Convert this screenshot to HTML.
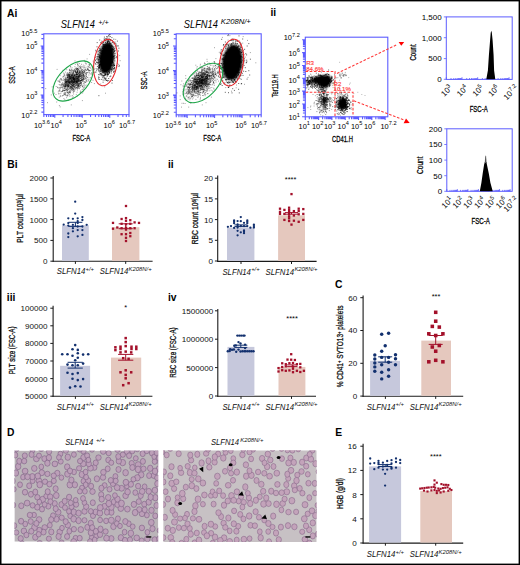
<!DOCTYPE html>
<html><head><meta charset="utf-8"><style>
html,body{margin:0;padding:0;background:#fff;width:520px;height:565px;overflow:hidden}
svg text{font-family:"Liberation Sans",sans-serif}
</style></head><body>
<svg width="520" height="565" viewBox="0 0 520 565" style="position:absolute;left:0;top:0">
<defs><filter id="bl22" x="-50%" y="-50%" width="200%" height="200%"><feGaussianBlur stdDeviation="2.2"/></filter><filter id="bl09" x="-50%" y="-50%" width="200%" height="200%"><feGaussianBlur stdDeviation="0.9"/></filter><filter id="bl08" x="-50%" y="-50%" width="200%" height="200%"><feGaussianBlur stdDeviation="0.8"/></filter><filter id="bls" x="0" y="0" width="100%" height="100%"><feGaussianBlur stdDeviation="0.5"/></filter></defs>
<rect x="0" y="0" width="520" height="1.4" fill="#000" />
<rect x="0" y="0" width="1.5" height="565" fill="#000" />
<rect x="518.6" y="0" width="1.4" height="565" fill="#000" />
<rect x="0" y="563.6" width="520" height="1.4" fill="#000" />
<text x="7" y="16.6" font-size="10.3" text-anchor="start" font-weight="bold" font-style="normal" fill="#000" >Ai</text>
<text x="270.5" y="16.4" font-size="10.3" text-anchor="start" font-weight="bold" font-style="normal" fill="#000" >ii</text>
<text x="7.3" y="167.9" font-size="10.3" text-anchor="start" font-weight="bold" font-style="normal" fill="#000" >Bi</text>
<text x="168" y="167.8" font-size="10.3" text-anchor="start" font-weight="bold" font-style="normal" fill="#000" >ii</text>
<text x="6.8" y="300.8" font-size="10.3" text-anchor="start" font-weight="bold" font-style="normal" fill="#000" >iii</text>
<text x="168" y="300.8" font-size="10.3" text-anchor="start" font-weight="bold" font-style="normal" fill="#000" >iv</text>
<text x="335" y="287.7" font-size="10.3" text-anchor="start" font-weight="bold" font-style="normal" fill="#000" >C</text>
<text x="7" y="435.7" font-size="10.3" text-anchor="start" font-weight="bold" font-style="normal" fill="#000" >D</text>
<text x="335.2" y="435.8" font-size="10.3" text-anchor="start" font-weight="bold" font-style="normal" fill="#000" >E</text>
<path d="M41.4 112.13H43.8M41.4 107.81H43.8M41.4 104.76H43.8M41.4 102.38H43.8M41.4 100.44H43.8M41.4 98.8H43.8M41.4 97.38H43.8M41.4 96.13H43.8M40.6 95.01H43.8M41.4 87.64H43.8M41.4 83.33H43.8M41.4 80.27H43.8M41.4 77.9H43.8M41.4 75.96H43.8M41.4 74.32H43.8M41.4 72.9H43.8M41.4 71.65H43.8M40.6 70.53H43.8M41.4 63.16H43.8M41.4 58.85H43.8M41.4 55.79H43.8M41.4 53.41H43.8M41.4 51.47H43.8M41.4 49.84H43.8M41.4 48.42H43.8M41.4 47.16H43.8M40.6 46.04H43.8M41.4 38.67H43.8M41.4 34.36H43.8M43.86 114.6V117M46.52 114.6V117M48.7 114.6V117M50.54 114.6V117M52.13 114.6V117M53.54 114.6V117M54.79 114.6V117.8M63.07 114.6V117M67.91 114.6V117M71.34 114.6V117M74 114.6V117M76.18 114.6V117M78.02 114.6V117M79.61 114.6V117M81.02 114.6V117M82.28 114.6V117.8M90.55 114.6V117M95.39 114.6V117M98.82 114.6V117M101.49 114.6V117M103.66 114.6V117M105.5 114.6V117M107.1 114.6V117M108.5 114.6V117M109.76 114.6V117.8M118.03 114.6V117M122.87 114.6V117M126.31 114.6V117M128.97 114.6V117" stroke="#5c5cff" stroke-width="1.1" fill="none"/>
<rect x="43.8" y="33.8" width="85.2" height="80.8" fill="none" stroke="#5c5cff" stroke-width="1.1"/>
<ellipse cx="75" cy="79" rx="7" ry="3.2" transform="rotate(-45 75 79)" fill="#000" fill-opacity="0.18" filter="url(#bl22)"/>
<path d="M72.5 77.5h0M72.8 74.3h0M73.0 81.3h0M66.1 81.7h0M71.6 82.0h0M68.9 85.7h0M82.5 86.8h0M79.7 68.8h0M71.2 82.0h0M70.3 82.7h0M78.8 78.0h0M80.0 80.8h0M73.5 77.3h0M66.3 82.4h0M69.0 74.3h0M75.6 72.4h0M68.3 89.2h0M71.9 82.4h0M59.9 87.5h0M65.6 85.9h0M63.7 90.5h0M74.7 82.5h0M65.0 85.1h0M75.3 77.1h0M69.5 72.7h0M69.6 76.9h0M64.8 99.7h0M64.2 75.6h0M73.1 78.7h0M75.9 79.5h0M64.2 87.4h0M69.0 79.7h0M68.5 85.1h0M69.7 84.3h0M80.5 72.9h0M63.6 78.2h0M73.8 79.2h0M77.0 71.5h0M69.3 81.2h0M74.6 80.9h0M77.2 80.9h0M77.8 82.0h0M65.6 85.2h0M78.0 82.1h0M86.4 75.2h0M69.0 92.4h0M84.1 78.9h0M74.7 78.3h0M70.1 82.7h0M89.1 70.3h0M74.6 70.5h0M68.1 87.3h0M73.2 77.3h0M76.7 74.9h0M67.7 75.0h0M75.7 72.5h0M74.0 79.8h0M81.4 78.4h0M86.3 74.2h0M70.2 83.3h0M75.1 77.7h0M69.0 79.5h0M76.6 80.1h0M66.6 85.7h0M73.0 84.9h0M79.0 86.4h0M79.7 74.1h0M76.4 67.8h0M63.8 84.6h0M65.0 79.5h0M74.4 71.8h0M66.9 95.6h0M72.5 83.0h0M69.0 75.1h0M84.1 74.2h0M82.7 79.5h0M71.4 80.3h0M70.1 79.5h0M71.9 79.9h0M84.5 71.4h0M74.0 84.1h0M76.5 85.1h0M80.5 81.3h0M77.6 84.1h0M77.8 85.1h0M70.0 88.3h0M69.5 74.6h0M71.4 81.7h0M82.4 73.6h0M77.1 74.4h0M77.3 82.6h0M77.3 74.4h0M69.5 78.5h0M85.4 77.9h0M76.6 81.7h0M78.7 76.7h0M69.8 90.2h0M80.0 80.9h0M65.6 90.6h0M54.4 83.6h0M70.5 79.1h0M67.7 83.4h0M72.3 75.3h0M88.5 66.8h0M73.4 88.3h0M69.2 81.6h0M72.0 74.6h0M84.0 83.2h0M72.0 79.1h0M69.3 76.7h0M79.4 76.1h0M79.0 77.8h0M66.1 83.3h0M76.6 82.5h0M73.1 77.7h0M65.2 82.8h0M76.6 78.5h0M71.9 87.1h0M78.2 71.7h0M76.7 79.4h0M74.7 78.7h0M80.2 92.2h0M71.5 77.9h0M67.1 95.9h0M67.6 86.0h0M76.2 76.9h0M64.2 94.5h0M82.4 77.4h0M68.2 94.0h0M80.1 76.1h0M67.5 82.6h0M77.4 73.1h0M76.9 80.4h0M67.3 90.5h0M86.5 76.6h0M84.4 72.3h0M77.6 83.3h0M77.8 86.1h0M74.1 81.0h0M63.9 80.5h0M77.2 69.1h0M66.6 78.0h0M79.4 85.0h0M67.0 81.5h0M74.8 87.2h0M68.8 89.0h0M87.5 77.6h0M76.8 83.7h0M79.9 73.4h0M73.9 78.8h0M70.7 83.9h0M73.1 82.0h0M69.4 81.1h0M74.4 79.3h0M77.5 87.0h0M67.2 75.7h0M67.2 88.5h0M66.8 81.3h0M84.9 70.3h0M73.2 86.2h0M68.1 85.6h0M79.0 80.0h0M77.7 66.0h0M69.5 91.7h0M71.3 78.8h0M72.8 85.3h0M64.6 90.6h0M70.5 66.7h0M71.9 77.2h0M75.6 79.8h0M75.1 89.0h0M78.1 77.7h0M72.1 83.5h0M69.1 75.8h0M72.6 90.7h0M73.2 92.6h0M82.5 71.7h0M70.8 81.8h0M71.0 72.5h0M77.2 82.6h0M80.7 90.9h0M73.8 84.8h0M82.4 79.9h0M74.5 83.1h0M70.4 77.2h0M79.0 83.7h0M77.5 68.5h0M77.9 74.8h0M77.7 78.1h0M74.0 85.7h0M67.6 89.1h0M81.4 75.1h0M77.8 71.3h0M69.5 76.1h0M77.9 76.5h0M76.8 72.5h0M75.2 70.3h0M75.9 69.9h0M70.2 80.6h0M77.5 64.5h0M62.7 82.5h0M74.3 69.1h0M78.0 77.2h0M81.0 75.6h0M92.2 74.9h0M78.4 65.8h0M65.5 84.1h0M67.4 92.5h0M78.6 73.9h0M67.4 84.5h0M80.0 85.1h0M78.4 73.4h0M61.0 85.5h0M57.7 87.7h0M77.1 79.1h0M75.8 80.2h0M68.6 76.5h0M71.5 76.1h0M71.1 86.4h0M67.4 90.4h0M71.4 78.4h0M70.8 87.3h0M66.6 91.1h0M71.7 70.7h0M73.1 78.8h0M78.3 78.4h0M66.8 83.5h0M63.6 76.5h0M67.6 84.5h0M71.7 87.2h0M80.8 83.5h0M62.7 77.0h0M85.1 85.9h0M72.9 73.8h0M89.6 70.6h0M70.2 91.8h0M83.0 77.4h0M74.5 80.5h0M70.6 75.8h0M67.9 90.1h0M69.4 79.9h0M70.7 66.9h0M83.2 89.2h0M77.3 81.3h0M78.7 87.1h0M78.4 69.7h0M79.1 84.4h0M66.6 97.7h0M75.4 88.7h0M62.7 91.1h0M51.3 94.9h0M70.8 82.1h0M75.3 64.4h0M69.2 73.7h0M67.8 86.8h0M65.7 81.9h0M80.7 72.2h0M75.1 78.2h0M81.1 85.5h0M78.4 84.0h0M74.6 79.1h0M83.2 78.6h0M75.2 73.7h0M74.7 77.1h0M71.3 88.7h0M73.5 72.4h0M69.5 82.7h0M76.7 68.7h0M67.3 87.4h0M79.0 85.6h0M72.0 77.1h0M67.4 88.1h0M81.8 66.4h0M79.4 67.1h0M67.7 78.2h0M83.8 79.6h0M84.4 84.9h0M60.5 96.6h0M73.7 75.7h0M76.4 82.2h0M73.9 77.9h0M70.7 88.5h0M73.8 82.0h0M74.4 81.5h0M83.5 74.4h0M74.6 75.6h0M73.2 78.2h0M78.0 64.8h0M69.8 81.4h0M67.6 77.2h0M63.2 89.8h0M80.7 67.1h0M80.6 74.1h0M81.4 75.5h0M73.9 70.9h0M72.5 76.2h0M72.7 75.2h0M75.4 83.4h0M78.8 86.3h0M77.6 81.9h0M82.3 69.4h0M82.6 81.0h0M69.2 74.9h0M75.9 87.8h0M68.6 81.1h0M75.0 60.9h0M86.1 85.1h0M80.0 84.2h0M69.1 78.2h0M68.5 86.6h0M73.4 79.2h0M80.0 74.6h0M67.3 77.0h0M70.9 78.6h0M74.7 82.3h0M75.9 79.6h0M68.9 92.9h0M73.4 81.2h0M77.1 92.2h0M77.4 71.9h0M70.8 84.9h0M71.7 69.8h0M79.5 66.4h0M77.0 85.7h0M67.9 80.0h0M77.4 80.1h0M74.3 79.3h0M65.2 82.0h0M76.1 75.6h0M84.8 65.9h0M71.4 79.4h0M75.7 83.2h0M70.4 87.8h0M74.5 75.7h0M64.1 84.0h0M68.8 87.0h0M81.8 71.6h0M72.5 88.2h0M89.6 81.7h0M86.3 73.2h0M75.9 77.8h0M77.2 75.7h0M83.3 65.1h0M70.4 77.7h0M67.7 79.8h0M65.2 86.3h0M73.4 77.9h0M85.7 73.1h0M78.9 72.5h0M68.3 84.5h0M65.5 80.6h0M76.9 87.8h0M77.9 79.4h0M79.1 86.5h0M78.4 80.8h0M81.1 82.6h0M71.9 80.5h0M76.6 82.1h0M84.5 87.1h0M70.0 76.0h0M81.3 80.3h0M91.1 73.9h0M79.4 77.4h0M77.3 81.7h0M68.6 93.7h0M74.6 75.0h0M64.3 92.4h0M63.2 85.0h0M77.3 72.2h0M76.6 73.3h0M73.1 79.9h0M64.8 90.1h0M73.8 83.2h0M65.7 78.8h0M84.9 82.3h0M91.8 69.9h0M78.2 80.6h0M68.7 82.9h0M67.3 86.2h0M76.0 81.7h0M74.8 81.9h0M62.1 80.7h0M77.7 81.3h0M77.4 96.1h0M74.9 66.7h0M84.1 76.5h0M82.2 74.3h0M71.3 81.9h0M82.1 81.0h0M69.8 76.3h0M72.7 82.4h0M77.4 86.4h0M66.1 86.6h0M64.5 86.7h0M79.6 75.2h0M71.9 79.2h0M81.0 83.4h0M77.4 70.5h0M67.1 92.7h0M65.7 80.0h0M77.8 80.7h0M76.5 76.8h0M63.6 73.1h0M80.6 73.4h0M72.2 74.7h0M65.8 85.2h0M74.1 90.2h0M75.5 71.0h0M73.7 73.2h0M68.0 95.6h0M82.9 71.9h0M83.2 81.1h0M83.6 72.6h0M69.3 78.8h0M72.5 81.0h0M71.9 90.3h0M92.7 67.6h0M73.5 80.5h0M84.1 70.2h0M70.3 83.0h0M73.5 76.6h0M71.0 95.9h0M72.2 81.8h0M76.6 69.9h0M65.5 85.3h0M83.3 75.6h0M78.6 79.6h0M67.8 85.2h0M69.3 80.2h0M71.9 82.3h0M68.6 74.2h0M67.0 78.3h0M72.3 87.1h0M71.1 79.7h0M69.7 86.9h0M70.9 91.2h0M76.4 82.0h0M79.8 74.3h0M72.5 95.7h0M76.8 81.7h0M69.5 82.2h0M71.1 87.8h0M80.9 75.8h0M68.6 79.7h0M83.6 70.8h0M69.3 83.6h0M70.2 70.6h0M72.6 80.3h0M69.1 83.0h0M76.5 74.5h0M68.1 74.9h0M76.9 74.7h0M74.1 79.6h0M68.4 86.3h0M70.1 76.3h0M76.9 81.3h0M76.1 69.7h0M68.4 84.1h0M78.6 84.1h0M62.0 87.4h0M76.7 73.9h0M71.7 89.5h0M62.5 88.9h0M73.2 78.9h0M81.8 73.7h0M69.0 92.1h0M60.7 78.6h0M67.3 81.1h0M64.4 82.8h0M73.1 73.6h0M66.8 81.4h0M67.4 81.0h0M79.0 77.0h0M67.0 81.0h0M77.5 77.3h0M70.1 86.6h0M64.9 84.3h0M64.0 90.8h0M91.0 73.9h0M73.7 82.5h0M73.8 75.9h0M74.1 79.5h0M72.4 75.5h0M75.7 80.1h0M88.7 71.0h0M65.6 82.9h0M64.6 88.1h0M72.2 89.2h0M64.9 85.8h0M79.6 75.7h0M76.0 71.2h0M66.1 82.5h0M64.5 86.1h0M79.5 88.7h0M81.4 69.9h0M56.0 94.5h0M75.8 74.5h0M67.6 85.4h0M82.8 75.5h0M68.7 86.5h0M79.5 87.9h0M66.2 89.1h0M73.4 90.0h0M83.6 72.2h0M81.3 76.6h0M67.4 77.2h0M68.9 84.3h0M63.0 90.5h0M71.4 81.0h0M67.3 72.7h0M76.9 82.9h0M72.7 78.8h0M66.4 84.7h0M73.3 79.1h0M73.5 79.0h0M83.5 73.2h0M81.5 64.3h0M70.7 77.3h0M70.9 85.0h0M74.6 80.4h0M69.7 81.9h0M68.2 82.0h0M71.4 77.1h0M68.1 85.5h0M81.9 79.7h0M70.4 76.7h0M80.9 83.0h0M76.2 83.3h0M68.7 82.3h0M71.4 87.7h0M68.3 76.1h0M65.6 77.1h0M71.7 73.9h0M73.1 78.2h0M65.3 86.5h0M73.2 77.4h0M66.8 87.8h0M63.9 76.2h0M74.4 82.9h0M57.6 87.2h0M72.9 76.8h0M74.1 77.3h0M69.8 76.7h0M67.5 77.6h0M69.0 78.4h0M68.7 85.3h0M74.8 83.0h0M73.1 84.6h0M71.8 75.7h0M64.8 84.1h0M72.9 75.1h0M76.8 80.1h0M67.0 73.7h0M75.9 86.1h0M76.2 74.6h0M62.1 86.8h0M78.3 77.9h0M79.3 81.4h0M77.3 78.9h0M80.2 80.6h0M71.1 83.8h0M77.0 85.0h0M82.3 79.8h0M76.7 76.6h0M80.4 83.0h0M66.0 89.0h0M78.0 76.6h0M78.4 69.6h0M79.6 72.6h0M78.4 80.6h0M61.0 84.5h0M82.2 76.0h0M74.8 81.5h0M60.4 95.4h0M69.6 70.1h0M65.3 88.0h0M68.9 89.3h0M68.2 80.8h0M82.4 72.2h0M64.6 74.0h0M78.3 80.1h0M82.7 67.0h0M86.8 72.9h0M67.9 74.1h0M75.3 83.2h0M66.2 86.2h0M73.0 86.3h0M74.0 74.0h0M74.8 75.1h0M82.4 86.1h0M77.7 70.9h0M67.6 81.8h0M73.3 78.9h0M75.5 71.8h0M81.8 79.9h0M86.5 78.7h0M74.6 74.9h0M67.0 75.7h0M80.5 81.2h0M72.2 89.1h0M67.4 91.9h0M81.7 79.8h0M71.4 77.0h0M75.8 77.1h0M59.9 85.1h0M67.7 77.1h0M74.1 86.3h0M67.2 82.4h0M68.5 100.3h0M72.8 81.7h0M77.7 72.1h0M79.4 79.8h0M76.8 88.9h0M76.0 81.2h0M75.0 71.0h0M59.3 97.1h0M78.2 84.7h0M76.1 74.7h0M76.0 72.9h0M87.9 72.7h0M81.7 73.2h0M72.8 74.1h0M75.1 76.5h0M76.7 72.4h0M72.3 83.7h0M74.6 80.1h0M83.6 77.9h0M88.4 70.2h0M68.5 75.4h0M75.5 81.1h0M78.6 81.2h0M84.0 73.0h0M77.7 83.0h0M81.4 69.0h0M65.7 82.1h0M76.4 83.6h0M69.9 77.2h0M72.1 67.8h0M84.0 76.6h0M63.2 86.1h0M68.1 83.9h0M72.0 73.0h0M66.3 79.1h0M61.7 84.8h0M79.5 72.2h0M78.6 77.8h0M70.0 69.1h0M74.1 84.8h0M76.8 69.5h0M69.6 77.5h0M83.2 75.2h0M68.8 84.7h0M64.4 79.6h0M81.7 84.3h0M67.5 80.9h0M79.3 76.3h0M76.7 78.6h0M73.6 89.6h0M73.5 77.6h0M75.7 84.9h0M77.5 71.6h0M74.4 86.9h0M69.4 79.6h0M80.5 71.1h0M94.0 72.4h0M87.4 68.7h0M75.2 79.5h0M83.1 85.5h0M84.8 71.6h0M71.1 77.6h0M71.1 87.7h0M71.4 75.0h0M80.9 80.5h0M73.5 88.3h0M62.9 87.4h0M63.9 86.0h0M79.0 76.1h0M70.0 84.1h0M70.5 77.2h0M77.6 80.1h0M71.5 69.2h0M71.1 80.1h0M76.1 75.2h0M68.3 83.9h0M73.4 82.6h0M64.4 81.6h0M83.1 74.7h0M73.8 79.1h0M68.0 81.8h0M68.0 77.1h0M69.3 77.0h0M79.8 76.5h0M61.9 85.8h0M68.5 85.9h0M75.7 85.2h0M92.9 67.8h0M85.3 78.9h0M72.9 79.2h0M75.2 71.7h0M90.0 70.6h0M74.1 81.9h0M76.0 85.3h0M81.7 72.3h0M81.3 80.5h0M81.2 78.3h0M73.8 84.8h0M87.6 69.7h0M85.9 70.6h0M78.6 76.9h0M79.3 76.2h0M65.7 94.8h0M76.6 74.0h0M79.0 86.3h0M76.7 76.6h0M81.8 78.7h0M72.2 81.2h0M63.7 88.7h0M83.3 83.9h0M69.1 82.9h0M68.4 77.3h0M68.6 80.8h0M71.4 80.5h0M67.8 100.2h0M82.4 72.9h0M79.0 81.0h0M77.8 69.6h0M87.4 68.9h0M76.8 81.5h0M69.7 96.1h0M66.9 82.5h0M69.3 88.6h0M72.5 83.5h0M71.6 75.7h0M62.5 91.3h0M75.7 76.6h0M58.0 80.9h0M78.2 79.7h0M75.6 81.9h0M71.2 79.9h0M69.7 75.6h0M76.1 87.5h0M71.7 84.0h0M67.8 92.8h0M78.9 84.3h0M83.8 66.8h0M88.9 70.4h0M81.6 70.9h0M78.5 75.1h0M70.2 83.2h0M83.1 70.9h0M77.8 83.5h0M74.5 80.3h0M72.3 80.7h0M74.1 78.1h0M73.0 83.2h0M71.1 77.1h0M66.4 84.3h0M72.1 81.5h0M86.2 64.1h0M73.7 79.5h0M71.1 78.9h0M84.2 82.9h0M83.0 79.6h0M69.3 87.6h0M73.1 80.6h0M87.1 81.2h0M77.2 78.9h0M74.9 78.5h0M84.7 71.3h0M71.5 84.5h0M79.6 83.6h0M71.3 82.5h0M90.2 77.5h0M60.0 88.2h0M72.8 85.7h0M68.1 79.4h0M84.4 81.5h0M77.0 74.8h0M82.6 71.0h0M68.2 91.9h0M83.0 79.1h0M69.1 77.6h0M69.4 82.3h0M73.2 71.8h0M69.5 85.4h0M61.8 91.5h0M71.2 80.6h0M63.4 86.2h0M69.4 82.1h0M74.3 74.9h0M78.1 79.4h0M88.9 75.0h0M67.0 74.4h0M65.0 88.2h0M68.6 82.6h0M70.6 86.6h0M64.2 83.6h0M76.6 76.4h0M67.3 80.0h0M65.0 93.5h0M79.0 75.7h0M73.3 79.6h0M77.8 78.6h0M74.3 78.1h0M73.2 70.7h0M76.7 81.2h0M82.8 73.1h0M76.5 76.5h0M80.0 80.4h0M80.9 81.0h0M62.3 84.6h0M71.0 77.9h0M78.0 86.1h0M80.3 82.9h0M64.0 85.2h0M80.4 66.0h0M73.0 76.8h0M65.7 85.1h0M59.2 84.5h0M72.9 81.3h0M69.8 75.9h0M66.3 79.8h0M78.0 81.9h0M68.5 81.1h0M77.5 76.0h0M72.2 85.8h0M76.9 82.4h0M79.2 72.6h0M89.9 64.4h0M65.8 82.8h0M77.4 87.9h0M71.6 86.6h0M75.6 71.3h0M67.7 86.3h0M73.9 84.7h0M75.9 81.2h0M74.6 91.3h0M73.3 89.6h0M69.9 80.6h0M61.7 91.7h0M61.7 83.9h0M72.9 82.8h0M75.9 79.1h0M82.2 89.4h0M64.3 90.4h0M64.9 75.4h0M77.1 72.6h0M78.2 76.6h0M69.9 75.9h0M66.4 81.9h0M77.1 74.6h0M72.2 84.1h0M67.0 85.9h0M66.8 81.4h0M85.7 73.5h0M74.1 76.4h0M79.8 71.0h0M67.2 77.9h0M77.5 71.4h0M73.0 85.2h0M68.3 75.2h0M89.0 64.5h0M81.4 77.3h0M70.3 81.3h0M74.8 80.8h0M72.8 73.9h0M86.0 76.6h0M75.2 86.0h0M64.9 90.6h0M67.1 75.5h0M71.2 76.0h0M78.3 82.0h0M87.9 77.3h0M77.3 78.6h0M83.4 78.7h0M66.0 84.1h0M79.0 73.7h0M87.0 67.1h0M80.5 76.3h0M71.0 73.0h0M78.5 81.6h0M89.4 73.2h0M65.3 81.3h0M69.4 75.8h0M78.4 77.9h0M76.8 73.0h0M64.2 74.4h0M79.0 80.3h0M73.4 81.7h0M73.7 77.2h0M80.6 87.2h0M68.2 86.7h0M71.9 77.2h0M80.0 74.6h0M65.4 81.9h0M70.6 78.5h0M79.7 76.8h0M66.3 84.1h0M74.1 76.9h0M73.6 91.2h0M84.0 75.6h0M90.8 68.4h0M88.2 69.2h0M74.8 82.4h0M83.6 79.8h0M75.2 78.7h0M81.1 84.9h0M80.6 67.2h0M65.8 86.5h0M76.3 68.7h0M73.1 78.7h0M84.6 72.8h0M80.3 83.1h0M68.3 81.3h0M76.2 77.9h0M77.7 74.0h0M72.3 76.9h0M73.5 72.7h0M71.6 82.8h0M56.2 86.5h0M80.2 74.5h0M78.7 75.4h0M73.2 76.5h0M71.6 75.8h0M76.2 68.8h0M77.9 88.3h0M65.9 79.3h0M78.4 85.7h0M83.5 74.4h0M65.1 86.6h0M77.8 68.7h0M74.1 86.7h0M73.6 91.7h0M78.9 69.0h0M73.0 79.1h0M70.2 90.6h0M73.5 82.7h0M86.5 80.5h0M79.7 70.6h0M73.7 83.8h0M72.8 73.0h0M85.6 82.1h0M68.3 81.0h0M69.4 70.2h0M73.9 79.3h0M70.9 82.2h0M77.8 88.7h0M73.8 78.0h0M74.6 79.3h0M73.1 84.8h0M77.1 87.2h0M80.9 72.7h0M79.2 81.6h0M81.4 75.9h0M80.7 71.4h0M78.2 76.3h0M88.1 66.1h0M66.6 81.4h0M83.2 78.6h0M68.1 76.9h0M89.3 72.3h0M87.7 72.5h0M62.6 90.8h0M66.3 82.8h0M77.7 74.8h0M80.7 76.3h0M81.3 77.5h0M75.0 80.9h0M80.4 80.0h0M76.6 73.8h0M74.8 80.7h0M75.5 68.3h0M63.6 95.4h0M78.8 76.2h0M67.0 84.3h0M84.0 77.6h0M75.4 83.1h0M60.1 75.6h0M76.9 77.4h0M64.4 80.2h0M72.5 88.4h0M73.3 96.9h0M72.7 78.0h0M77.7 76.8h0M79.8 72.6h0M74.8 81.5h0M82.8 75.4h0M78.8 83.6h0M70.7 76.8h0M83.0 81.2h0M77.8 70.2h0M73.4 82.4h0M76.8 84.7h0M75.9 82.8h0M71.9 76.0h0M66.9 82.6h0M79.1 71.9h0M72.0 81.7h0M81.0 80.5h0M65.4 80.2h0M78.1 78.9h0M78.8 79.2h0M73.8 83.8h0M88.0 69.0h0M81.6 82.2h0M86.6 70.5h0M83.0 76.6h0M72.4 85.3h0M78.1 87.6h0M70.9 70.7h0M79.0 83.3h0M73.9 78.4h0M71.9 80.3h0M60.6 87.1h0M67.1 74.8h0M60.1 91.4h0M74.5 75.1h0M71.8 85.4h0M65.5 79.0h0M77.9 85.5h0M77.0 78.8h0M65.2 87.2h0M61.8 87.6h0M65.6 83.3h0M58.7 88.0h0M67.0 83.5h0M84.0 70.1h0M67.6 85.2h0M73.8 71.0h0M65.5 86.8h0M73.4 74.8h0M73.1 81.9h0M80.2 85.9h0M79.9 78.2h0M83.9 68.0h0M70.4 73.1h0M70.6 74.2h0M63.2 79.8h0M80.3 78.4h0M70.5 78.5h0M79.6 74.8h0M72.2 77.7h0M85.1 69.5h0M67.3 95.8h0M70.5 79.0h0M78.6 73.2h0M69.8 79.0h0M72.6 87.0h0M69.6 77.7h0M62.6 84.0h0M70.7 74.3h0M84.4 60.4h0M82.8 74.2h0M76.3 94.4h0M66.1 81.4h0M75.2 85.0h0M81.3 74.4h0M66.0 80.8h0M69.5 82.7h0M79.0 73.5h0M77.4 72.1h0M78.6 88.0h0M61.7 79.9h0M66.5 89.9h0M71.4 84.7h0M59.4 90.9h0M79.4 75.5h0M73.6 86.1h0M77.9 77.1h0M87.0 69.8h0M83.7 74.8h0M61.1 79.7h0M84.5 79.1h0M88.8 80.0h0M73.3 87.1h0M72.1 88.5h0M69.3 75.6h0M64.6 88.6h0M80.6 68.1h0M58.3 91.9h0M71.1 89.2h0M70.3 78.5h0M72.7 80.4h0M69.3 72.3h0M75.6 77.4h0M73.5 81.1h0M79.0 70.5h0M59.5 89.9h0M80.6 85.6h0M66.3 79.8h0M71.9 75.3h0M73.2 75.6h0M73.0 88.8h0M77.5 90.1h0M80.3 75.9h0M74.2 75.1h0M69.1 82.1h0M90.1 70.8h0M85.3 62.8h0M70.5 92.9h0M80.9 82.3h0M89.6 64.8h0M81.3 76.9h0M78.3 80.6h0M78.3 85.8h0M67.9 79.3h0M77.1 84.6h0M70.0 81.6h0M76.4 72.6h0M72.5 82.2h0M71.2 81.4h0M64.1 83.4h0M69.0 74.6h0M66.1 81.7h0M78.2 85.3h0M87.1 79.7h0M78.8 79.4h0M81.4 80.4h0M74.9 75.7h0M74.6 78.9h0M74.7 81.2h0M69.2 77.8h0M75.8 71.8h0M68.4 86.3h0M81.4 70.5h0M71.2 75.8h0M71.3 85.2h0M70.7 81.5h0M73.8 86.8h0M75.4 78.5h0M69.3 82.8h0M81.7 73.1h0M69.3 83.6h0M58.8 90.8h0M68.9 82.5h0M65.0 93.9h0M76.4 81.8h0M85.0 77.4h0M72.8 70.1h0M65.3 86.2h0M68.6 82.7h0M85.6 69.5h0M74.9 76.1h0M72.9 77.8h0M83.3 75.8h0M89.6 65.5h0M78.4 68.0h0M79.7 83.0h0M79.8 80.6h0M76.3 74.0h0" stroke="#000" stroke-opacity="0.45" stroke-width="0.8" stroke-linecap="square" fill="none"/>
<path d="M79.7 72.4h0M62.2 83.7h0M93.0 80.3h0M73.3 85.3h0M58.4 81.2h0M72.1 86.9h0M64.1 86.2h0M83.6 88.0h0M69.8 74.6h0M63.0 70.3h0M68.2 86.4h0M71.9 78.2h0M45.7 88.6h0M77.2 80.7h0M91.1 78.3h0M66.7 69.7h0M74.8 90.0h0M68.7 80.0h0M82.6 93.0h0M70.0 88.1h0M66.8 85.5h0M69.6 94.6h0M86.3 72.5h0M70.1 78.4h0M85.1 75.5h0M68.4 81.0h0M65.4 72.1h0M80.8 91.9h0M75.6 75.1h0M77.8 70.6h0M76.8 80.4h0M59.6 80.0h0M59.6 81.9h0M86.0 63.5h0M68.0 81.2h0M70.7 84.0h0M91.6 72.7h0M80.8 68.8h0M80.2 78.4h0M72.1 87.4h0M89.6 54.4h0M77.7 78.4h0M73.7 71.6h0M76.3 87.5h0M62.1 96.1h0M60.8 93.3h0M70.6 71.1h0M77.1 77.9h0M67.3 79.7h0M65.5 95.0h0M59.2 93.7h0M66.3 80.3h0M63.9 98.6h0M84.6 76.1h0M80.9 67.7h0M104.3 60.3h0M79.7 71.6h0M66.1 85.0h0M65.6 89.6h0M65.5 84.4h0M70.6 81.9h0M88.9 79.1h0M85.5 82.3h0M77.2 74.4h0M82.4 86.4h0M78.9 74.7h0M88.1 69.4h0M67.3 94.8h0M70.1 86.5h0M71.3 104.9h0M89.0 67.2h0M79.4 63.6h0M85.9 80.1h0M60.1 90.1h0M73.2 78.0h0M57.1 69.4h0M78.3 84.9h0M75.0 86.5h0M81.5 79.9h0M73.9 89.1h0M88.6 80.9h0M75.0 78.6h0M74.6 88.0h0M68.6 78.6h0M67.3 83.4h0M85.3 78.4h0M72.3 85.3h0M69.6 72.2h0M71.1 86.3h0M58.5 93.8h0M77.6 68.9h0M65.3 92.7h0M77.4 72.9h0M69.6 69.9h0M52.7 91.1h0M72.4 97.8h0M61.3 78.8h0M66.5 89.6h0M64.9 94.7h0M82.7 77.1h0M65.2 77.6h0M75.1 76.0h0M69.7 85.6h0M79.5 81.9h0M63.1 84.9h0M67.4 75.9h0M83.0 80.3h0M78.5 85.7h0M70.5 86.9h0M60.2 88.2h0M76.4 81.3h0M76.7 78.3h0M74.5 87.2h0M60.2 82.3h0M78.5 76.5h0M95.1 57.5h0M65.1 78.7h0M77.1 78.9h0M76.6 77.7h0M47.5 102.7h0M76.0 81.7h0M60.0 81.0h0M85.5 68.0h0M72.6 85.3h0M67.2 89.5h0M75.9 88.0h0M69.0 73.9h0M60.9 79.2h0M73.6 82.6h0M62.6 95.5h0M80.7 92.8h0M83.0 76.7h0M87.1 58.9h0M83.2 78.2h0M71.6 74.6h0M77.1 63.3h0M94.4 83.6h0M89.8 67.2h0M86.2 74.3h0M74.5 84.7h0M83.7 87.0h0M76.0 80.7h0M81.4 83.8h0M70.1 74.4h0M59.4 81.8h0M60.2 106.9h0M73.6 94.0h0M56.7 102.0h0M74.7 81.4h0M73.8 81.7h0M54.4 93.2h0M86.4 81.7h0M84.0 76.1h0M76.2 82.4h0M90.1 67.4h0M95.0 68.6h0M64.2 94.4h0M86.0 74.9h0M71.7 71.6h0M79.2 79.5h0M91.6 82.5h0M64.0 85.2h0M67.0 85.9h0M69.5 92.7h0M70.5 92.3h0M75.0 84.8h0M52.2 86.9h0M65.7 92.9h0M72.9 70.3h0M68.6 77.9h0M79.0 80.0h0M54.3 97.0h0M69.5 91.9h0M82.4 100.6h0M76.9 84.3h0M70.9 89.7h0M77.5 68.3h0M69.5 78.6h0M68.3 76.0h0M70.7 78.4h0M74.5 69.5h0M65.6 82.3h0M82.4 69.7h0M72.6 72.2h0M67.9 73.1h0M67.1 74.4h0M79.9 78.3h0M82.6 71.9h0M86.4 77.0h0M81.3 82.3h0M79.5 71.4h0M77.2 83.0h0M77.9 62.9h0M83.2 91.7h0M59.4 105.6h0M84.3 67.7h0M68.6 74.7h0M64.0 93.5h0" stroke="#000" stroke-opacity="0.45" stroke-width="0.8" stroke-linecap="square" fill="none"/>
<ellipse cx="106.5" cy="58" rx="7.6" ry="15.5" transform="rotate(6 106.5 58)" fill="#000" fill-opacity="1" filter="url(#bl09)"/>
<path d="M99.5 50.0h0M104.3 47.8h0M108.5 69.4h0M107.7 49.9h0M103.4 68.2h0M110.2 61.2h0M101.3 66.2h0M106.0 74.8h0M103.8 64.7h0M102.2 65.3h0M109.3 50.2h0M103.0 51.6h0M113.8 65.3h0M102.6 72.4h0M113.5 72.2h0M99.7 79.4h0M108.7 61.6h0M101.3 59.8h0M99.9 67.2h0M107.1 58.7h0M109.4 58.2h0M102.2 48.3h0M110.5 68.2h0M104.2 48.2h0M106.6 63.3h0M109.5 45.5h0M107.9 68.9h0M100.0 48.2h0M112.4 67.0h0M110.4 44.0h0M105.1 54.2h0M101.1 68.9h0M100.2 50.3h0M100.7 58.5h0M109.2 54.3h0M107.3 37.0h0M101.5 60.9h0M103.9 62.3h0M114.1 48.9h0M104.6 63.7h0M104.8 50.9h0M113.1 49.8h0M108.4 58.8h0M107.3 52.2h0M101.7 79.4h0M101.5 43.4h0M100.9 64.8h0M103.5 67.4h0M107.5 40.1h0M109.7 42.6h0M108.3 63.9h0M107.9 54.1h0M107.0 62.1h0M101.2 68.6h0M97.9 54.1h0M105.4 48.4h0M103.6 60.1h0M106.3 49.8h0M101.0 60.9h0M101.6 60.2h0M107.4 45.7h0M105.3 74.5h0M102.7 68.2h0M107.8 66.6h0M106.7 47.4h0M102.6 54.3h0M107.2 53.5h0M114.8 55.5h0M104.8 47.8h0M110.9 63.0h0M112.0 61.2h0M112.4 62.5h0M103.6 53.5h0M113.7 71.3h0M106.8 60.3h0M106.2 52.5h0M109.1 58.2h0M105.8 67.5h0M106.1 55.6h0M112.1 56.8h0M104.1 52.1h0M101.5 64.2h0M110.2 54.7h0M110.0 53.2h0M111.8 52.1h0M101.5 63.2h0M111.5 54.0h0M110.1 43.2h0M113.3 65.0h0M102.0 51.5h0M107.1 61.9h0M105.0 61.8h0M98.7 68.9h0M102.5 67.8h0M111.8 53.7h0M104.7 56.8h0M104.7 46.2h0M108.5 74.4h0M110.2 63.0h0M109.3 71.8h0M103.5 55.2h0M108.2 39.5h0M109.3 73.1h0M103.7 59.1h0M103.2 59.4h0M109.9 59.4h0M112.4 65.1h0M101.2 62.9h0M97.2 42.6h0M99.4 67.9h0M102.8 53.2h0M106.4 54.1h0M107.4 74.7h0M105.0 66.9h0M103.9 55.1h0M108.9 41.4h0M102.3 59.6h0M105.8 63.5h0M103.9 57.5h0M118.9 48.2h0M110.7 51.5h0M104.2 46.5h0M102.1 60.1h0M103.9 65.9h0M98.6 67.3h0M104.2 51.4h0M103.2 60.3h0M109.7 64.0h0M105.2 53.6h0M103.3 56.8h0M98.8 77.6h0M101.4 59.9h0M105.4 66.6h0M106.0 54.4h0M111.2 59.4h0M105.5 42.4h0M110.9 58.7h0M106.4 69.6h0M104.4 77.9h0M96.9 68.7h0M100.4 64.3h0M109.5 59.3h0M112.9 53.6h0M107.5 57.1h0M109.1 64.5h0M105.6 51.1h0M104.0 67.0h0M104.7 49.1h0M112.3 42.5h0M108.9 49.3h0M107.1 43.0h0M106.5 45.7h0M107.7 69.2h0M108.0 56.8h0M102.8 60.2h0M112.5 70.0h0M106.3 70.3h0M107.0 53.8h0M111.4 71.4h0M110.4 62.5h0M106.1 58.5h0M108.3 62.8h0M103.4 44.8h0M104.6 50.9h0M97.2 56.5h0M111.0 64.7h0M98.9 54.2h0M109.5 57.6h0M102.1 67.1h0M101.0 71.1h0M104.9 65.5h0M106.4 70.3h0M109.4 55.0h0M114.2 56.4h0M107.7 61.6h0M110.5 56.1h0M104.5 53.5h0M107.9 74.1h0M107.3 56.7h0M105.5 49.4h0M105.6 63.0h0M104.5 75.5h0M107.2 59.3h0M107.0 70.1h0M104.8 54.2h0M103.9 53.6h0M110.3 52.4h0M99.6 56.4h0M102.1 75.2h0M114.1 48.5h0M93.6 72.5h0M104.6 48.9h0M109.6 56.6h0M98.8 65.5h0M116.7 65.5h0M95.4 60.0h0M114.1 43.9h0M112.7 62.5h0M111.3 49.4h0M103.1 82.2h0M108.2 56.7h0M102.6 59.9h0M111.0 48.2h0M102.3 53.6h0M106.6 46.4h0M109.7 68.0h0M102.1 55.6h0M104.4 63.5h0M107.9 52.2h0M101.4 53.3h0M110.1 70.9h0M108.9 49.7h0M101.9 41.2h0M105.9 62.2h0M104.4 47.6h0M104.2 54.1h0M105.9 67.0h0M104.3 50.6h0M109.7 67.0h0M104.2 51.9h0M109.2 72.7h0M105.0 70.7h0M110.5 54.5h0M104.4 56.3h0M105.2 50.6h0M101.5 59.8h0M107.8 69.4h0M111.8 45.5h0M114.5 67.9h0M113.2 46.8h0M108.4 50.7h0M107.4 41.9h0M106.1 78.1h0M106.3 59.0h0M112.4 61.4h0M111.1 52.7h0M102.0 68.0h0M105.7 38.7h0M112.2 59.3h0M105.6 79.0h0M105.9 54.9h0M111.4 59.2h0M104.2 64.5h0M106.1 50.9h0M104.6 58.5h0M97.4 66.5h0M109.9 60.7h0M101.1 61.4h0M104.5 55.0h0M103.1 61.1h0M109.5 59.3h0M104.8 71.9h0M105.9 65.2h0M99.7 55.5h0M108.5 35.8h0M99.6 64.5h0M107.0 65.6h0M108.9 50.2h0M108.4 40.0h0M116.1 48.8h0M107.8 67.3h0M110.0 48.9h0M107.5 54.3h0M105.5 60.5h0M109.3 70.2h0M111.1 58.8h0M101.2 57.0h0M111.4 53.9h0M107.1 73.8h0M109.5 68.8h0M108.5 57.8h0M102.7 45.0h0M102.4 50.7h0M113.6 64.7h0M108.3 51.9h0M99.7 66.1h0M107.6 62.0h0M104.7 61.0h0M98.2 63.7h0M96.4 62.1h0M100.6 49.9h0M108.0 55.6h0M104.0 80.1h0M106.6 47.2h0M108.2 54.2h0M108.0 68.6h0M97.9 56.1h0M106.0 50.9h0M104.3 45.9h0M100.8 62.9h0M103.2 67.7h0M104.6 71.4h0M105.3 58.9h0M99.4 67.5h0M105.5 48.7h0M114.8 60.9h0M102.8 51.8h0M99.3 59.4h0M106.9 65.6h0M108.0 68.7h0M109.4 49.5h0M100.6 69.7h0M111.1 54.6h0M104.2 48.7h0M101.9 56.4h0M105.4 44.7h0M106.0 58.5h0M109.2 61.5h0M109.3 56.9h0M105.9 63.4h0M110.7 56.0h0M106.8 58.6h0M111.6 45.6h0M100.6 58.3h0M100.8 49.9h0M110.2 54.7h0M100.8 57.0h0M105.1 60.1h0M107.7 43.2h0M106.0 43.8h0M104.9 55.5h0M111.9 63.5h0M95.6 60.7h0M109.3 67.1h0M114.8 71.5h0M106.1 63.1h0M106.4 58.3h0M110.5 49.3h0M115.1 50.6h0M102.0 53.7h0M106.6 61.0h0M105.5 60.5h0M108.8 58.8h0M107.3 57.2h0M108.6 64.6h0M104.5 60.2h0M106.4 61.3h0M103.4 61.1h0M104.3 53.2h0M106.9 48.9h0M105.4 63.0h0M101.2 61.8h0M113.3 57.2h0M106.3 54.6h0M98.5 79.0h0M111.8 52.0h0M103.6 56.2h0M108.4 61.2h0M107.6 47.8h0M107.4 59.7h0M105.5 75.2h0M103.2 66.9h0M106.1 64.4h0M114.4 64.9h0M97.0 58.6h0M105.8 67.4h0M108.5 57.2h0M102.5 54.1h0M100.7 58.8h0M114.6 67.8h0M104.6 61.4h0M114.5 65.7h0M110.7 40.0h0M105.7 69.6h0M106.2 80.4h0M107.9 71.1h0M111.7 56.1h0M109.1 50.8h0M106.8 61.1h0M108.2 49.4h0M111.4 65.8h0M110.4 54.0h0M101.4 66.9h0M102.5 70.8h0M109.9 39.8h0M103.6 60.9h0M105.6 51.9h0M103.9 45.0h0M106.0 52.7h0M108.5 56.7h0M109.7 68.5h0M108.0 44.4h0M114.1 69.1h0M104.2 77.1h0M119.3 65.4h0M110.2 64.0h0M108.6 58.6h0M105.6 47.4h0M94.2 62.2h0M105.5 62.0h0M106.5 65.3h0M112.0 83.1h0M100.0 64.6h0M114.0 63.3h0M103.9 72.8h0M110.8 46.4h0M97.0 46.8h0M107.4 55.1h0M105.7 52.3h0M108.7 65.2h0M107.2 55.6h0M100.0 74.1h0M109.0 73.0h0M108.7 65.9h0M109.4 55.2h0M110.1 64.6h0M110.3 66.5h0M107.4 48.6h0M100.5 61.1h0M100.0 64.4h0M111.9 61.1h0M107.9 73.3h0M105.7 69.8h0M105.5 50.7h0M106.5 59.7h0M107.4 50.8h0M104.5 63.7h0M104.4 50.2h0M114.6 68.0h0M107.1 62.2h0M103.0 67.2h0M101.2 56.6h0M104.9 44.7h0M107.8 75.1h0M109.8 57.2h0M104.2 71.1h0M106.3 62.5h0M104.6 64.6h0M100.1 74.9h0M111.6 62.2h0M106.7 71.6h0M118.3 45.9h0M102.5 66.2h0M106.2 56.2h0M110.3 57.6h0M105.5 58.5h0M100.4 61.1h0M100.9 73.4h0M108.7 41.4h0M107.9 59.1h0M106.8 51.8h0M109.6 69.7h0M111.1 55.0h0M107.4 62.9h0M107.0 54.8h0M104.8 64.6h0M107.8 68.1h0M110.7 55.2h0M106.7 59.0h0M109.8 45.6h0M104.8 61.2h0M99.8 65.8h0M102.9 52.9h0M108.6 69.2h0M110.4 39.5h0M114.9 42.1h0M108.1 45.7h0M110.6 54.4h0M112.0 59.3h0M110.7 58.2h0M104.0 57.6h0M105.0 65.1h0M107.5 54.2h0M103.6 46.4h0M109.7 47.2h0M108.7 78.5h0M106.8 36.5h0M114.9 57.7h0M103.9 71.9h0M105.2 62.9h0M106.3 50.7h0M103.5 58.2h0M107.4 66.7h0M105.4 69.7h0M114.3 50.9h0M108.3 65.8h0M108.5 61.1h0M104.5 68.6h0M99.2 70.7h0M106.5 55.3h0M104.4 44.7h0M110.1 62.6h0M104.6 74.9h0M112.8 65.6h0M109.3 61.0h0M107.7 81.1h0M108.5 49.0h0M106.5 66.9h0M109.8 53.5h0M110.3 59.4h0M103.4 59.0h0M107.1 72.7h0M118.4 51.0h0M106.6 53.5h0M107.0 43.7h0M103.1 62.7h0M100.9 53.6h0M111.1 62.9h0M107.8 48.6h0M108.1 55.3h0M113.2 68.9h0M117.2 58.0h0M102.2 63.9h0M110.4 63.8h0M109.4 55.5h0M109.7 44.2h0M107.5 67.8h0M106.2 60.1h0M112.2 68.3h0M111.0 40.2h0M109.6 43.3h0M113.8 39.2h0M111.1 50.8h0M107.4 68.3h0M107.3 63.9h0M113.9 59.0h0M108.5 59.9h0M105.4 65.5h0M103.2 55.3h0M104.7 62.0h0M102.0 59.3h0M109.1 38.3h0M108.0 55.1h0M96.6 70.2h0M107.0 54.8h0M109.4 57.5h0M107.8 53.0h0M103.0 53.6h0M110.7 69.5h0M103.9 55.7h0M102.4 48.5h0M107.0 53.2h0M112.5 40.7h0M113.2 42.1h0M106.6 65.9h0M100.8 64.5h0M105.6 40.5h0M101.9 66.0h0M105.3 62.7h0M99.9 50.5h0M106.3 65.3h0M110.8 43.7h0M107.1 47.3h0M109.8 45.4h0M103.7 47.8h0M99.6 66.0h0M105.1 45.9h0M112.5 48.4h0M111.7 50.2h0M104.4 60.1h0M111.9 55.9h0M104.3 66.3h0M113.5 52.6h0M109.8 46.8h0M105.1 53.6h0M109.8 59.2h0M104.2 49.5h0M102.3 60.6h0M98.7 74.6h0M108.2 53.2h0M106.2 58.8h0M104.9 70.9h0M105.4 52.2h0M113.3 51.2h0M105.8 48.1h0M103.1 61.7h0M111.2 63.7h0M112.6 57.6h0M107.9 58.9h0M98.0 69.4h0M103.2 66.1h0M110.4 45.6h0M106.6 58.2h0M112.9 60.0h0M100.1 64.4h0M109.6 56.5h0M104.5 52.0h0M112.5 54.6h0M107.9 41.8h0M110.9 58.5h0M104.4 52.4h0M100.2 61.9h0M102.9 48.3h0M104.4 53.9h0M103.2 48.7h0M112.6 48.9h0M111.4 65.3h0M108.1 54.0h0M101.8 61.8h0M107.1 47.8h0M103.6 58.8h0M114.3 43.2h0M108.3 53.9h0M109.1 53.7h0M104.3 63.4h0M98.0 58.9h0M103.5 56.2h0M101.1 65.4h0M107.9 60.0h0M106.4 63.1h0M102.4 64.8h0M105.0 57.3h0M113.4 56.1h0M102.2 60.7h0M103.1 53.8h0M105.2 61.6h0M102.5 68.0h0M103.9 65.8h0M109.1 54.8h0M115.0 47.0h0M99.2 56.8h0M106.6 56.9h0M105.6 68.3h0M106.6 54.5h0M106.0 56.1h0M104.4 64.7h0M111.2 54.1h0M104.8 56.4h0M104.4 73.8h0M105.1 71.8h0M106.4 63.9h0M105.6 60.5h0M111.7 49.6h0M106.0 63.2h0M107.2 58.7h0M106.1 60.1h0M102.9 52.8h0M103.1 57.6h0M102.3 55.9h0M107.0 61.1h0M102.2 70.9h0M101.8 60.9h0M109.1 42.9h0M109.7 49.3h0M100.7 42.7h0M114.4 51.5h0M106.1 63.2h0M105.7 61.7h0M111.6 53.0h0M106.6 60.5h0M104.8 50.8h0M117.1 45.9h0M103.4 44.6h0M107.0 50.1h0M108.7 71.5h0M103.4 45.2h0M104.9 69.5h0M106.9 70.5h0M116.8 57.4h0M102.9 57.2h0M106.9 52.4h0M109.3 58.1h0M106.2 64.2h0M101.5 57.6h0M107.3 67.4h0M105.8 69.0h0M108.1 61.4h0M111.0 61.5h0M110.8 57.9h0M107.9 61.4h0M108.9 47.9h0M101.6 61.3h0M105.8 59.9h0M108.3 50.2h0M102.8 77.7h0M107.9 49.1h0M103.9 49.6h0M112.7 61.3h0M117.4 41.1h0M105.7 50.5h0M109.7 44.1h0M106.5 49.0h0M112.0 57.3h0M108.1 61.2h0M105.8 68.2h0M104.8 65.4h0M105.9 69.0h0M101.8 63.0h0M109.8 54.0h0M102.5 68.0h0M109.3 53.7h0M107.7 52.4h0M109.6 72.6h0M105.7 65.3h0M110.6 60.5h0M102.0 64.5h0M108.2 66.4h0M106.9 45.3h0M107.5 57.2h0M108.0 47.1h0M110.3 59.5h0M98.8 50.9h0M106.6 70.7h0M99.8 62.1h0M112.4 51.0h0M98.3 57.0h0M103.5 46.4h0M99.5 57.6h0M112.9 63.8h0M100.9 59.9h0M108.9 40.2h0M104.6 54.7h0M98.5 61.9h0M104.8 60.7h0M108.2 69.0h0M107.0 46.0h0M110.0 63.2h0M105.7 51.8h0M106.4 59.8h0M104.6 61.6h0M107.3 64.5h0M115.0 53.5h0M107.9 59.8h0M108.5 47.3h0M105.3 44.7h0M102.9 62.8h0M112.7 58.1h0M103.5 42.5h0M103.6 49.7h0M106.1 58.1h0M103.3 72.2h0M113.7 68.5h0M95.9 64.3h0M109.8 41.6h0M109.6 57.4h0M101.4 61.9h0M103.5 61.3h0M108.0 62.0h0M113.6 56.5h0M101.0 73.8h0M98.5 70.9h0M110.7 57.5h0M113.9 49.6h0M103.2 76.8h0M97.8 51.9h0M111.5 69.7h0M103.9 75.5h0M112.2 49.7h0M106.1 60.6h0M105.3 54.6h0M104.2 62.5h0M112.4 61.6h0M110.7 76.6h0M97.1 62.5h0M102.7 57.5h0M112.9 69.1h0M105.3 55.3h0M101.2 54.0h0M104.4 78.7h0M106.9 50.3h0M106.6 53.4h0M104.5 58.2h0M106.3 48.0h0M106.7 38.3h0M106.9 67.9h0M103.9 50.3h0M105.9 52.8h0M106.3 54.5h0M113.0 49.5h0M109.2 48.2h0M105.9 59.4h0M106.5 80.4h0M107.5 64.9h0M110.4 65.3h0M110.1 44.3h0M114.1 58.5h0M113.3 47.6h0M105.6 65.1h0M105.0 55.7h0M110.2 58.7h0M108.8 57.4h0M106.7 52.5h0M101.9 43.2h0M98.3 62.5h0M109.4 45.3h0M110.9 47.4h0M110.2 55.6h0M101.9 50.9h0M110.6 60.8h0M103.3 67.1h0M107.9 60.4h0M108.1 60.0h0M103.2 57.8h0M103.3 65.6h0M99.7 40.0h0M102.4 60.9h0M99.9 48.5h0M109.6 46.7h0M106.8 58.0h0M110.8 54.8h0M107.5 63.5h0M102.8 67.9h0M110.3 36.6h0M105.0 57.1h0M107.2 76.3h0M107.0 66.1h0M101.0 70.9h0M106.5 58.9h0M108.2 44.7h0M106.4 47.4h0M109.6 64.9h0M112.8 67.6h0M105.7 51.0h0M105.4 55.3h0M96.9 59.4h0M107.7 41.7h0M105.1 54.5h0M96.0 72.0h0M105.6 78.3h0M109.1 57.2h0M101.7 74.6h0M105.5 52.9h0M103.3 50.0h0M111.9 37.6h0M99.3 66.1h0M105.6 54.4h0M112.4 80.5h0M106.5 61.0h0M108.3 59.9h0M107.7 41.2h0M100.2 71.3h0M106.8 54.6h0M108.4 56.7h0M104.4 37.1h0M107.1 66.7h0M110.8 67.7h0M111.6 52.8h0M99.9 58.1h0M102.1 61.2h0M98.9 66.2h0M110.9 59.4h0M107.4 74.2h0M109.7 56.0h0M103.5 52.0h0M102.1 53.1h0M109.3 34.5h0M107.8 50.6h0M102.0 66.9h0M106.9 60.5h0M110.0 50.7h0M107.2 61.3h0M104.2 38.9h0M98.0 54.4h0M105.0 62.7h0M106.6 64.5h0M106.2 50.7h0M103.9 66.2h0M101.8 75.0h0M110.0 54.4h0M105.6 64.8h0M108.6 43.6h0M104.4 39.4h0M103.4 63.4h0M107.2 58.5h0M102.2 59.4h0M101.9 52.1h0M105.5 55.1h0M110.8 66.0h0M105.7 74.0h0M112.9 56.7h0M107.6 42.7h0M104.0 69.7h0M100.1 63.0h0M103.5 64.1h0M112.4 60.3h0M105.7 79.7h0M109.5 59.0h0M109.0 63.1h0M108.3 40.9h0M106.3 52.6h0M107.7 51.7h0M109.4 58.0h0M108.1 61.4h0M109.3 51.3h0M105.5 74.1h0M104.4 47.8h0M105.9 53.7h0M102.4 59.8h0M112.0 46.9h0M97.2 62.4h0M105.0 63.8h0M116.8 56.4h0M103.3 75.5h0M101.7 58.3h0M106.2 60.6h0M112.9 49.7h0M107.5 42.5h0M109.7 52.5h0M107.3 55.1h0M105.4 53.6h0M119.0 66.5h0M109.2 36.0h0M105.4 47.3h0M106.3 40.9h0M106.8 70.6h0M108.8 53.0h0M110.3 53.6h0M108.2 47.9h0M99.7 65.7h0M109.2 54.5h0M105.0 59.9h0M107.3 39.1h0M99.2 68.2h0M103.8 61.4h0M103.0 62.8h0M105.2 69.5h0M100.7 55.6h0M106.9 56.5h0M106.4 64.7h0M101.5 61.5h0M104.2 55.5h0M102.9 58.1h0M110.8 53.8h0M95.3 63.6h0M104.2 66.5h0M99.6 57.4h0M102.9 75.3h0M111.6 44.2h0M104.1 55.6h0M105.5 74.0h0M103.4 53.8h0M116.2 44.1h0M109.0 71.4h0M110.7 63.6h0M102.2 46.4h0M101.2 64.8h0M112.1 49.0h0M107.0 45.5h0M105.6 56.5h0M108.4 53.7h0M102.4 47.3h0M110.1 55.0h0M107.6 48.8h0M108.5 58.8h0M103.8 57.6h0M108.0 65.2h0M104.0 53.5h0M111.8 46.1h0M112.6 46.3h0M110.6 56.2h0M107.2 72.5h0M108.4 66.2h0M95.9 50.9h0M109.1 67.2h0M106.5 47.2h0M106.0 67.5h0M105.7 54.4h0M100.0 64.6h0M103.7 63.6h0M109.6 55.8h0M112.1 61.7h0M105.0 47.9h0M102.8 57.0h0M111.6 68.7h0M98.9 95.7h0M114.5 65.5h0M106.7 58.9h0M103.8 48.3h0M109.6 68.3h0M115.2 43.4h0M101.3 50.0h0M112.7 62.1h0M106.5 46.8h0M111.3 73.0h0M103.9 68.0h0M100.5 52.1h0M109.2 53.1h0M111.7 46.2h0M116.7 46.0h0M113.3 62.9h0M108.8 64.2h0M105.2 61.2h0M104.1 60.3h0M105.9 52.7h0M102.7 61.1h0M106.8 44.3h0M95.9 57.0h0M105.9 71.8h0M105.1 70.3h0M117.7 54.9h0M110.0 55.3h0M103.2 70.7h0M107.2 74.9h0M102.9 43.6h0M104.4 53.9h0M98.5 59.4h0M111.4 70.0h0M109.8 50.6h0M101.0 63.5h0M106.6 55.3h0M108.2 80.5h0M108.2 62.3h0M108.3 57.0h0M103.3 54.6h0M102.9 67.6h0M106.3 64.4h0M111.4 48.4h0" stroke="#000" stroke-opacity="0.7" stroke-width="0.9" stroke-linecap="square" fill="none"/>
<path d="M110.3 34.5h0M98.6 56.1h0M101.4 63.2h0M98.1 64.0h0M98.2 60.6h0M103.1 51.2h0M98.7 76.4h0M110.2 53.7h0M110.2 69.0h0M105.2 57.4h0M100.9 46.8h0M109.5 76.7h0M95.7 50.1h0M110.1 65.9h0M110.6 57.2h0M111.2 69.5h0M105.1 59.5h0M99.2 54.9h0M100.7 84.0h0M109.9 58.7h0M101.8 58.5h0M103.3 48.4h0M98.8 51.7h0M98.5 67.1h0M110.7 67.4h0M109.0 61.0h0M100.1 52.3h0M99.0 67.6h0M104.8 41.7h0M109.9 57.4h0M99.5 57.3h0M106.2 51.4h0M93.2 61.1h0M99.5 52.7h0M109.7 52.2h0M109.6 81.1h0M98.5 68.2h0M100.2 73.4h0M111.0 61.9h0M102.8 71.1h0M102.1 69.0h0M108.0 74.4h0M104.7 86.9h0M113.2 59.1h0M110.7 64.2h0M102.9 59.9h0M107.5 45.5h0M98.1 60.2h0M99.7 67.2h0M112.7 55.2h0M95.4 72.3h0M110.7 75.6h0M108.4 56.6h0M103.8 76.4h0M107.5 80.4h0M108.6 66.3h0M114.6 50.9h0M102.2 76.7h0M105.1 59.0h0M105.2 56.7h0M117.4 63.4h0M112.5 55.7h0M99.5 72.1h0M103.4 69.2h0M100.6 73.9h0M105.7 67.3h0M108.4 52.4h0M120.2 60.7h0M94.3 69.4h0M112.9 57.2h0M105.5 93.2h0M102.3 57.9h0M106.0 54.5h0M102.0 73.2h0M105.7 69.2h0M112.3 61.3h0M97.4 57.5h0M113.6 66.5h0M103.1 69.9h0M114.4 70.3h0M109.1 57.9h0M113.2 66.5h0M108.7 70.6h0M111.9 70.0h0M102.3 50.7h0M111.2 52.9h0M110.8 58.9h0M118.6 64.3h0M93.2 69.8h0M104.4 67.6h0M112.8 60.3h0M98.8 60.4h0M102.9 80.1h0M119.7 55.6h0M114.4 65.2h0M99.2 77.6h0M114.4 65.7h0M115.7 39.4h0M110.5 65.6h0M109.0 57.0h0M107.9 59.9h0M99.9 71.9h0M102.7 65.8h0M111.0 58.6h0M106.1 70.8h0M116.9 66.9h0M104.2 61.9h0" stroke="#000" stroke-opacity="0.45" stroke-width="0.8" stroke-linecap="square" fill="none"/>
<ellipse cx="105.6" cy="62.6" rx="11.6" ry="23.4" transform="rotate(9 105.6 62.6)" fill="none" stroke="#e8262b" stroke-width="1.1"/>
<ellipse cx="73" cy="81" rx="24.6" ry="14.2" transform="rotate(-45 73 81)" fill="none" stroke="#1fa64a" stroke-width="1.1"/>
<path d="M173.8 112.32H176.2M173.8 108H176.2M173.8 104.93H176.2M173.8 102.55H176.2M173.8 100.61H176.2M173.8 98.97H176.2M173.8 97.54H176.2M173.8 96.29H176.2M173 95.16H176.2M173.8 87.77H176.2M173.8 83.45H176.2M173.8 80.39H176.2M173.8 78.01H176.2M173.8 76.06H176.2M173.8 74.42H176.2M173.8 73H176.2M173.8 71.74H176.2M173 70.62H176.2M173.8 63.23H176.2M173.8 58.91H176.2M173.8 55.84H176.2M173.8 53.46H176.2M173.8 51.52H176.2M173.8 49.87H176.2M173.8 48.45H176.2M173.8 47.2H176.2M173 46.07H176.2M173.8 38.68H176.2M173.8 34.36H176.2M176.26 114.8V117.2M178.91 114.8V117.2M181.08 114.8V117.2M182.92 114.8V117.2M184.51 114.8V117.2M185.91 114.8V117.2M187.17 114.8V118M195.42 114.8V117.2M200.25 114.8V117.2M203.68 114.8V117.2M206.33 114.8V117.2M208.5 114.8V117.2M210.34 114.8V117.2M211.93 114.8V117.2M213.33 114.8V117.2M214.59 114.8V118M222.84 114.8V117.2M227.67 114.8V117.2M231.1 114.8V117.2M233.75 114.8V117.2M235.92 114.8V117.2M237.76 114.8V117.2M239.35 114.8V117.2M240.75 114.8V117.2M242.01 114.8V118M250.26 114.8V117.2M255.09 114.8V117.2M258.51 114.8V117.2M261.17 114.8V117.2" stroke="#5c5cff" stroke-width="1.1" fill="none"/>
<rect x="176.2" y="33.8" width="85" height="81" fill="none" stroke="#5c5cff" stroke-width="1.1"/>
<ellipse cx="201.5" cy="81.5" rx="7" ry="3.4" transform="rotate(-45 201.5 81.5)" fill="#000" fill-opacity="0.2" filter="url(#bl22)"/>
<path d="M203.5 80.7h0M202.6 80.4h0M196.4 81.6h0M196.4 83.1h0M202.8 83.5h0M194.9 87.7h0M189.4 86.1h0M206.9 71.7h0M197.3 81.3h0M200.8 82.1h0M200.9 83.6h0M201.6 82.3h0M199.1 79.8h0M201.6 81.8h0M191.5 82.5h0M197.2 66.6h0M196.6 86.3h0M202.0 70.1h0M186.0 90.9h0M190.4 84.6h0M209.4 78.1h0M196.1 78.9h0M197.9 87.2h0M201.8 78.1h0M190.4 84.4h0M196.2 76.3h0M188.9 97.5h0M199.6 86.2h0M199.7 88.8h0M210.7 84.9h0M207.5 77.6h0M196.7 88.4h0M210.7 71.7h0M197.8 86.1h0M187.1 93.7h0M183.2 93.8h0M217.4 79.3h0M194.2 76.3h0M197.9 87.0h0M197.9 88.2h0M194.8 89.4h0M206.2 70.4h0M199.9 81.9h0M210.6 69.3h0M196.2 79.6h0M186.3 96.5h0M204.9 75.4h0M196.9 82.4h0M201.9 85.8h0M207.2 68.7h0M200.9 85.2h0M206.2 72.7h0M202.4 83.5h0M196.6 86.9h0M205.0 79.7h0M193.9 82.4h0M206.0 71.7h0M204.1 73.1h0M202.0 82.2h0M207.3 80.7h0M208.2 82.1h0M197.6 82.0h0M206.8 76.7h0M194.1 77.9h0M197.3 70.6h0M192.1 85.0h0M199.4 79.1h0M198.3 74.1h0M190.0 80.9h0M200.2 86.4h0M194.9 82.5h0M199.8 71.7h0M204.4 94.3h0M204.3 79.8h0M209.4 71.4h0M205.5 82.0h0M188.4 89.4h0M207.1 86.5h0M202.2 70.2h0M194.8 79.3h0M207.4 74.5h0M202.2 75.5h0M208.4 84.0h0M193.9 78.1h0M195.3 82.6h0M200.2 84.3h0M203.3 83.4h0M207.6 82.0h0M204.7 80.4h0M206.6 91.2h0M199.8 79.8h0M204.0 80.0h0M193.8 94.8h0M195.1 85.5h0M195.0 85.8h0M198.1 81.5h0M197.1 81.3h0M195.5 79.6h0M193.7 85.4h0M199.9 72.4h0M204.0 81.3h0M185.4 86.6h0M208.0 88.7h0M199.7 94.5h0M215.3 74.9h0M197.4 83.9h0M196.5 82.2h0M205.6 85.4h0M200.3 83.6h0M202.5 84.0h0M208.1 69.7h0M206.0 83.9h0M203.4 73.8h0M208.3 75.1h0M189.0 82.0h0M209.2 69.0h0M206.9 79.1h0M205.4 74.3h0M194.1 85.6h0M208.7 79.3h0M203.3 78.9h0M201.8 89.3h0M207.0 59.3h0M206.4 80.1h0M201.2 84.9h0M196.9 75.3h0M202.2 71.7h0M210.9 77.6h0M201.0 74.5h0M206.4 72.0h0M212.1 74.6h0M192.1 88.3h0M199.5 86.3h0M192.2 84.6h0M202.6 82.1h0M213.6 76.4h0M206.1 78.7h0M187.0 80.8h0M201.3 85.7h0M207.5 75.5h0M194.6 81.9h0M205.1 87.0h0M196.9 73.9h0M195.9 99.4h0M203.7 74.7h0M208.4 84.9h0M204.3 78.0h0M190.4 83.3h0M196.5 86.8h0M198.3 86.5h0M204.3 82.0h0M205.0 84.8h0M198.7 77.9h0M213.8 72.2h0M211.6 76.1h0M195.5 85.2h0M193.7 82.6h0M208.4 67.8h0M201.5 86.2h0M212.2 75.8h0M208.1 68.9h0M193.0 80.5h0M203.4 87.6h0M196.2 75.9h0M196.1 87.6h0M192.1 85.1h0M192.5 78.3h0M206.7 76.8h0M197.5 83.8h0M204.5 87.8h0M205.7 92.3h0M191.8 89.5h0M213.6 75.9h0M189.9 99.8h0M195.1 84.0h0M201.5 75.3h0M197.7 95.8h0M203.5 76.7h0M208.6 73.8h0M194.6 86.1h0M201.8 79.9h0M192.0 86.6h0M206.6 81.1h0M205.7 85.4h0M201.0 79.1h0M204.8 68.5h0M204.0 78.9h0M204.3 68.3h0M202.7 75.6h0M197.6 93.3h0M210.4 87.9h0M205.2 79.9h0M188.3 87.1h0M211.9 76.0h0M193.8 73.7h0M200.9 77.1h0M200.5 92.4h0M203.9 83.8h0M198.1 75.2h0M193.3 78.1h0M204.3 84.1h0M187.6 94.7h0M207.4 71.2h0M195.4 90.0h0M185.4 93.3h0M188.5 81.2h0M198.5 89.6h0M202.1 76.1h0M191.9 84.0h0M198.2 75.4h0M195.8 88.5h0M211.9 65.2h0M206.4 80.4h0M212.2 68.6h0M198.3 91.7h0M203.7 76.3h0M192.8 85.4h0M197.9 71.4h0M201.4 73.8h0M193.4 94.1h0M204.2 99.1h0M189.4 84.7h0M188.1 87.6h0M197.5 87.4h0M196.5 89.3h0M189.6 88.4h0M201.8 81.4h0M198.9 72.9h0M191.7 88.9h0M200.5 88.2h0M206.5 87.2h0M198.9 82.6h0M195.7 85.2h0M207.5 78.2h0M209.9 80.2h0M206.8 79.1h0M197.1 80.5h0M214.5 70.6h0M215.0 74.2h0M196.0 81.8h0M195.6 78.0h0M210.0 76.1h0M197.1 88.0h0M206.6 82.5h0M201.5 81.8h0M194.3 84.0h0M198.0 81.7h0M187.6 88.1h0M194.3 81.9h0M186.6 92.3h0M213.4 65.9h0M214.0 76.2h0M204.4 70.0h0M202.6 79.7h0M205.1 73.6h0M213.8 78.9h0M208.1 76.3h0M205.3 74.8h0M198.0 90.2h0M203.8 79.3h0M195.9 83.5h0M198.7 94.3h0M196.2 91.3h0M209.4 85.0h0M211.3 79.2h0M195.0 92.9h0M212.2 71.4h0M206.4 69.0h0M200.9 86.6h0M198.2 84.9h0M202.7 84.6h0M206.9 75.7h0M196.2 81.9h0M190.6 85.3h0M205.4 82.1h0M192.4 99.0h0M200.8 80.0h0M209.6 76.2h0M207.4 84.6h0M202.9 74.2h0M202.8 77.6h0M201.6 73.5h0M205.7 84.9h0M196.6 87.9h0M197.9 81.7h0M194.8 76.7h0M208.1 73.4h0M214.3 75.1h0M202.5 78.2h0M194.7 85.1h0M198.5 88.6h0M195.5 78.9h0M209.7 73.4h0M205.0 81.8h0M197.9 79.6h0M193.3 83.8h0M207.2 77.2h0M202.3 79.7h0M199.8 81.4h0M202.2 81.9h0M212.1 72.1h0M196.8 79.7h0M209.1 69.1h0M210.1 75.7h0M205.0 85.3h0M210.9 80.9h0M197.2 79.8h0M199.4 90.7h0M201.8 86.1h0M195.1 87.4h0M205.7 80.3h0M203.8 84.6h0M210.4 84.4h0M202.5 73.2h0M183.5 103.3h0M202.4 79.5h0M189.0 92.4h0M205.8 84.7h0M198.2 90.1h0M198.1 77.8h0M208.4 72.4h0M191.0 93.3h0M197.3 75.9h0M203.3 85.3h0M188.9 93.4h0M205.5 78.4h0M202.2 82.8h0M203.8 91.1h0M196.5 86.5h0M219.7 60.7h0M204.3 90.2h0M188.0 91.4h0M193.3 85.9h0M194.0 79.5h0M202.1 87.9h0M201.3 83.3h0M196.0 90.0h0M204.8 79.1h0M197.4 84.5h0M189.8 87.7h0M193.2 84.4h0M200.0 85.7h0M206.6 77.0h0M209.4 84.4h0M196.2 81.5h0M199.4 80.1h0M198.8 77.1h0M218.2 73.8h0M192.9 81.6h0M206.4 81.6h0M210.3 82.2h0M194.5 87.4h0M204.5 83.2h0M194.8 73.7h0M196.7 83.5h0M198.9 72.8h0M207.9 76.1h0M208.0 74.9h0M197.1 80.5h0M205.3 83.9h0M216.7 68.5h0M192.3 87.0h0M200.6 78.8h0M201.5 71.4h0M201.2 80.4h0M212.1 84.9h0M199.6 78.5h0M207.0 78.6h0M207.1 72.1h0M202.2 86.0h0M203.6 82.2h0M199.8 81.5h0M192.4 78.4h0M199.1 80.3h0M197.9 93.0h0M204.7 76.5h0M213.6 73.4h0M209.9 69.7h0M202.6 67.7h0M196.3 89.3h0M211.4 73.5h0M194.5 84.4h0M199.3 81.0h0M213.4 71.4h0M192.3 86.6h0M207.3 77.8h0M202.0 79.5h0M192.1 75.0h0M195.0 86.9h0M201.5 77.3h0M195.2 82.0h0M208.8 76.8h0M206.9 72.7h0M194.1 92.3h0M201.4 88.7h0M199.4 84.4h0M188.4 84.1h0M191.5 86.4h0M204.5 84.4h0M198.8 82.4h0M187.9 89.5h0M197.3 85.0h0M205.8 80.4h0M194.3 90.3h0M197.3 89.8h0M208.0 69.3h0M208.2 72.8h0M190.0 91.2h0M192.4 90.3h0M196.2 72.6h0M192.7 88.6h0M194.9 79.0h0M202.8 89.4h0M209.6 83.7h0M190.8 103.3h0M189.9 98.4h0M191.7 87.9h0M210.5 78.8h0M199.3 82.2h0M192.4 94.6h0M201.0 75.8h0M203.4 75.6h0M201.0 85.0h0M204.8 89.9h0M203.6 79.1h0M216.0 82.0h0M211.1 90.2h0M200.0 74.3h0M200.5 82.1h0M195.4 81.1h0M194.8 87.2h0M200.7 78.6h0M198.8 83.6h0M202.7 86.7h0M209.9 79.3h0M204.9 79.8h0M206.4 76.5h0M191.5 92.1h0M204.8 78.9h0M199.2 87.5h0M195.9 87.0h0M197.3 88.9h0M204.1 70.0h0M208.8 79.5h0M202.4 92.3h0M194.5 89.6h0M196.3 77.1h0M202.6 89.3h0M210.2 70.5h0M181.8 81.0h0M188.8 92.6h0M201.4 85.6h0M202.3 83.2h0M205.9 85.3h0M207.7 79.3h0M214.3 69.5h0M192.2 77.5h0M193.8 81.6h0M190.6 93.5h0M204.7 82.7h0M202.8 73.2h0M197.3 81.5h0M209.9 76.2h0M194.7 75.4h0M203.8 66.0h0M202.3 79.1h0M195.2 89.4h0M195.4 84.3h0M183.7 83.8h0M190.2 92.8h0M198.2 75.8h0M208.6 78.7h0M212.8 69.5h0M201.5 83.2h0M201.6 85.6h0M192.3 87.1h0M209.9 78.6h0M207.6 83.7h0M198.6 87.0h0M209.7 82.1h0M202.3 76.4h0M192.4 96.7h0M206.5 78.2h0M198.5 77.8h0M198.3 84.1h0M196.6 82.8h0M210.0 69.2h0M210.8 72.7h0M215.9 74.2h0M192.7 88.0h0M197.3 86.5h0M201.7 71.4h0M193.8 89.8h0M200.4 90.3h0M192.5 95.9h0M214.1 72.0h0M205.8 73.6h0M200.5 75.8h0M202.0 80.3h0M193.9 80.1h0M194.3 80.3h0M208.0 81.3h0M193.4 83.3h0M214.6 80.4h0M193.1 80.2h0M197.0 88.8h0M205.1 69.9h0M200.7 83.4h0M200.9 75.0h0M198.5 84.7h0M186.4 95.4h0M202.8 77.0h0M194.3 92.1h0M212.8 80.3h0M189.3 89.6h0M192.3 96.5h0M203.2 80.3h0M203.5 79.2h0M209.0 88.7h0M186.1 82.2h0M204.2 74.1h0M185.8 85.0h0M197.0 83.8h0M195.3 86.1h0M211.4 97.1h0M207.4 77.8h0M203.1 91.9h0M208.8 82.8h0M203.8 76.2h0M191.9 94.2h0M199.3 94.8h0M199.2 84.9h0M198.0 86.3h0M204.6 81.7h0M183.9 88.9h0M202.7 74.7h0M206.7 78.5h0M201.7 84.8h0M189.3 87.5h0M199.9 80.8h0M197.2 84.9h0M204.0 77.9h0M202.8 84.8h0M205.8 77.8h0M198.8 85.2h0M205.2 68.2h0M183.1 92.8h0M195.7 89.4h0M198.6 73.5h0M192.5 92.3h0M203.3 75.1h0M190.6 86.8h0M203.7 83.6h0M193.0 85.4h0M195.3 81.8h0M199.8 78.6h0M200.5 82.8h0M207.8 93.6h0M207.2 61.4h0M200.9 81.8h0M194.1 87.2h0M209.9 79.4h0M204.8 75.6h0M200.2 66.0h0M216.5 75.3h0M191.4 84.1h0M207.3 75.1h0M203.4 70.2h0M197.2 78.2h0M200.8 78.7h0M185.1 103.5h0M200.2 88.3h0M210.0 68.8h0M191.5 94.7h0M196.3 84.0h0M203.1 80.5h0M205.0 78.9h0M213.2 73.9h0M187.9 90.8h0M200.7 81.2h0M207.0 77.3h0M193.0 90.4h0M198.0 79.5h0M218.4 76.0h0M207.5 72.2h0M206.8 81.1h0M185.3 98.9h0M204.2 86.8h0M195.9 72.1h0M205.9 90.7h0M199.8 81.6h0M215.9 58.6h0M200.0 83.7h0M202.5 95.5h0M204.1 82.1h0M194.8 79.7h0M197.4 82.3h0M204.9 86.9h0M201.0 72.4h0M201.8 79.8h0M192.4 88.4h0M207.4 90.0h0M202.9 78.0h0M202.4 89.2h0M205.8 72.5h0M203.0 74.4h0M198.1 91.4h0M205.0 82.0h0M207.4 63.7h0M212.8 74.3h0M202.7 84.4h0M204.4 74.2h0M197.4 86.8h0M192.8 91.8h0M202.7 76.8h0M200.5 78.4h0M201.8 76.4h0M199.8 81.1h0M198.4 75.4h0M197.6 84.9h0M198.8 73.9h0M206.3 77.0h0M200.2 82.0h0M202.5 73.3h0M192.7 95.8h0M202.5 93.3h0M214.3 77.4h0M207.2 66.3h0M206.7 84.6h0M201.0 83.3h0M192.8 89.6h0M201.1 77.6h0M205.7 77.0h0M196.3 95.8h0M206.2 80.2h0M202.5 77.4h0M201.4 76.9h0M192.5 87.5h0M206.2 80.5h0M197.9 97.5h0M206.6 69.1h0M201.7 81.0h0M192.3 87.8h0M206.7 71.0h0M209.4 76.0h0M198.7 87.8h0M209.8 63.4h0M191.1 84.6h0M206.9 84.0h0M209.3 75.6h0M188.5 97.8h0M205.4 74.0h0M199.2 81.0h0M202.3 83.5h0M192.5 86.9h0M199.2 76.1h0M194.0 88.8h0M197.9 91.0h0M194.6 81.2h0M196.8 93.1h0M213.0 74.5h0M189.7 87.2h0M196.2 86.6h0M198.8 83.7h0M203.0 84.0h0M208.1 79.2h0M201.6 72.4h0M194.5 79.2h0M202.0 87.7h0M201.5 82.0h0M207.4 78.2h0M206.3 78.7h0M202.8 90.2h0M184.0 90.6h0M217.9 72.2h0M204.1 73.2h0M205.0 82.7h0M207.5 84.3h0M193.0 80.5h0M196.0 89.5h0M197.9 83.0h0M198.5 82.3h0M197.1 85.9h0M188.3 87.4h0M195.7 80.6h0M206.7 80.5h0M200.6 87.8h0M199.1 79.8h0M183.1 89.9h0M207.4 91.0h0M203.8 86.3h0M194.5 90.7h0M186.7 89.2h0M201.5 77.4h0M196.7 87.7h0M200.7 75.6h0M203.6 89.9h0M205.2 78.5h0M200.1 85.3h0M188.1 87.8h0M197.3 79.4h0M196.2 81.3h0M205.9 78.7h0M197.2 83.8h0M197.5 83.4h0M207.3 77.6h0M208.9 75.4h0M210.6 82.1h0M206.7 74.8h0M200.3 75.7h0M205.6 77.1h0M211.2 81.3h0M201.5 77.5h0M201.4 81.7h0M200.6 79.8h0M217.2 68.3h0M201.8 82.7h0M196.7 80.6h0M197.9 83.4h0M203.8 85.2h0M206.1 84.0h0M196.9 92.0h0M191.4 97.1h0M201.6 78.9h0M189.7 90.7h0M205.6 83.4h0M197.8 77.1h0M207.9 74.5h0M205.1 65.3h0M201.9 78.3h0M195.1 83.0h0M189.6 85.2h0M197.9 88.7h0M198.7 79.2h0M186.8 93.5h0M200.5 80.6h0M198.4 79.5h0M209.6 82.6h0M197.2 82.3h0M202.2 81.9h0M192.0 82.1h0M196.4 83.2h0M188.8 91.8h0M200.6 80.1h0M208.6 70.3h0M202.4 81.4h0M208.4 84.8h0M194.3 87.6h0M209.3 72.5h0M194.8 85.4h0M214.3 85.4h0M206.9 86.6h0M196.8 89.7h0M209.6 77.8h0M198.6 79.4h0M201.5 80.3h0M204.4 79.8h0M201.2 82.4h0M195.7 81.4h0M201.2 76.4h0M200.1 86.1h0M202.3 82.5h0M189.7 79.0h0M191.9 91.5h0M200.9 90.3h0M195.7 82.8h0M201.8 82.6h0M203.4 69.7h0M193.2 95.2h0M198.0 77.4h0M183.0 91.5h0M193.3 87.3h0M205.6 92.9h0M184.8 93.9h0M185.1 89.3h0M203.4 82.5h0M202.1 82.2h0M205.7 88.1h0M191.7 82.7h0M209.0 63.2h0M198.8 81.9h0M196.8 88.5h0M212.5 72.6h0M208.3 81.7h0M193.6 79.2h0M205.6 71.7h0M201.4 80.5h0M207.7 80.7h0M203.9 82.0h0M193.1 86.9h0M203.5 72.5h0M204.8 83.8h0M197.8 91.3h0M205.2 95.7h0M206.3 75.4h0M204.0 89.6h0M197.2 77.6h0M203.2 76.0h0M199.4 78.8h0M189.9 89.9h0M202.0 75.0h0M204.9 74.3h0M206.1 76.3h0M209.5 70.3h0M205.4 81.8h0M205.5 76.8h0M210.8 72.0h0M204.0 88.6h0M212.8 72.1h0M212.2 71.6h0M205.7 77.0h0M212.6 70.7h0M208.1 78.5h0M192.8 84.7h0M211.8 78.6h0M208.2 85.1h0M207.3 83.2h0M200.2 79.3h0M204.1 68.1h0M202.9 77.0h0M197.1 86.7h0M206.7 81.6h0M204.8 76.8h0M195.4 85.4h0M203.3 89.7h0M196.3 82.1h0M200.7 89.2h0M206.1 82.7h0M202.8 71.1h0M213.6 71.1h0M206.5 72.6h0M204.1 72.4h0M201.9 68.6h0M204.0 68.4h0M199.9 85.6h0M203.9 76.3h0M203.8 80.8h0M196.6 79.2h0M197.0 83.7h0M196.9 84.1h0M194.1 78.4h0M187.7 84.1h0M205.6 80.1h0M201.3 82.5h0M198.5 78.1h0M202.7 79.5h0M207.6 79.6h0M203.3 91.7h0M197.3 79.6h0M192.9 94.0h0M194.1 102.8h0M189.0 94.2h0M215.3 77.2h0M180.9 84.7h0M208.7 83.8h0M210.1 72.7h0M191.8 78.5h0M213.6 74.4h0M215.9 73.9h0M210.8 80.0h0M219.7 71.1h0M204.7 77.9h0M193.9 83.9h0M202.6 77.1h0M198.0 84.5h0M194.2 91.3h0M191.4 88.2h0M215.5 67.7h0M200.5 88.2h0M201.9 83.1h0M204.4 93.6h0M209.0 88.2h0M195.6 79.5h0M196.5 82.5h0M189.1 85.0h0M188.3 86.8h0M198.2 88.3h0M199.5 76.7h0M210.4 65.4h0M206.6 74.4h0M215.0 73.1h0M202.8 77.6h0M199.3 81.2h0M195.8 93.1h0M202.6 83.4h0M189.2 96.7h0M202.3 86.8h0M207.8 68.3h0M203.8 80.5h0M205.9 72.7h0M202.1 87.6h0M195.2 93.1h0M194.6 81.3h0M203.0 88.7h0M204.6 70.4h0M217.2 73.4h0M197.1 87.1h0M195.9 81.1h0M196.4 78.9h0M197.9 82.9h0M193.2 89.4h0M199.3 78.8h0M205.2 81.4h0M198.8 74.7h0M193.5 89.2h0M200.4 82.5h0M184.0 86.3h0M207.8 77.1h0M190.5 83.9h0M191.0 75.1h0M196.2 82.5h0M196.7 84.6h0M197.5 91.3h0M188.4 91.1h0M216.8 75.9h0M207.5 84.9h0M206.4 83.7h0M218.6 73.1h0M201.6 83.5h0M202.7 76.4h0M203.4 83.7h0M211.7 77.6h0M205.0 79.4h0M202.2 78.9h0M194.3 78.1h0M205.1 82.2h0M209.5 75.6h0M183.8 90.3h0M200.6 82.8h0M200.9 86.7h0M198.9 83.2h0M191.4 96.6h0M208.2 79.7h0M190.9 82.0h0M198.7 82.1h0M199.6 86.5h0M193.8 95.2h0M203.0 89.2h0M183.2 86.7h0M195.0 87.3h0M201.5 86.1h0M205.2 85.8h0M207.1 87.0h0M197.1 79.4h0M213.2 67.1h0M200.3 75.5h0M196.2 92.0h0M192.9 81.1h0M201.0 89.7h0M203.1 85.9h0M199.0 87.1h0M188.5 79.7h0M209.1 69.2h0M203.9 83.9h0M194.3 79.0h0M198.7 82.5h0M199.4 82.7h0M212.8 76.0h0M205.0 79.7h0M209.0 75.6h0M180.2 99.6h0M203.2 79.7h0M207.2 74.6h0M215.8 71.8h0M200.7 80.9h0M193.9 95.8h0M199.1 72.3h0M201.4 89.4h0M189.4 92.3h0M201.0 89.3h0M208.0 75.4h0M211.5 77.1h0M210.6 82.2h0M192.7 86.3h0M217.0 66.3h0M193.3 88.4h0M201.3 82.8h0M186.7 85.2h0M208.7 72.9h0M203.1 78.1h0M204.0 73.5h0M201.0 80.4h0M195.5 76.9h0M206.9 85.3h0M190.9 94.9h0M213.6 81.8h0M203.9 73.0h0M194.8 80.2h0M202.0 82.7h0M197.4 74.2h0M211.7 72.6h0M201.5 76.6h0M200.3 80.2h0M198.8 85.6h0M191.9 91.1h0M203.7 91.6h0M203.7 83.3h0M195.2 78.9h0M204.9 84.4h0M201.3 72.5h0M204.2 79.2h0M198.7 75.7h0M202.5 74.7h0M206.7 84.8h0M199.1 79.9h0M201.9 76.5h0M188.5 90.5h0M207.9 72.7h0M198.0 94.4h0M202.4 72.4h0M197.1 77.4h0M210.0 76.6h0M196.0 76.0h0M194.1 86.2h0M211.6 78.7h0M202.3 80.4h0M200.3 79.2h0M199.3 78.7h0M204.3 72.3h0M204.3 74.5h0M203.1 80.6h0M195.7 95.4h0M201.9 87.3h0M199.9 79.0h0M209.9 67.9h0M205.9 81.5h0M194.5 76.0h0M207.1 72.6h0M199.4 81.1h0M197.3 78.0h0M198.8 77.2h0M193.0 92.0h0M201.6 70.0h0M200.8 75.8h0M197.2 81.1h0M194.3 88.9h0M197.9 75.6h0M213.5 76.4h0M196.1 84.4h0M193.7 87.2h0M202.6 77.6h0M189.0 89.1h0M184.0 92.0h0M202.2 88.1h0M197.5 86.4h0M199.1 82.8h0M201.0 88.2h0M200.8 77.0h0M201.9 84.9h0M197.5 85.2h0M195.3 81.3h0M207.6 80.0h0M202.1 70.5h0M208.9 78.0h0M202.5 74.1h0M182.0 103.3h0M199.5 92.3h0M201.1 85.3h0M200.4 78.1h0M191.0 91.4h0M208.7 71.3h0M199.1 75.6h0M193.6 81.5h0M202.3 80.5h0M200.8 85.3h0M190.5 80.2h0M204.0 78.0h0M200.0 85.9h0M192.7 90.5h0M193.8 82.0h0M203.9 85.5h0M190.3 84.0h0M211.1 75.7h0M199.7 93.5h0M205.2 63.6h0M207.5 76.6h0M196.3 88.2h0M202.7 81.3h0M205.9 71.4h0M198.9 81.5h0M189.0 84.1h0M202.2 81.1h0M215.3 70.7h0M189.6 88.4h0M201.5 74.8h0M199.6 79.7h0M200.3 82.0h0M198.9 83.9h0M198.8 82.9h0M207.8 75.0h0M200.4 73.2h0M185.8 78.4h0M212.9 73.6h0M197.8 94.1h0M200.5 72.4h0M200.0 77.9h0M209.6 74.8h0M206.5 82.2h0M209.8 76.8h0M205.2 85.7h0M207.0 75.0h0M204.6 80.5h0M215.9 69.2h0M195.3 84.1h0M212.5 77.8h0M206.1 80.4h0M205.5 83.4h0M196.3 83.5h0M207.3 81.9h0M188.4 86.9h0M193.9 91.0h0M196.9 68.1h0M188.1 87.5h0M212.5 74.7h0M197.9 81.4h0M203.3 80.2h0M196.2 75.3h0M208.9 83.7h0M201.4 84.9h0M198.8 83.4h0M201.7 83.4h0M208.7 75.8h0M212.9 78.8h0M209.8 74.0h0M198.5 74.0h0M199.0 81.6h0M194.9 95.9h0M207.0 79.1h0M205.0 74.6h0M200.7 85.7h0M206.5 76.6h0M211.2 75.2h0M196.5 75.3h0M204.7 71.6h0M205.3 81.5h0M189.6 91.2h0M199.4 85.3h0M205.1 90.2h0M203.4 76.9h0M196.6 87.4h0M196.6 82.1h0M193.1 85.1h0M200.7 81.2h0M196.8 75.9h0M200.2 68.1h0M210.6 80.8h0M201.8 79.8h0M206.4 83.4h0M202.2 80.9h0M202.3 81.0h0M213.0 73.8h0M188.1 99.0h0M196.1 78.3h0M207.1 83.2h0M205.0 70.9h0M195.0 88.7h0M211.8 87.5h0M206.8 76.1h0M203.9 89.5h0M188.1 91.9h0M200.9 85.5h0M193.8 88.8h0M206.6 78.5h0M193.0 83.6h0M209.2 67.1h0M203.1 81.4h0M191.0 81.0h0M195.2 81.5h0M196.5 90.1h0M201.5 76.7h0M207.5 69.0h0M196.1 78.9h0M207.4 75.9h0M194.1 85.8h0M203.6 79.8h0M214.9 66.2h0M198.5 96.1h0M207.4 72.1h0M202.0 67.4h0M189.8 93.3h0M192.2 90.1h0M195.6 87.8h0M201.9 69.8h0M202.2 87.6h0M200.0 82.1h0M205.4 76.6h0M196.6 75.2h0M204.1 81.4h0M198.9 83.0h0M212.6 78.7h0M194.9 84.7h0M207.5 66.7h0M199.5 83.7h0M193.2 83.1h0M206.5 78.5h0M200.4 74.8h0M188.4 93.1h0M201.8 79.1h0M192.6 89.5h0M194.3 84.7h0M203.3 73.6h0M195.6 86.4h0M201.4 77.1h0M199.3 84.1h0M212.3 68.3h0M193.1 74.4h0M193.6 88.3h0M198.8 92.7h0M196.5 87.9h0M203.9 82.4h0M202.6 82.7h0M205.6 73.7h0M197.7 75.8h0M204.6 83.1h0M206.6 82.7h0M202.2 83.9h0M204.3 80.8h0M207.3 77.7h0M205.9 76.3h0M198.6 85.5h0M190.1 92.3h0M197.1 87.4h0M199.7 76.4h0M183.5 94.7h0M200.0 86.1h0M202.8 77.4h0M189.6 76.8h0M194.5 88.6h0M204.5 62.9h0M215.9 78.9h0M201.8 85.3h0M211.5 75.3h0M207.0 71.0h0M190.3 84.6h0M217.0 63.9h0M195.3 87.2h0M196.9 80.4h0M194.7 88.6h0M203.8 83.1h0M194.8 91.5h0M197.6 78.0h0M200.7 67.5h0M202.4 80.0h0M197.2 80.8h0M212.1 73.2h0M200.8 92.3h0M212.4 80.7h0M200.1 84.2h0M206.0 83.6h0M206.6 86.5h0" stroke="#000" stroke-opacity="0.45" stroke-width="0.8" stroke-linecap="square" fill="none"/>
<path d="M194.8 77.7h0M208.3 87.2h0M208.0 76.6h0M195.5 79.7h0M188.0 80.4h0M200.5 97.3h0M206.5 90.0h0M189.3 83.9h0M214.3 83.8h0M198.0 87.4h0M212.2 69.9h0M210.5 72.7h0M188.2 93.5h0M215.9 80.4h0M197.3 87.9h0M204.4 63.8h0M213.7 88.2h0M203.6 87.9h0M201.5 73.2h0M193.9 87.1h0M199.3 76.9h0M203.9 80.5h0M200.7 86.7h0M204.7 81.3h0M189.0 89.9h0M201.8 75.4h0M193.3 97.9h0M205.4 77.8h0M214.1 89.2h0M203.1 74.0h0M198.8 91.9h0M227.2 57.3h0M195.1 82.4h0M207.5 88.1h0M194.3 90.8h0M209.1 67.3h0M194.9 86.4h0M213.5 79.3h0M186.9 86.6h0M209.1 86.8h0M200.1 89.8h0M207.4 74.2h0M203.7 91.9h0M200.4 98.6h0M207.0 82.2h0M190.8 94.7h0M200.1 99.8h0M213.6 83.2h0M180.2 95.9h0M206.2 76.0h0M196.1 86.1h0M190.8 89.7h0M196.2 74.9h0M209.9 81.8h0M195.8 88.9h0M199.4 85.4h0M213.6 82.5h0M204.7 74.5h0M199.9 83.6h0M195.0 91.3h0M190.5 89.8h0M194.9 88.1h0M209.8 80.8h0M205.6 78.3h0M209.0 86.5h0M209.5 68.0h0M198.9 86.9h0M191.2 80.5h0M196.8 86.2h0M214.2 63.7h0M188.7 107.1h0M206.4 84.0h0M206.7 81.7h0M209.2 90.8h0M227.2 69.3h0M214.0 76.2h0M204.4 73.6h0M186.7 84.8h0M204.9 78.8h0M196.0 85.0h0M198.3 80.1h0M201.2 80.3h0M189.4 80.3h0M212.7 84.2h0M210.0 64.2h0M206.8 71.3h0M205.1 83.8h0M177.0 92.9h0M214.2 77.8h0M214.2 77.9h0M197.8 83.5h0M192.0 82.6h0M204.5 75.4h0M185.8 82.2h0M213.7 82.3h0M191.7 92.7h0M189.7 87.9h0M197.1 79.1h0M190.7 98.2h0M207.4 89.6h0M199.9 73.0h0M187.0 92.0h0M201.2 67.5h0M199.0 90.9h0M206.3 79.1h0M212.6 91.1h0M196.4 86.5h0M194.5 85.7h0M183.1 94.8h0M198.6 92.8h0M187.2 82.7h0M218.4 72.2h0M210.8 75.4h0M186.9 92.7h0M203.9 72.2h0M207.4 85.7h0M205.7 94.5h0M203.0 77.1h0M210.1 78.5h0M203.6 95.6h0M195.9 82.7h0M201.3 80.5h0M187.1 86.2h0M201.9 80.8h0M199.9 83.4h0M193.3 87.1h0M190.5 87.1h0M196.7 73.5h0M202.6 69.6h0M199.5 75.9h0M196.4 93.2h0M205.2 74.4h0M198.7 77.9h0M208.9 80.8h0M213.4 75.5h0M189.9 87.5h0M197.0 81.5h0M198.7 91.1h0M195.0 92.1h0M214.6 62.1h0M210.1 76.0h0M185.6 98.1h0M209.5 84.2h0M192.4 84.0h0M214.7 77.0h0M203.6 84.2h0M195.1 80.1h0M206.8 86.4h0M208.3 83.7h0M195.5 77.0h0M207.8 93.6h0M194.8 79.2h0M201.4 74.6h0M189.9 91.3h0M204.3 86.4h0M202.5 86.6h0M196.4 86.8h0M213.3 82.7h0M191.7 95.9h0M204.0 92.3h0M206.0 102.7h0M206.5 79.2h0M185.7 75.7h0M199.4 80.6h0M199.6 75.0h0M187.7 97.1h0M205.3 79.6h0M189.2 84.0h0M193.7 80.1h0M198.9 82.8h0M207.1 75.2h0M195.8 65.2h0M220.5 72.1h0M202.7 81.6h0M196.9 87.1h0M198.0 88.6h0M202.1 72.9h0M214.5 69.0h0M208.5 84.7h0M200.8 92.7h0M205.4 82.7h0M202.0 79.6h0M197.6 79.1h0M200.5 95.2h0M181.5 107.1h0M194.5 85.7h0M200.4 64.3h0M199.0 77.3h0M206.6 88.5h0M186.0 99.7h0M214.8 62.6h0M201.4 80.1h0M202.3 104.9h0M213.3 81.6h0M188.3 83.7h0M205.2 77.6h0M195.7 77.3h0M183.1 85.4h0M207.5 78.1h0" stroke="#000" stroke-opacity="0.45" stroke-width="0.8" stroke-linecap="square" fill="none"/>
<ellipse cx="232.3" cy="62.3" rx="10" ry="17.8" transform="rotate(7 232.3 62.3)" fill="#000" fill-opacity="1" filter="url(#bl09)"/>
<path d="M247.2 46.0h0M241.4 56.3h0M232.7 61.8h0M229.9 66.2h0M232.1 73.6h0M238.5 57.2h0M225.7 53.2h0M221.6 69.1h0M240.8 75.7h0M234.4 57.7h0M240.4 66.9h0M231.9 76.6h0M239.7 66.6h0M229.2 61.4h0M237.6 41.4h0M238.9 77.0h0M236.9 69.7h0M229.8 63.4h0M237.7 58.2h0M230.4 49.2h0M224.9 60.4h0M235.3 61.6h0M238.4 74.6h0M238.4 50.5h0M223.9 76.3h0M236.9 63.3h0M234.5 75.0h0M231.1 52.1h0M218.7 64.3h0M236.2 75.6h0M236.9 64.1h0M236.8 47.6h0M223.6 57.9h0M223.8 66.9h0M239.5 48.7h0M238.4 48.1h0M234.7 65.1h0M232.2 52.5h0M233.6 69.6h0M230.9 50.0h0M233.0 43.4h0M228.7 53.9h0M231.8 77.9h0M231.2 53.3h0M237.4 63.0h0M235.9 65.4h0M229.2 52.1h0M240.8 74.8h0M226.1 63.5h0M234.2 67.3h0M240.2 45.9h0M241.4 45.3h0M237.9 61.1h0M239.1 60.9h0M239.1 70.8h0M218.6 76.2h0M229.1 59.4h0M232.2 59.6h0M229.4 66.7h0M237.6 78.9h0M229.8 53.5h0M238.1 69.6h0M235.7 60.3h0M225.0 58.0h0M226.0 70.1h0M230.8 54.0h0M234.2 51.5h0M236.8 69.9h0M231.4 62.0h0M237.5 60.3h0M224.1 60.0h0M215.4 65.5h0M231.0 58.4h0M233.8 70.6h0M229.9 66.4h0M225.1 76.9h0M233.0 75.7h0M241.6 72.5h0M232.0 60.3h0M228.3 63.2h0M228.6 55.8h0M239.3 92.9h0M232.4 60.1h0M234.9 68.5h0M237.2 77.1h0M239.8 49.2h0M228.4 53.4h0M238.0 59.0h0M238.1 52.8h0M236.6 49.8h0M238.4 57.8h0M227.7 75.3h0M231.0 69.8h0M229.5 62.5h0M236.4 63.3h0M230.9 45.0h0M233.6 69.8h0M225.9 66.1h0M233.0 51.3h0M230.1 64.3h0M232.0 60.4h0M233.7 57.3h0M232.6 52.2h0M232.0 55.4h0M222.4 51.5h0M237.7 67.9h0M228.5 65.8h0M230.6 65.6h0M228.1 60.1h0M238.2 59.0h0M224.9 82.8h0M237.4 43.8h0M237.2 75.5h0M240.7 67.2h0M238.6 64.0h0M236.3 57.7h0M226.2 59.5h0M240.7 51.2h0M240.5 49.1h0M237.0 61.9h0M238.7 46.1h0M231.7 71.1h0M228.2 73.6h0M241.1 47.5h0M226.5 64.6h0M237.0 65.3h0M233.5 63.8h0M236.6 67.4h0M232.9 70.3h0M237.2 72.1h0M235.6 81.5h0M237.1 63.4h0M223.9 70.4h0M238.8 46.5h0M232.8 61.2h0M227.9 49.3h0M234.4 77.2h0M222.2 85.5h0M236.5 68.7h0M243.1 50.4h0M229.9 61.1h0M237.3 63.4h0M234.6 64.9h0M234.5 74.1h0M224.0 71.4h0M239.0 35.9h0M231.4 76.6h0M237.0 58.0h0M233.2 56.9h0M236.5 77.8h0M234.2 60.0h0M237.8 49.0h0M241.4 49.9h0M233.4 63.3h0M236.6 72.5h0M231.8 78.1h0M235.5 61.2h0M230.3 57.4h0M234.6 79.7h0M239.6 58.7h0M230.2 77.4h0M236.4 65.5h0M234.5 65.3h0M226.9 59.5h0M234.0 65.8h0M240.1 58.7h0M230.8 55.3h0M223.2 60.0h0M234.4 56.1h0M228.7 65.3h0M242.4 64.7h0M232.6 59.9h0M232.7 60.5h0M229.5 59.8h0M231.6 80.5h0M229.5 62.1h0M228.5 55.9h0M232.6 59.5h0M227.4 68.8h0M239.7 61.4h0M226.6 60.3h0M232.4 59.9h0M228.7 63.8h0M224.8 65.7h0M240.7 68.2h0M223.5 44.5h0M241.5 52.6h0M228.4 34.8h0M232.0 70.8h0M243.0 75.4h0M219.7 74.5h0M225.1 63.2h0M238.0 75.2h0M233.5 62.3h0M229.8 61.0h0M234.3 46.8h0M228.4 54.0h0M233.9 56.6h0M239.2 72.9h0M228.4 79.3h0M233.8 57.9h0M238.4 67.2h0M242.6 66.7h0M230.4 54.3h0M236.3 45.2h0M230.5 54.5h0M230.9 47.5h0M230.8 59.1h0M229.4 60.7h0M223.7 59.6h0M222.3 59.6h0M228.1 67.0h0M234.4 53.1h0M237.8 72.4h0M231.8 45.1h0M231.6 63.1h0M235.5 67.0h0M237.4 54.9h0M233.9 46.2h0M231.4 69.0h0M243.2 56.9h0M229.8 70.3h0M229.0 70.1h0M224.0 61.4h0M234.8 62.8h0M229.9 72.5h0M242.1 67.6h0M231.9 52.8h0M236.6 64.8h0M236.7 68.8h0M240.9 65.7h0M225.4 63.6h0M240.9 62.0h0M232.7 61.3h0M233.1 52.9h0M232.7 47.8h0M229.0 73.8h0M231.5 55.8h0M220.0 63.3h0M237.1 47.6h0M232.7 64.2h0M228.6 53.5h0M228.5 92.7h0M245.8 53.7h0M235.7 53.0h0M229.3 71.9h0M240.1 75.2h0M231.0 40.6h0M231.4 65.0h0M228.5 71.1h0M232.8 49.9h0M235.5 70.0h0M236.2 57.5h0M229.9 51.9h0M232.3 58.9h0M233.5 57.9h0M232.1 48.1h0M229.5 85.3h0M229.3 57.4h0M229.6 54.5h0M231.7 71.2h0M227.2 61.1h0M233.0 76.3h0M231.8 59.7h0M227.3 65.5h0M229.2 63.1h0M229.8 63.9h0M231.9 60.3h0M233.2 61.5h0M229.3 79.4h0M228.8 55.1h0M240.7 57.9h0M237.7 59.6h0M232.4 68.4h0M237.0 67.2h0M233.0 72.2h0M232.8 48.8h0M232.6 65.2h0M246.6 62.4h0M238.0 60.3h0M237.7 64.9h0M232.9 42.3h0M235.3 65.7h0M244.1 65.4h0M236.5 48.3h0M238.2 62.2h0M237.1 79.0h0M236.3 59.0h0M240.0 69.5h0M234.0 60.4h0M236.1 54.6h0M230.4 52.8h0M246.7 60.2h0M232.5 75.9h0M232.1 70.9h0M240.6 56.3h0M228.7 72.3h0M232.6 61.2h0M229.3 55.0h0M232.1 66.9h0M231.6 53.0h0M237.3 47.0h0M230.2 75.6h0M231.7 43.6h0M230.3 67.8h0M233.8 47.0h0M229.9 61.9h0M237.6 61.1h0M236.5 58.5h0M236.0 40.5h0M226.4 60.7h0M235.2 62.5h0M227.0 52.6h0M233.5 62.0h0M231.5 72.6h0M230.3 54.9h0M227.9 64.6h0M230.3 50.5h0M242.6 67.7h0M230.3 68.8h0M228.3 87.5h0M236.3 72.3h0M234.1 67.2h0M236.2 77.5h0M227.4 51.7h0M225.5 72.7h0M250.4 59.2h0M233.0 56.3h0M229.6 73.4h0M233.0 65.0h0M236.0 76.6h0M228.1 47.2h0M233.6 65.5h0M233.0 57.3h0M236.3 60.3h0M235.7 43.5h0M228.6 71.7h0M227.7 64.2h0M221.1 51.1h0M239.2 49.7h0M226.0 52.9h0M228.7 76.4h0M241.2 62.7h0M230.7 59.0h0M235.0 68.0h0M231.4 62.6h0M235.8 65.4h0M231.7 70.1h0M229.4 65.6h0M238.3 72.3h0M232.6 50.5h0M225.5 62.4h0M231.2 58.9h0M235.1 64.1h0M226.8 61.6h0M237.3 56.8h0M236.8 59.7h0M242.2 73.5h0M229.8 56.7h0M237.4 50.6h0M223.1 67.6h0M229.1 72.2h0M233.3 60.1h0M234.4 64.3h0M233.2 54.3h0M232.2 60.6h0M227.9 73.5h0M229.2 70.5h0M233.8 64.4h0M235.7 60.4h0M237.7 46.8h0M237.2 66.6h0M238.0 68.1h0M221.9 72.2h0M227.3 82.6h0M231.1 66.5h0M228.0 72.0h0M239.2 52.3h0M234.8 75.3h0M230.8 71.4h0M231.4 76.5h0M238.1 70.4h0M230.1 67.1h0M229.0 77.4h0M237.9 56.7h0M234.1 69.6h0M238.4 74.6h0M235.3 55.2h0M237.7 51.8h0M229.1 66.8h0M227.5 63.5h0M231.6 68.9h0M218.0 67.6h0M235.5 55.5h0M237.0 66.9h0M231.4 74.2h0M231.7 59.2h0M238.4 60.7h0M233.6 51.6h0M236.5 71.7h0M241.3 83.8h0M237.8 49.7h0M236.3 71.1h0M233.9 72.2h0M234.4 57.5h0M234.3 59.4h0M234.1 52.6h0M238.9 55.8h0M223.9 63.6h0M230.3 69.3h0M235.7 64.5h0M227.0 71.0h0M231.6 64.9h0M230.3 50.9h0M232.9 77.7h0M235.4 75.3h0M240.7 56.8h0M232.8 81.0h0M228.2 67.2h0M233.5 64.5h0M233.0 82.5h0M242.7 39.0h0M223.4 45.7h0M233.4 70.3h0M223.4 59.4h0M237.2 54.0h0M232.9 78.3h0M234.4 68.2h0M238.5 50.9h0M235.2 56.7h0M228.1 71.1h0M232.0 81.1h0M241.0 43.9h0M231.5 65.5h0M233.0 59.3h0M228.3 44.9h0M238.6 62.2h0M231.8 46.8h0M229.3 57.3h0M228.1 78.9h0M227.4 67.7h0M230.2 70.7h0M238.2 69.9h0M236.0 67.1h0M238.5 73.7h0M241.4 52.4h0M228.3 59.0h0M233.8 71.9h0M241.0 56.8h0M244.7 60.2h0M223.7 74.3h0M223.2 77.6h0M235.5 57.4h0M231.7 54.8h0M226.6 68.4h0M234.0 66.1h0M229.2 56.0h0M220.1 67.7h0M231.6 68.7h0M232.9 64.1h0M232.0 92.9h0M235.5 77.4h0M232.3 71.4h0M229.9 73.3h0M225.3 92.3h0M222.6 73.1h0M231.0 55.8h0M237.1 67.1h0M235.6 64.4h0M243.6 58.8h0M231.3 65.7h0M222.9 64.6h0M236.7 63.2h0M238.3 59.0h0M225.4 70.8h0M226.1 46.3h0M232.1 71.6h0M236.0 63.8h0M226.3 65.3h0M233.5 39.3h0M226.3 79.5h0M228.4 45.2h0M226.7 53.8h0M232.3 69.8h0M231.2 57.0h0M229.4 58.7h0M221.7 39.3h0M241.8 60.0h0M227.3 64.8h0M230.8 69.9h0M226.9 59.7h0M234.0 65.7h0M224.1 66.7h0M233.6 56.6h0M232.3 55.6h0M234.6 83.4h0M227.8 54.1h0M227.5 75.2h0M231.0 63.8h0M241.2 79.3h0M225.6 55.9h0M233.2 68.6h0M228.6 66.2h0M234.2 61.2h0M235.3 66.8h0M234.0 55.7h0M233.8 62.6h0M234.2 59.4h0M228.4 70.5h0M231.3 62.2h0M225.5 48.3h0M230.9 59.3h0M228.5 61.8h0M232.1 54.1h0M234.4 77.1h0M233.8 67.6h0M233.7 72.0h0M238.9 56.3h0M220.6 57.8h0M233.3 73.6h0M233.9 48.9h0M231.3 66.9h0M225.5 63.3h0M235.7 58.6h0M238.0 64.9h0M238.9 53.1h0M231.6 65.5h0M237.0 51.5h0M238.6 51.0h0M239.9 78.4h0M239.4 57.0h0M235.6 42.1h0M231.6 73.1h0M234.1 55.6h0M229.8 62.4h0M235.1 73.1h0M228.3 66.4h0M226.1 80.0h0M234.2 62.2h0M228.6 68.9h0M232.3 53.0h0M221.4 63.6h0M234.4 79.1h0M231.6 68.3h0M231.4 64.8h0M237.1 43.7h0M233.8 59.6h0M230.3 49.9h0M241.6 72.3h0M230.9 55.6h0M236.8 67.5h0M242.9 54.4h0M226.8 81.9h0M234.2 51.5h0M227.9 64.1h0M234.4 90.4h0M230.3 65.2h0M227.7 53.8h0M238.2 70.3h0M235.7 73.8h0M226.6 71.5h0M240.7 44.2h0M233.0 65.6h0M248.8 43.6h0M238.7 83.5h0M229.3 63.7h0M231.4 58.5h0M226.9 69.5h0M232.3 68.3h0M234.0 51.4h0M234.0 80.1h0M233.0 60.9h0M226.9 44.6h0M226.4 76.9h0M237.6 79.6h0M236.6 76.7h0M230.7 68.7h0M232.7 54.2h0M230.2 72.7h0M230.1 82.1h0M222.6 70.5h0M234.8 80.0h0M229.8 55.1h0M231.7 73.7h0M218.1 71.2h0M235.3 48.4h0M241.1 47.7h0M221.7 54.6h0M239.9 65.1h0M234.1 68.2h0M228.8 60.6h0M224.2 61.7h0M238.3 62.9h0M233.5 64.4h0M234.5 69.6h0M230.2 68.2h0M228.2 62.3h0M236.4 66.5h0M227.9 58.2h0M235.9 72.0h0M224.3 57.2h0M225.5 79.4h0M224.8 62.2h0M238.6 66.9h0M224.2 54.5h0M226.8 59.1h0M235.4 65.4h0M233.4 63.7h0M244.2 58.4h0M243.1 52.7h0M235.3 64.1h0M235.6 65.3h0M222.2 67.8h0M226.2 75.4h0M230.9 60.0h0M233.8 43.0h0M225.4 61.0h0M229.8 44.0h0M229.5 49.8h0M236.4 74.5h0M233.7 69.4h0M231.3 56.6h0M231.6 56.7h0M233.8 62.6h0M230.8 45.1h0M230.3 68.1h0M223.8 58.7h0M233.4 82.5h0M238.5 53.2h0M232.8 73.8h0M235.5 56.7h0M232.8 74.0h0M243.9 54.7h0M232.4 71.0h0M226.0 58.1h0M227.9 54.3h0M236.1 62.3h0M237.1 68.9h0M235.7 68.0h0M234.6 80.0h0M232.2 71.8h0M227.9 35.6h0M229.1 58.8h0M225.4 42.0h0M230.7 59.2h0M224.4 68.9h0M234.4 49.8h0M232.8 51.2h0M222.0 63.6h0M236.3 60.9h0M234.1 80.0h0M224.7 65.8h0M232.3 68.9h0M233.7 81.6h0M231.3 58.1h0M236.6 63.9h0M234.4 53.4h0M237.4 66.7h0M231.9 74.0h0M229.6 77.2h0M234.9 63.3h0M237.1 56.6h0M234.4 55.7h0M231.6 48.9h0M228.0 64.1h0M228.6 77.0h0M232.2 38.9h0M236.0 41.3h0M231.3 77.8h0M233.7 46.9h0M231.7 66.8h0M234.6 50.7h0M239.3 72.4h0M237.4 72.2h0M229.0 64.8h0M233.3 72.1h0M230.4 63.7h0M230.9 69.1h0M228.6 81.9h0M227.5 74.2h0M225.9 55.9h0M220.4 53.7h0M233.5 61.1h0M238.5 61.9h0M227.4 63.6h0M235.5 57.6h0M229.3 69.9h0M233.5 64.0h0M227.5 66.6h0M230.9 63.4h0M230.8 69.7h0M221.3 49.7h0M231.3 79.8h0M231.0 66.9h0M218.7 66.5h0M234.7 70.1h0M230.6 74.5h0M232.2 71.2h0M233.7 66.2h0M230.2 61.4h0M228.6 46.0h0M229.5 65.4h0M230.3 60.1h0M244.0 61.7h0M238.6 89.3h0M231.9 44.2h0M229.9 63.8h0M232.2 76.1h0M233.8 73.7h0M226.9 75.8h0M228.5 50.0h0M243.3 55.0h0M236.8 70.6h0M224.4 59.5h0M220.8 79.9h0M227.5 65.4h0M233.0 65.7h0M234.4 68.4h0M230.6 60.6h0M223.5 63.8h0M234.0 56.8h0M235.2 63.6h0M232.7 58.7h0M229.2 65.9h0M236.8 49.5h0M233.6 48.3h0M225.6 67.6h0M232.2 66.0h0M226.5 53.0h0M237.3 61.9h0M235.8 53.2h0M224.3 83.9h0M235.1 47.8h0M236.4 82.0h0M221.9 53.9h0M230.8 67.9h0M240.9 62.0h0M224.4 58.8h0M230.0 73.1h0M223.6 71.1h0M232.0 60.7h0M220.6 52.8h0M221.0 83.8h0M227.5 77.7h0M232.6 65.2h0M234.4 60.9h0M233.9 66.9h0M237.9 65.3h0M234.2 76.4h0M237.1 54.3h0M226.9 63.3h0M232.2 55.6h0M247.1 79.1h0M241.6 83.6h0M236.5 63.3h0M235.2 69.7h0M235.4 78.7h0M230.3 60.4h0M243.5 55.4h0M228.8 74.1h0M231.0 68.8h0M243.7 63.0h0M219.3 77.3h0M233.6 66.4h0M225.2 44.4h0M228.2 66.8h0M231.6 63.0h0M227.8 82.7h0M233.0 63.7h0M228.2 61.1h0M230.9 68.1h0M225.5 65.4h0M231.8 49.1h0M224.6 64.0h0M235.9 60.8h0M223.4 77.2h0M232.7 88.7h0M231.2 52.0h0M231.6 53.7h0M239.3 55.9h0M233.4 57.1h0M222.9 55.4h0M234.6 64.6h0M215.3 73.0h0M235.1 50.6h0M231.8 47.7h0M226.9 44.0h0M231.1 75.1h0M228.7 77.1h0M244.6 49.3h0M231.7 46.8h0M242.1 66.3h0M238.0 75.8h0M227.5 73.7h0M227.5 65.2h0M238.2 71.6h0M230.9 67.0h0M233.6 58.2h0M228.3 83.1h0M225.6 62.9h0M231.4 52.1h0M227.5 58.3h0M225.8 47.0h0M230.4 63.7h0M240.1 76.1h0M242.2 51.9h0M230.3 75.2h0M230.1 85.2h0M234.3 68.0h0M240.7 52.8h0M234.8 55.2h0M229.9 60.0h0M231.5 50.4h0M239.6 51.7h0M246.2 62.8h0M228.9 61.5h0M220.3 68.6h0M237.8 52.0h0M229.3 82.8h0M231.4 74.7h0M237.5 73.7h0M233.2 57.1h0M222.8 80.7h0M222.0 59.0h0M229.5 82.3h0M224.5 74.0h0M234.7 54.8h0M225.8 58.3h0M227.8 82.7h0M222.9 73.0h0M230.3 61.9h0M229.4 65.5h0M235.0 66.2h0M240.2 56.7h0M231.3 61.6h0M228.3 56.4h0M243.0 60.7h0M233.4 68.8h0M236.5 54.4h0M234.4 71.6h0M239.7 65.8h0M236.5 72.2h0M234.5 73.3h0M234.6 77.0h0M226.7 69.6h0M227.9 70.6h0M231.7 61.8h0M231.8 69.6h0M233.3 54.5h0M234.0 61.4h0M231.2 71.4h0M229.8 62.9h0M222.8 67.3h0M237.8 53.5h0M233.5 78.1h0M228.1 57.3h0M234.2 68.1h0M234.2 63.8h0M231.3 73.4h0M222.7 58.6h0M226.9 52.7h0M231.2 43.9h0M241.1 61.7h0M229.0 51.0h0M229.5 69.0h0M224.3 77.8h0M232.2 40.6h0M235.5 50.8h0M220.6 65.6h0M215.3 74.5h0M235.2 67.3h0M231.8 67.1h0M228.2 68.5h0M236.5 70.3h0M235.2 81.2h0M220.1 68.7h0M232.7 50.9h0M238.6 59.6h0M228.2 65.5h0M231.4 55.2h0M237.5 61.7h0M231.3 58.2h0M226.5 55.8h0M227.5 70.4h0M225.4 58.9h0M236.4 52.9h0M223.7 55.3h0M237.4 64.8h0M220.6 84.4h0M232.0 66.4h0M222.3 78.0h0M229.7 68.6h0M240.2 42.3h0M237.6 68.4h0M240.1 55.9h0M233.3 49.8h0M234.0 52.7h0M231.0 82.3h0M237.3 47.9h0M230.7 57.1h0M236.5 76.4h0M232.9 70.8h0M240.3 46.9h0M234.7 62.9h0M236.3 58.9h0M228.4 61.2h0M228.9 71.2h0M225.8 57.0h0M230.9 60.2h0M229.3 78.6h0M238.8 45.3h0M225.8 59.1h0M248.8 70.7h0M233.0 50.8h0M239.6 58.1h0M239.3 50.9h0M218.3 63.7h0M231.4 57.1h0M238.9 72.8h0M217.8 72.6h0M236.1 64.7h0M227.6 59.2h0M229.2 66.1h0M233.2 64.5h0M223.6 50.0h0M231.7 74.9h0M228.3 65.6h0M227.0 71.3h0M237.5 50.1h0M249.7 75.0h0M231.2 85.6h0M234.2 70.4h0M233.6 48.7h0M228.1 63.6h0M233.5 63.3h0M239.9 66.9h0M233.3 61.4h0M236.2 69.4h0M231.4 58.8h0M245.3 67.7h0M224.1 55.5h0M235.0 65.1h0M233.7 74.3h0M234.1 58.8h0M225.2 69.8h0M227.0 53.8h0M231.2 59.7h0M232.9 61.3h0M223.9 75.7h0M227.3 55.1h0M233.5 76.6h0M239.4 49.2h0M229.2 61.7h0M227.1 72.6h0M227.2 70.4h0M246.6 54.9h0M236.2 51.4h0M230.5 72.7h0M239.0 51.3h0M243.6 71.2h0M238.9 59.0h0M224.4 62.6h0M228.6 87.5h0M227.9 79.4h0M229.1 72.1h0M227.2 48.6h0M229.5 66.7h0M226.1 63.5h0M233.9 62.8h0M230.5 77.5h0M226.6 44.9h0M222.4 65.8h0M229.3 64.6h0M236.4 56.3h0M232.5 81.8h0M233.2 50.5h0M214.2 61.7h0M229.2 64.1h0M230.8 40.5h0M232.0 48.6h0M226.7 52.8h0M228.7 71.5h0M227.2 73.0h0M245.8 71.5h0M235.5 66.6h0M233.7 40.7h0M231.5 65.8h0M232.0 58.2h0M231.5 75.8h0M228.1 77.3h0M229.0 86.7h0M236.6 71.6h0M235.4 72.6h0M235.0 53.1h0M239.0 65.3h0M234.8 51.0h0M225.6 72.2h0" stroke="#000" stroke-opacity="0.7" stroke-width="0.9" stroke-linecap="square" fill="none"/>
<path d="M222.9 77.0h0M230.8 65.3h0M226.4 68.2h0M229.8 59.8h0M235.4 64.1h0M225.7 87.6h0M235.7 48.6h0M225.8 63.0h0M242.5 57.3h0M226.7 75.6h0M236.2 87.8h0M246.9 61.5h0M224.9 70.9h0M230.1 71.5h0M242.7 43.1h0M229.6 60.3h0M235.0 63.2h0M235.0 72.9h0M223.8 68.4h0M237.5 67.5h0M214.5 47.7h0M221.1 53.1h0M245.3 57.1h0M232.8 70.0h0M228.1 50.4h0M244.5 84.3h0M238.7 69.4h0M243.2 36.6h0M227.0 85.0h0M236.2 66.3h0M236.6 57.0h0M221.3 63.7h0M239.2 40.7h0M230.9 66.0h0M242.6 51.6h0M226.0 80.6h0M226.4 79.4h0M234.2 59.4h0M238.2 51.8h0M228.2 75.4h0M231.7 62.9h0M236.1 66.9h0M234.2 72.1h0M241.7 50.7h0M232.7 74.1h0M229.9 35.7h0M218.5 81.1h0M240.2 44.0h0M231.2 55.3h0M231.1 54.7h0M229.3 72.8h0M220.8 72.0h0M229.2 67.9h0M214.4 68.5h0M229.0 69.3h0M226.6 61.9h0M247.5 40.4h0M233.5 63.1h0M237.5 61.2h0M227.6 61.2h0M230.5 66.3h0M230.4 60.2h0M250.4 52.6h0M235.2 44.2h0M222.4 37.4h0M235.7 79.9h0M248.0 77.4h0M228.2 45.2h0M255.8 62.8h0M231.3 69.2h0M236.5 85.0h0M229.6 55.3h0M230.3 65.5h0M222.4 77.5h0M228.1 40.1h0M219.3 52.3h0M240.0 63.9h0M225.9 53.2h0M231.5 91.2h0M233.2 75.0h0M227.7 65.5h0M234.2 51.1h0M230.4 74.6h0M228.1 71.3h0M233.5 56.8h0M233.4 57.9h0M227.9 43.7h0M223.9 61.4h0M225.3 74.0h0M231.6 76.5h0M240.6 72.1h0M240.8 75.3h0M235.4 56.1h0M239.4 58.1h0M231.2 79.1h0" stroke="#000" stroke-opacity="0.45" stroke-width="0.8" stroke-linecap="square" fill="none"/>
<ellipse cx="231.5" cy="62.6" rx="11.8" ry="23.5" transform="rotate(8 231.5 62.6)" fill="none" stroke="#e8262b" stroke-width="1.1"/>
<ellipse cx="203" cy="83" rx="24.2" ry="13.9" transform="rotate(-45 203 83)" fill="none" stroke="#1fa64a" stroke-width="1.1"/>
<text x="37.4" y="36.3" font-size="7.4" text-anchor="end" fill="#000">10<tspan dy="-3.3" font-size="5.62">5.5</tspan></text>
<text x="37.4" y="48.7" font-size="7.4" text-anchor="end" fill="#000">10<tspan dy="-3.3" font-size="5.62">5</tspan></text>
<text x="37.4" y="73.9" font-size="7.4" text-anchor="end" fill="#000">10<tspan dy="-3.3" font-size="5.62">4</tspan></text>
<text x="37.4" y="98.7" font-size="7.4" text-anchor="end" fill="#000">10<tspan dy="-3.3" font-size="5.62">3</tspan></text>
<text x="37.4" y="117.6" font-size="7.4" text-anchor="end" fill="#000">10<tspan dy="-3.3" font-size="5.62">2.2</tspan></text>
<text x="41.9" y="127.6" font-size="7.4" text-anchor="middle" fill="#000">10<tspan dy="-3.3" font-size="5.62">3.6</tspan></text>
<text x="56.2" y="127.6" font-size="7.4" text-anchor="middle" fill="#000">10<tspan dy="-3.3" font-size="5.62">4</tspan></text>
<text x="81.1" y="127.6" font-size="7.4" text-anchor="middle" fill="#000">10<tspan dy="-3.3" font-size="5.62">5</tspan></text>
<text x="109.2" y="127.6" font-size="7.4" text-anchor="middle" fill="#000">10<tspan dy="-3.3" font-size="5.62">6</tspan></text>
<text x="127" y="127.6" font-size="7.4" text-anchor="middle" fill="#000">10<tspan dy="-3.3" font-size="5.62">6.7</tspan></text>
<text x="168.9" y="36.2" font-size="7.4" text-anchor="end" fill="#000">10<tspan dy="-3.3" font-size="5.62">5.5</tspan></text>
<text x="168.9" y="48.9" font-size="7.4" text-anchor="end" fill="#000">10<tspan dy="-3.3" font-size="5.62">5</tspan></text>
<text x="168.9" y="74.3" font-size="7.4" text-anchor="end" fill="#000">10<tspan dy="-3.3" font-size="5.62">4</tspan></text>
<text x="168.9" y="99.2" font-size="7.4" text-anchor="end" fill="#000">10<tspan dy="-3.3" font-size="5.62">3</tspan></text>
<text x="168.9" y="117.9" font-size="7.4" text-anchor="end" fill="#000">10<tspan dy="-3.3" font-size="5.62">2.2</tspan></text>
<text x="173" y="128" font-size="7.4" text-anchor="middle" fill="#000">10<tspan dy="-3.3" font-size="5.62">3.6</tspan></text>
<text x="190.1" y="128" font-size="7.4" text-anchor="middle" fill="#000">10<tspan dy="-3.3" font-size="5.62">4</tspan></text>
<text x="211.6" y="128" font-size="7.4" text-anchor="middle" fill="#000">10<tspan dy="-3.3" font-size="5.62">5</tspan></text>
<text x="240.9" y="128" font-size="7.4" text-anchor="middle" fill="#000">10<tspan dy="-3.3" font-size="5.62">6</tspan></text>
<text x="258.9" y="128" font-size="7.4" text-anchor="middle" fill="#000">10<tspan dy="-3.3" font-size="5.62">6.7</tspan></text>
<text x="81.3" y="141.3" font-size="9.4" text-anchor="middle" stroke="#000" stroke-width="0.3" textLength="17.8" lengthAdjust="spacingAndGlyphs">FSC-A</text>
<text x="212.3" y="140.8" font-size="9.4" text-anchor="middle" stroke="#000" stroke-width="0.3" textLength="17.9" lengthAdjust="spacingAndGlyphs">FSC-A</text>
<text transform="translate(15.1,75.2) rotate(-90)" x="0" y="0" font-size="9.6" text-anchor="middle" font-weight="normal" fill="#000" textLength="17.3" lengthAdjust="spacingAndGlyphs" stroke="#000" stroke-width="0.25">SSC-A</text>
<text transform="translate(147.4,80.5) rotate(-90)" x="0" y="0" font-size="9.6" text-anchor="middle" font-weight="normal" fill="#000" textLength="18.1" lengthAdjust="spacingAndGlyphs" stroke="#000" stroke-width="0.25">SSC-A</text>
<text x="60.8" y="27.7" font-size="10.6" font-style="italic" textLength="34" lengthAdjust="spacingAndGlyphs">SLFN14</text>
<text x="98.3" y="24.6" font-size="7.4" font-style="italic" textLength="10.4" lengthAdjust="spacingAndGlyphs">+/+</text>
<text x="183.8" y="27.8" font-size="10.6" font-style="italic" textLength="34" lengthAdjust="spacingAndGlyphs">SLFN14</text>
<text x="220.8" y="24.4" font-size="6.4" font-style="italic" textLength="30" lengthAdjust="spacingAndGlyphs">K208N/+</text>
<path d="M302.1 116.8H305.3M302.9 112.94H305.3M302.9 110.67H305.3M302.9 109.07H305.3M302.9 107.83H305.3M302.9 106.81H305.3M302.9 105.95H305.3M302.9 105.21H305.3M302.9 104.55H305.3M302.1 103.96H305.3M302.9 100.1H305.3M302.9 97.84H305.3M302.9 96.23H305.3M302.9 94.99H305.3M302.9 93.97H305.3M302.9 93.11H305.3M302.9 92.37H305.3M302.9 91.71H305.3M302.1 91.12H305.3M302.9 87.26H305.3M302.9 85H305.3M302.9 83.39H305.3M302.9 82.15H305.3M302.9 81.13H305.3M302.9 80.27H305.3M302.9 79.53H305.3M302.9 78.87H305.3M302.1 78.28H305.3M302.9 74.42H305.3M302.9 72.16H305.3M302.9 70.55H305.3M302.9 69.31H305.3M302.9 68.29H305.3M302.9 67.43H305.3M302.9 66.69H305.3M302.9 66.03H305.3M302.1 65.45H305.3M302.9 61.58H305.3M302.9 59.32H305.3M302.9 57.72H305.3M302.9 56.47H305.3M302.9 55.45H305.3M302.9 54.6H305.3M302.9 53.85H305.3M302.9 53.19H305.3M302.1 52.61H305.3M302.9 48.74H305.3M302.9 46.48H305.3M302.9 44.88H305.3M302.9 43.63H305.3M302.9 42.62H305.3M302.9 41.76H305.3M302.9 41.01H305.3M302.9 40.36H305.3M302.1 39.77H305.3M305.3 116.8V120M309.31 116.8V119.2M311.65 116.8V119.2M313.31 116.8V119.2M314.6 116.8V119.2M315.65 116.8V119.2M316.55 116.8V119.2M317.32 116.8V119.2M318 116.8V119.2M318.61 116.8V120M322.61 116.8V119.2M324.96 116.8V119.2M326.62 116.8V119.2M327.91 116.8V119.2M328.96 116.8V119.2M329.85 116.8V119.2M330.62 116.8V119.2M331.3 116.8V119.2M331.91 116.8V120M335.92 116.8V119.2M338.26 116.8V119.2M339.92 116.8V119.2M341.21 116.8V119.2M342.27 116.8V119.2M343.16 116.8V119.2M343.93 116.8V119.2M344.61 116.8V119.2M345.22 116.8V120M349.22 116.8V119.2M351.57 116.8V119.2M353.23 116.8V119.2M354.52 116.8V119.2M355.57 116.8V119.2M356.46 116.8V119.2M357.24 116.8V119.2M357.92 116.8V119.2M358.53 116.8V120M362.53 116.8V119.2M364.87 116.8V119.2M366.54 116.8V119.2M367.83 116.8V119.2M368.88 116.8V119.2M369.77 116.8V119.2M370.54 116.8V119.2M371.22 116.8V119.2M371.83 116.8V120M375.84 116.8V119.2M378.18 116.8V119.2M379.84 116.8V119.2M381.13 116.8V119.2M382.19 116.8V119.2M383.08 116.8V119.2M383.85 116.8V119.2M384.53 116.8V119.2M385.14 116.8V120" stroke="#5c5cff" stroke-width="1.1" fill="none"/>
<rect x="305.3" y="37.2" width="82.5" height="79.6" fill="none" stroke="#5c5cff" stroke-width="1.1"/>
<path d="M314.4 77.5 L319 75.8 L326.5 75.2 L330.2 76.3 L331.2 79.8 L330.2 83.8 L328.3 86.7 L324.8 87.9 L320.8 85.6 L317.3 83.8 L314.4 82.1 L313.3 79.8 Z" fill="#000" filter="url(#bl08)"/>
<path d="M325.3 83.4h0M318.3 80.2h0M325.4 81.1h0M327.3 82.6h0M326.2 77.2h0M323.6 85.3h0M320.1 84.2h0M324.7 80.1h0M331.6 78.1h0M324.5 93.3h0M319.3 84.1h0M324.7 83.9h0M316.5 87.4h0M324.2 84.1h0M321.1 81.8h0M328.0 82.8h0M322.9 78.0h0M328.5 82.8h0M334.6 74.9h0M321.6 82.5h0M318.3 83.2h0M324.7 75.7h0M322.7 87.3h0M323.1 77.2h0M319.7 84.7h0M325.5 79.0h0M323.1 82.0h0M310.8 79.9h0M322.1 89.3h0M324.7 84.2h0M329.5 86.4h0M319.7 83.9h0M318.5 83.7h0M328.9 81.0h0M319.3 80.5h0M323.4 83.0h0M325.2 81.3h0M326.6 80.2h0M322.3 76.5h0M316.5 80.6h0M328.2 82.5h0M320.1 79.7h0M319.9 82.4h0M333.4 79.6h0M327.1 77.3h0M316.7 78.6h0M319.8 78.9h0M321.2 80.2h0M318.5 80.6h0M312.6 85.6h0M326.6 77.1h0M326.2 74.0h0M324.1 83.2h0M320.3 79.8h0M323.7 80.6h0M326.8 89.1h0M317.4 86.3h0M321.0 83.2h0M319.9 84.4h0M326.4 81.1h0M324.3 84.1h0M315.5 79.7h0M319.1 79.0h0M332.0 78.7h0M317.8 86.7h0M323.9 86.1h0M319.0 79.4h0M329.6 84.3h0M322.2 80.6h0M320.6 84.8h0M316.2 80.6h0M321.6 84.3h0M327.0 80.3h0M326.1 79.8h0M315.5 81.6h0M331.0 80.9h0M321.1 79.3h0M316.5 77.1h0M323.8 86.6h0M319.1 80.1h0M319.0 75.4h0M318.5 74.0h0M321.3 72.0h0M319.7 79.3h0M313.8 86.4h0M324.9 75.5h0M319.7 80.3h0M328.5 74.5h0M325.8 84.5h0M326.0 82.0h0M323.6 82.1h0M329.9 84.9h0M321.3 86.7h0M317.5 85.0h0M324.3 79.1h0M307.6 78.1h0M320.3 77.9h0M323.2 75.3h0M320.9 87.2h0M329.2 79.9h0M326.4 81.2h0M323.2 81.7h0M321.0 87.9h0M328.3 78.8h0M319.3 85.3h0M320.4 82.3h0M326.5 80.3h0M325.2 74.6h0M333.7 83.2h0M321.2 78.8h0M312.4 80.5h0M326.2 81.6h0M329.3 80.9h0M322.0 84.9h0M330.7 78.2h0M332.1 80.8h0M319.1 82.4h0M320.0 81.4h0M316.0 83.9h0M325.4 80.0h0M326.7 84.8h0M325.6 78.5h0M315.5 77.0h0M318.5 81.4h0M315.2 85.7h0M313.8 80.2h0M315.2 79.7h0M314.0 80.7h0M321.6 81.8h0M324.8 80.4h0M326.0 81.9h0M321.9 75.5h0M319.4 86.4h0M322.6 83.1h0M325.3 78.0h0M321.3 85.8h0M322.9 82.6h0M321.3 86.1h0M319.4 77.5h0M323.2 86.6h0M316.6 81.8h0M327.5 73.9h0M314.4 84.3h0M324.9 79.9h0M315.0 78.4h0M330.5 79.7h0M326.6 74.4h0M318.4 83.4h0M320.1 80.6h0M316.4 80.8h0M322.6 85.8h0M324.7 81.1h0M336.0 77.8h0M315.0 78.7h0M329.1 80.4h0M319.7 84.9h0M323.8 79.1h0M326.9 77.3h0M325.7 83.9h0M324.8 81.1h0M321.5 81.1h0M323.1 88.0h0M323.0 77.1h0M329.0 81.2h0M314.2 76.0h0M319.8 80.4h0M316.0 83.6h0M317.7 85.3h0M317.9 77.3h0M328.6 83.4h0M334.2 82.7h0M329.7 80.1h0M316.9 89.8h0M322.9 81.1h0M316.2 78.8h0M325.0 82.3h0M328.7 74.4h0M326.1 86.0h0M327.4 84.0h0M321.6 79.9h0M312.2 84.1h0M312.1 83.8h0M322.5 87.5h0M325.4 78.8h0M328.9 76.3h0M320.1 74.6h0M322.8 80.1h0M323.4 75.9h0M328.1 80.1h0M322.3 82.5h0M316.6 80.2h0M328.0 77.5h0M325.0 84.9h0M324.5 80.3h0M315.8 82.5h0M322.7 84.3h0M313.0 77.7h0M311.6 79.0h0M322.0 89.4h0M320.1 80.8h0M325.2 77.4h0M330.1 79.6h0M322.2 79.3h0M331.7 76.3h0M319.3 80.1h0M326.6 80.7h0M315.8 81.7h0M323.3 82.8h0M320.3 75.6h0M321.0 76.3h0M325.9 83.4h0M312.4 80.6h0M323.5 85.1h0M318.3 82.5h0M322.7 76.4h0M324.8 82.7h0M320.2 78.0h0M320.6 82.2h0M316.7 85.7h0M326.0 87.8h0M318.9 81.2h0M325.1 83.2h0M315.0 82.8h0M330.0 83.1h0M316.3 73.2h0M328.5 79.3h0M320.2 82.3h0M325.5 82.4h0M321.5 78.7h0M326.4 83.5h0M322.9 84.7h0M329.3 80.8h0M326.0 80.1h0M326.0 79.6h0M331.4 80.8h0M319.1 85.3h0M329.9 85.4h0M322.8 79.6h0M314.4 78.8h0M324.8 78.3h0M321.7 84.5h0M331.5 81.1h0M320.0 82.3h0M322.9 82.7h0M323.9 82.3h0M312.4 81.6h0M324.9 77.5h0M317.1 79.6h0M330.0 80.9h0M331.5 81.6h0M322.4 79.9h0M314.0 80.5h0M323.9 85.5h0M323.3 79.5h0M326.4 81.5h0M320.8 80.2h0M315.9 78.9h0M321.3 76.2h0M317.4 79.8h0M331.7 77.6h0M319.0 84.2h0M318.7 77.7h0M322.1 79.8h0M316.1 83.8h0M320.1 81.0h0M321.9 82.8h0M320.2 84.1h0M320.7 75.8h0M329.0 79.2h0M324.5 77.8h0M315.8 86.2h0M320.2 80.9h0M326.6 82.4h0M319.5 87.0h0M322.8 79.9h0M322.4 81.4h0M325.4 82.2h0M321.5 80.3h0M322.1 85.3h0M318.2 84.2h0M324.7 84.2h0M317.6 81.7h0M331.6 79.2h0M322.3 80.0h0M321.2 80.0h0M326.2 75.4h0M322.2 82.3h0M323.2 83.7h0M322.2 81.1h0M318.5 79.9h0M317.6 81.7h0M318.9 82.2h0M328.6 81.7h0M319.7 87.3h0M320.1 78.5h0M320.2 82.5h0M326.4 83.0h0M333.0 80.5h0M317.5 80.8h0M325.1 77.5h0M323.0 79.1h0M321.1 83.6h0M325.6 85.6h0M315.6 79.6h0M327.1 82.3h0M323.8 82.7h0M317.5 84.9h0M331.0 81.2h0M327.1 82.2h0M328.9 83.5h0M314.5 78.0h0M321.1 81.4h0M319.2 75.7h0M325.3 74.5h0M329.5 77.8h0M312.0 77.0h0M322.8 82.7h0M322.1 84.4h0M327.7 79.7h0M322.3 80.7h0M315.7 81.0h0M321.4 80.4h0M317.1 82.0h0M318.5 82.6h0M322.6 79.6h0M319.7 78.8h0M323.8 79.3h0M314.7 84.4h0M334.7 78.7h0M329.6 85.2h0M326.2 80.0h0M316.0 86.1h0M310.7 78.3h0M317.7 79.3h0M321.4 82.8h0M334.5 81.7h0M329.4 80.0h0M320.3 87.9h0M328.9 80.8h0M329.1 81.5h0M322.4 79.3h0M329.4 85.9h0M324.5 83.7h0M319.2 82.7h0M315.8 76.4h0M322.0 82.3h0M327.7 79.2h0M315.4 83.0h0M314.2 84.8h0M325.2 78.5h0M308.2 83.1h0M332.4 83.1h0M320.2 81.8h0M326.3 79.7h0M332.1 76.9h0M314.6 79.6h0M316.6 77.5h0M334.7 83.2h0M321.0 81.6h0M321.5 77.3h0M323.7 81.0h0M327.7 76.5h0M328.6 70.0h0M323.4 84.9h0M321.1 85.0h0M321.9 76.4h0M323.9 78.7h0M329.5 81.2h0M323.1 79.8h0M331.9 77.5h0M317.8 79.9h0M325.3 80.1h0M331.7 78.5h0M329.4 81.2h0M324.2 80.2h0M317.6 79.1h0M318.7 81.5h0M321.2 75.9h0M324.6 85.6h0M320.7 75.7h0M314.8 81.5h0M318.7 82.5h0M325.4 82.2h0M327.0 81.5h0M315.4 85.8h0M320.3 77.7h0M313.6 81.6h0M319.6 81.8h0M341.1 77.9h0M322.7 79.2h0M321.0 85.4h0M319.2 79.1h0M316.0 80.1h0M312.6 81.1h0M322.2 80.4h0M321.1 81.7h0M330.3 79.7h0M313.9 83.0h0M324.9 81.3h0M329.7 82.0h0M312.5 86.4h0M325.8 78.1h0M314.4 87.1h0M325.1 79.4h0M330.5 82.5h0M322.5 81.6h0M323.9 80.0h0M318.3 75.2h0M324.5 86.1h0M328.3 78.1h0M321.3 78.7h0M322.1 84.5h0M324.6 81.1h0M327.4 86.7h0M314.3 87.2h0M323.0 83.3h0M318.9 82.2h0M325.4 83.3h0M327.6 76.4h0M324.2 81.5h0M329.4 80.9h0M317.1 80.0h0M320.4 82.1h0M316.9 76.9h0M323.1 83.9h0M323.4 85.1h0M321.1 77.1h0M316.1 82.1h0M322.5 86.0h0M320.3 82.6h0M325.4 77.5h0M320.8 78.1h0M328.9 83.2h0M324.2 86.8h0M312.4 78.5h0M321.6 81.3h0M314.7 79.3h0M327.6 79.7h0M330.2 81.4h0M322.4 80.9h0M324.7 78.7h0M315.4 88.4h0M310.5 81.6h0M319.5 80.7h0M321.5 84.7h0M314.5 81.8h0M322.9 80.4h0M324.4 83.9h0M325.6 77.5h0M330.9 82.7h0" stroke="#000" stroke-opacity="0.65" stroke-width="0.9" stroke-linecap="square" fill="none"/>
<path d="M313.8 80.2h0M312.7 81.8h0M310.0 83.6h0M310.5 79.5h0M310.1 81.9h0M311.5 82.5h0M313.3 79.4h0M311.0 81.7h0M309.3 80.8h0M307.9 77.4h0M310.4 77.2h0M311.0 82.3h0M314.4 81.3h0M310.6 74.2h0M309.0 75.5h0M310.2 80.6h0M309.0 81.3h0M309.8 83.2h0M306.8 80.6h0M312.0 80.1h0M310.3 81.1h0M311.0 84.3h0M314.2 83.1h0M307.3 84.0h0M314.2 79.6h0M311.8 80.7h0M308.3 78.2h0M315.3 80.0h0M306.0 80.4h0M307.0 80.2h0M309.9 83.5h0M311.8 82.7h0M310.0 83.6h0M309.6 84.5h0M310.3 81.8h0M318.6 84.2h0M314.9 82.9h0M310.9 83.6h0M307.1 81.3h0M311.6 78.0h0M306.9 77.5h0M311.2 87.0h0M311.7 82.6h0M309.3 82.7h0M311.3 81.0h0M309.5 80.2h0M308.7 89.5h0M315.4 78.4h0M312.4 81.3h0M309.6 81.4h0M308.1 78.3h0M311.1 77.9h0M312.3 79.5h0M313.2 80.5h0M315.2 80.1h0M312.0 83.8h0M307.0 78.2h0M317.0 82.6h0M314.2 85.6h0M313.2 84.0h0M314.8 78.3h0M309.4 83.9h0M308.9 82.9h0M314.3 79.9h0M306.8 85.1h0M309.5 80.4h0M315.3 81.8h0M312.6 78.6h0M309.3 82.4h0M316.5 80.3h0M306.3 80.1h0M312.0 84.5h0M309.8 82.1h0M312.2 77.3h0M309.7 83.4h0M307.9 83.8h0M311.2 79.2h0M306.4 80.4h0M312.2 81.7h0M309.5 80.8h0M313.5 81.8h0M309.1 83.3h0M308.4 80.1h0M311.8 87.3h0M314.4 79.5h0M310.9 87.0h0M312.5 88.2h0M306.1 81.6h0M307.8 81.0h0M312.6 78.5h0M307.9 84.7h0M308.5 82.0h0M316.0 79.1h0M307.6 82.6h0M307.8 85.3h0M307.1 87.7h0M306.7 84.7h0M315.9 82.7h0M314.4 81.4h0M306.5 83.0h0M316.7 84.9h0M313.0 83.9h0M310.0 84.5h0M313.1 82.1h0M311.7 83.6h0M308.1 84.9h0M307.7 77.9h0M310.5 86.3h0M309.4 83.1h0M308.2 80.3h0M313.6 82.2h0M307.2 80.8h0M313.3 76.7h0M309.0 81.0h0M310.9 77.5h0M307.0 82.1h0M310.5 81.2h0M308.1 84.7h0M310.5 82.5h0M310.4 80.7h0M313.1 80.4h0M311.4 77.6h0M307.3 84.3h0M308.6 82.0h0M307.0 82.1h0M314.6 80.3h0M315.3 79.5h0M312.9 82.2h0M311.5 84.9h0M312.4 80.7h0M312.1 77.5h0M307.8 86.5h0M314.3 79.2h0M314.2 84.8h0M311.3 80.8h0M309.5 83.6h0M309.3 81.2h0M308.8 77.1h0M307.6 80.3h0M311.0 81.1h0M309.1 83.1h0M309.8 80.6h0M315.9 81.1h0M312.4 82.4h0M308.3 82.8h0M312.4 87.7h0M313.8 81.0h0M311.3 79.6h0M309.9 77.8h0M312.3 77.0h0M315.1 83.4h0M309.1 76.3h0M307.4 85.4h0M317.2 83.9h0M310.6 80.7h0M315.2 78.3h0M308.4 81.6h0M311.7 81.6h0M308.5 84.7h0M312.5 79.4h0M309.6 80.4h0M308.4 81.4h0M315.4 80.7h0M311.6 79.8h0M309.8 76.9h0M307.6 79.6h0M306.7 80.9h0M308.7 84.3h0M309.0 88.0h0M310.6 86.3h0M308.0 82.6h0M308.8 81.2h0M313.3 80.0h0M306.2 88.0h0M312.5 78.5h0M312.0 80.3h0M309.1 80.8h0M311.5 85.6h0M308.1 79.8h0M309.2 83.7h0M307.3 80.4h0M312.0 78.1h0M314.9 82.2h0M308.4 82.0h0M314.3 78.3h0M307.7 79.3h0M307.3 84.2h0M316.0 82.8h0M308.6 82.2h0M313.0 82.9h0M310.9 82.9h0M312.3 79.8h0M310.4 77.8h0M311.1 82.1h0M313.1 81.8h0M314.7 84.5h0M311.8 76.8h0M309.8 82.6h0M313.4 78.8h0M307.9 82.2h0M312.3 80.4h0" stroke="#000" stroke-opacity="0.55" stroke-width="0.8" stroke-linecap="square" fill="none"/>
<path d="M320.0 87.4h0M323.2 93.1h0M318.6 88.4h0M324.3 90.6h0M322.0 87.5h0M317.8 92.2h0M321.0 86.8h0M320.2 88.9h0M321.7 85.8h0M323.5 88.3h0M317.8 87.5h0M325.3 90.1h0M323.0 92.0h0M324.9 91.5h0M321.9 84.7h0M320.4 80.7h0M319.2 91.4h0M322.5 87.8h0M320.4 93.8h0M320.9 88.9h0M323.0 87.5h0M321.5 91.2h0M319.1 86.9h0M325.9 91.8h0M321.0 85.7h0M321.6 91.5h0M322.7 93.7h0M321.1 87.2h0M319.3 94.2h0M326.4 90.1h0M321.0 89.8h0M326.7 86.6h0M325.5 84.9h0M319.3 95.3h0M321.4 94.1h0M319.8 92.2h0M324.1 84.9h0M323.7 91.3h0M321.9 91.0h0M323.0 90.4h0M319.0 88.8h0M323.4 87.2h0M324.9 90.6h0M325.7 87.7h0M323.3 89.1h0M320.3 89.9h0M321.9 86.8h0M323.4 89.4h0M325.7 90.2h0M322.1 89.6h0M323.5 93.6h0M321.0 89.8h0M324.0 92.1h0M322.0 84.6h0M323.0 88.8h0M318.5 90.3h0M324.7 88.1h0M323.9 89.1h0M321.4 85.8h0M318.4 92.1h0M321.7 87.8h0M319.9 85.8h0M319.1 90.0h0M318.5 91.3h0M323.0 91.8h0M323.5 93.8h0M320.7 89.5h0M321.6 88.9h0M323.1 88.7h0M321.7 87.6h0" stroke="#000" stroke-opacity="0.5" stroke-width="0.8" stroke-linecap="square" fill="none"/>
<path d="M341.7 74.2h0M344.6 74.6h0M343.2 76.3h0M343.8 76.2h0M345.3 75.3h0M343.4 75.6h0M339.4 74.8h0M341.2 77.8h0M340.2 76.3h0M337.8 77.7h0M343.8 75.0h0M339.9 75.0h0M339.7 75.8h0M340.3 74.7h0M346.1 74.9h0M342.6 73.3h0M346.5 75.6h0M343.3 74.7h0M342.2 75.5h0M345.2 74.2h0M345.3 72.4h0M343.9 75.1h0M340.4 75.9h0M342.1 73.0h0M340.0 73.3h0" stroke="#000" stroke-opacity="0.4" stroke-width="0.8" stroke-linecap="square" fill="none"/>
<ellipse cx="324.6" cy="99.8" rx="2" ry="2.8" transform="rotate(0 324.6 99.8)" fill="#000" fill-opacity="1" filter="url(#bl08)"/>
<path d="M323.6 99.0h0M323.8 95.0h0M319.6 101.8h0M329.6 104.4h0M327.4 98.7h0M322.7 100.0h0M319.2 95.2h0M325.6 107.3h0M330.3 98.0h0M326.9 100.1h0M327.8 108.6h0M321.8 99.8h0M325.2 93.7h0M320.2 96.6h0M330.2 99.2h0M326.2 109.0h0M318.4 101.9h0M319.1 99.8h0M325.9 104.7h0M324.9 106.9h0M323.6 97.3h0M326.3 107.5h0M330.3 104.8h0M325.6 102.9h0M319.3 89.9h0M324.0 101.8h0M320.7 107.3h0M322.2 99.6h0M325.4 111.5h0M324.0 101.2h0M321.4 96.2h0M324.4 103.6h0M322.1 102.2h0M326.0 104.7h0M323.8 99.8h0M325.6 106.9h0M323.7 98.3h0M326.7 101.5h0M324.1 95.1h0M324.4 97.2h0M322.8 101.8h0M324.9 97.8h0M319.3 98.8h0M332.2 99.9h0M322.5 102.1h0M324.8 104.4h0M323.1 104.4h0M323.1 105.6h0M325.6 101.8h0M323.0 98.4h0M323.2 93.5h0M320.5 99.3h0M321.8 97.2h0M321.1 92.5h0M329.7 108.5h0M320.6 92.3h0M321.4 102.5h0M325.0 103.5h0M328.6 99.8h0M319.5 112.9h0M320.0 101.0h0M324.8 97.3h0M325.4 109.1h0M320.4 97.2h0M319.2 94.2h0M321.7 96.2h0M326.6 97.9h0M324.3 101.1h0M326.6 102.5h0M324.1 93.8h0M324.4 102.5h0M326.2 111.3h0M324.1 97.6h0M325.1 100.3h0M321.8 104.1h0M322.7 106.5h0M325.8 97.8h0M323.7 96.4h0M322.3 96.2h0M326.4 106.0h0M326.0 105.1h0M324.4 90.8h0M322.2 90.9h0M327.0 95.1h0M331.7 93.9h0M322.1 102.8h0M320.0 101.9h0M322.2 110.0h0M321.7 104.6h0M320.8 101.5h0M321.0 106.4h0M326.9 96.7h0M326.9 94.4h0M328.7 101.1h0M326.6 105.3h0M323.0 93.3h0M327.6 105.1h0M322.7 104.9h0M323.4 98.6h0M321.0 101.7h0M328.0 99.6h0M327.4 101.3h0M323.1 104.7h0M323.5 97.1h0M324.5 105.8h0M325.0 105.0h0M326.9 105.1h0M324.6 91.7h0M325.6 92.2h0M320.1 104.1h0M323.5 98.2h0M319.2 97.7h0M329.6 97.3h0M328.5 94.6h0M326.5 99.6h0M327.6 97.5h0M330.2 97.8h0M327.1 103.1h0M319.8 95.4h0M323.8 106.2h0M317.6 90.5h0M322.1 112.6h0M320.8 94.5h0M324.4 103.6h0M325.5 105.2h0M321.7 100.9h0M323.6 104.4h0M325.2 100.4h0M324.0 92.7h0M323.9 102.5h0M317.4 106.2h0M323.1 98.3h0M326.7 93.0h0M325.2 98.1h0M320.1 102.4h0M323.6 102.3h0M325.2 106.1h0M321.6 103.5h0M326.4 103.3h0M322.1 91.5h0M323.4 111.3h0M324.1 101.1h0M330.9 104.9h0M323.5 99.3h0M322.7 100.2h0M326.5 101.2h0M323.0 108.3h0M325.0 108.0h0M317.9 103.8h0M325.3 110.2h0M324.3 99.1h0M320.7 103.3h0M328.3 98.8h0M323.7 107.0h0M323.8 101.1h0M320.6 105.5h0M319.7 109.0h0M322.7 91.2h0M320.0 111.1h0M325.8 102.4h0M326.9 99.4h0M322.6 91.9h0M319.7 99.5h0M323.2 90.1h0M321.3 101.3h0M324.9 100.1h0M324.9 109.5h0M323.2 99.4h0M324.6 106.0h0M327.4 106.4h0M329.3 110.6h0M322.9 99.8h0M326.5 104.5h0M323.7 93.8h0M321.3 95.7h0M328.1 99.7h0M325.5 100.8h0M324.8 95.2h0M325.4 99.0h0M323.9 104.3h0M321.3 98.8h0M329.5 100.2h0M327.0 96.8h0M325.1 107.5h0M327.2 109.3h0M328.1 101.9h0M323.8 100.4h0M326.1 108.8h0M323.4 103.2h0M326.2 97.8h0M323.6 94.6h0M331.4 98.2h0M323.3 111.3h0M325.9 98.2h0M325.7 114.6h0M323.4 101.0h0M327.1 100.0h0M324.1 107.2h0M323.2 99.8h0M324.4 102.8h0M322.2 96.1h0M327.8 95.1h0M326.2 97.5h0M327.2 102.0h0M320.5 97.8h0M325.2 91.7h0M322.1 103.2h0M324.6 100.2h0M328.1 99.7h0M325.1 98.1h0M323.9 90.4h0M327.6 108.5h0M327.3 98.7h0M329.7 103.5h0M319.0 107.6h0M325.3 106.3h0M323.2 101.9h0M321.8 101.0h0M324.7 102.4h0M321.0 105.3h0M317.9 103.7h0M321.8 98.9h0M323.6 103.1h0M329.8 102.8h0M322.3 104.3h0M321.0 102.0h0M318.6 107.5h0M323.4 101.9h0M323.7 105.2h0M324.8 101.2h0M320.2 98.3h0M322.2 96.5h0M317.8 100.2h0M324.9 103.5h0M319.8 107.0h0M316.4 100.6h0M327.7 98.5h0M325.8 98.6h0M325.4 107.1h0M325.4 101.5h0M321.4 98.6h0M327.5 104.5h0M321.3 94.8h0M329.9 101.5h0M325.0 100.8h0M319.0 100.4h0M326.9 95.5h0M330.1 105.6h0M323.6 108.9h0M327.5 94.7h0M323.8 101.6h0M322.6 104.0h0M316.9 111.6h0M328.0 99.0h0M323.1 96.5h0M325.5 101.0h0M321.1 110.5h0M321.7 101.3h0M327.6 102.2h0M323.3 109.4h0" stroke="#000" stroke-opacity="0.55" stroke-width="0.8" stroke-linecap="square" fill="none"/>
<path d="M310.8 106.0h0M310.5 107.0h0M326.3 108.3h0M327.1 100.1h0M316.8 94.6h0M326.0 98.4h0M323.3 99.9h0M323.6 103.2h0M318.5 101.7h0M318.9 109.8h0M318.2 101.5h0M320.7 114.8h0M320.1 109.5h0M331.6 101.3h0M324.7 109.2h0M317.9 82.8h0M323.0 112.4h0M329.3 107.0h0M323.5 105.9h0M329.9 92.9h0M326.4 102.0h0M317.9 101.2h0M325.2 111.1h0M315.8 100.5h0M330.0 98.6h0M314.1 106.0h0M313.0 94.5h0M324.3 108.3h0M321.5 103.7h0M321.8 110.5h0M326.1 95.4h0M320.9 111.1h0M317.7 104.1h0M325.0 99.0h0M322.8 115.6h0M331.7 109.4h0M317.9 107.5h0M323.7 98.3h0M324.7 107.2h0M319.5 107.0h0M317.4 96.5h0M321.0 94.9h0M328.8 98.9h0M319.5 112.3h0M325.4 104.6h0M317.7 108.5h0M324.4 105.3h0M319.0 103.2h0M318.0 103.7h0M323.5 100.4h0M321.4 111.0h0M329.7 105.4h0M314.0 103.0h0M326.7 94.4h0M330.3 106.5h0M330.2 99.8h0M321.1 99.4h0M317.9 109.2h0M321.3 95.4h0M324.3 102.0h0M322.7 107.3h0M322.9 110.8h0M326.1 100.1h0M316.7 104.1h0M316.5 103.9h0M317.6 94.5h0M318.2 87.8h0M324.2 90.3h0M323.4 107.2h0M335.2 105.9h0M326.7 94.7h0M323.3 98.8h0M330.1 101.6h0M319.2 100.0h0M324.3 103.1h0M327.4 98.6h0M324.4 104.3h0M321.6 97.6h0M317.0 97.8h0M322.7 97.1h0M319.8 101.0h0M326.6 100.0h0M321.4 105.2h0M325.1 104.9h0M315.4 95.7h0M319.5 94.6h0M314.2 103.9h0M320.2 97.8h0M326.6 112.7h0M324.5 112.9h0M316.2 104.2h0M325.1 91.0h0M320.3 112.2h0M314.5 102.2h0M318.1 98.5h0M310.7 109.5h0M318.9 97.5h0M307.9 107.6h0M319.1 98.7h0M317.2 105.7h0M319.7 95.2h0M318.8 99.7h0M329.4 98.0h0M321.6 98.0h0M323.5 104.4h0" stroke="#000" stroke-opacity="0.4" stroke-width="0.8" stroke-linecap="square" fill="none"/>
<ellipse cx="342.6" cy="103.6" rx="4.2" ry="5.8" transform="rotate(0 342.6 103.6)" fill="#000" fill-opacity="1" filter="url(#bl09)"/>
<path d="M342.0 108.8h0M343.3 97.6h0M347.1 109.5h0M342.2 100.6h0M336.1 102.9h0M341.6 109.6h0M342.9 104.7h0M346.1 106.9h0M346.2 108.0h0M345.9 107.1h0M341.8 101.6h0M344.8 99.6h0M337.6 107.5h0M347.1 107.8h0M344.1 105.9h0M344.4 103.3h0M341.3 108.3h0M342.8 104.1h0M340.3 97.7h0M344.6 105.6h0M338.0 106.6h0M346.0 107.9h0M344.5 100.0h0M349.6 100.6h0M342.5 105.8h0M342.3 102.1h0M343.3 103.9h0M342.7 108.7h0M342.2 106.1h0M338.8 113.0h0M338.8 105.7h0M340.6 112.5h0M341.6 109.4h0M338.6 104.4h0M341.6 103.9h0M345.2 110.6h0M341.9 101.9h0M345.0 102.1h0M346.0 105.5h0M345.3 106.1h0M341.1 97.6h0M341.2 105.6h0M336.1 102.9h0M340.2 104.2h0M344.2 105.2h0M338.8 103.5h0M347.3 109.5h0M347.6 106.7h0M341.3 103.5h0M345.8 104.8h0M337.7 109.4h0M339.0 108.2h0M341.3 110.5h0M342.6 103.8h0M342.0 105.1h0M339.6 114.0h0M349.4 104.3h0M343.6 112.5h0M343.6 108.5h0M345.0 102.4h0M343.2 97.8h0M341.8 107.5h0M340.7 101.1h0M336.9 101.1h0M347.8 96.2h0M339.4 110.1h0M336.8 105.0h0M339.8 104.6h0M337.0 106.4h0M349.5 105.6h0M343.9 104.9h0M347.5 107.0h0M347.6 103.2h0M344.6 92.2h0M344.6 108.0h0M340.1 106.5h0M342.3 104.6h0M340.5 112.1h0M342.7 97.8h0M340.2 90.7h0M347.0 111.6h0M345.3 106.5h0M342.2 96.7h0M336.8 102.6h0M345.0 107.5h0M345.7 98.7h0M342.4 107.1h0M338.2 114.6h0M344.1 111.1h0M346.2 104.4h0M335.9 106.0h0M344.6 100.0h0M336.3 105.1h0M342.9 102.9h0M348.7 99.8h0M342.9 98.1h0M344.3 113.7h0M341.5 104.9h0M342.6 99.6h0M350.8 102.5h0M347.2 111.6h0M341.5 112.2h0M341.3 101.6h0M342.7 105.4h0M350.2 108.7h0M343.3 102.8h0M346.5 98.9h0M341.3 99.9h0M338.2 104.5h0M347.2 100.8h0M342.3 98.3h0M339.9 103.4h0M340.2 108.9h0M340.3 107.7h0M340.5 103.4h0M337.3 113.6h0M346.8 100.7h0M343.9 104.1h0M346.0 98.0h0M341.4 108.2h0M343.8 103.9h0M343.2 96.5h0M346.7 100.5h0M345.4 113.0h0M343.8 107.9h0M340.4 105.0h0M338.4 108.6h0M339.8 96.9h0M340.4 100.5h0M340.7 98.2h0M338.3 100.5h0M348.3 102.7h0M343.5 107.0h0M335.6 109.3h0M338.8 109.1h0M343.4 102.1h0M346.3 104.4h0M339.2 106.9h0M344.7 100.5h0M341.6 103.1h0M346.6 106.4h0M347.3 100.3h0M343.7 106.7h0M345.1 110.3h0M342.6 99.1h0M341.3 93.6h0M338.6 104.8h0M343.7 99.5h0M342.4 105.3h0M341.3 102.3h0M342.3 105.9h0M342.0 109.8h0M339.0 108.3h0M340.8 102.7h0M346.5 98.9h0M341.8 92.6h0M347.4 94.1h0M338.6 100.6h0M337.9 104.9h0M343.0 101.2h0M345.3 101.5h0M340.3 96.8h0M344.8 96.5h0M345.8 96.1h0M346.3 107.3h0M342.2 94.9h0M342.4 107.5h0M336.9 100.0h0M342.7 106.8h0M343.6 105.4h0M347.5 107.8h0M338.2 109.9h0M339.7 100.5h0M339.2 99.6h0M345.7 102.1h0M333.9 100.5h0M338.9 107.3h0M349.7 103.6h0M344.9 104.1h0M338.0 106.1h0M342.4 101.8h0M345.5 109.3h0M344.5 95.3h0M341.8 105.2h0M339.9 106.4h0M345.5 100.4h0M342.6 100.7h0M345.4 108.4h0M344.0 102.5h0M341.0 94.9h0M347.6 97.6h0M340.9 108.8h0M344.1 99.8h0M340.4 110.3h0M341.8 110.6h0M341.7 103.1h0M340.3 106.6h0M343.4 100.1h0M347.1 102.1h0M349.0 100.7h0M347.5 106.8h0M342.0 97.9h0M347.6 103.4h0M344.0 104.2h0M348.8 106.5h0M338.3 93.9h0M347.7 95.4h0M340.5 99.8h0M346.6 102.9h0M341.0 104.6h0M345.7 104.9h0M341.6 113.6h0M336.2 107.1h0M339.3 106.8h0M341.8 101.6h0M342.7 107.7h0M334.9 107.3h0M338.5 107.2h0M340.1 103.4h0M341.9 106.9h0M343.4 111.2h0M339.8 100.1h0M337.4 93.6h0M343.6 107.9h0M341.5 107.4h0M345.6 102.8h0M340.8 101.8h0M339.5 101.7h0M343.5 98.1h0M342.9 101.7h0M344.1 106.3h0M339.4 101.0h0M342.2 102.1h0M339.7 105.4h0M342.1 101.9h0M344.7 104.5h0M352.8 103.7h0M342.7 98.9h0M345.0 104.3h0M343.0 98.4h0M346.5 108.4h0M344.2 99.5h0M346.2 102.8h0M343.8 95.3h0M350.8 101.8h0M347.3 98.0h0M336.8 111.0h0M343.6 103.3h0M342.9 106.4h0M335.1 95.6h0M339.7 98.0h0M341.0 103.1h0M340.1 97.4h0M343.1 109.3h0M336.5 102.0h0M345.2 104.6h0M345.3 105.3h0M343.8 103.2h0M341.5 107.6h0M342.6 100.7h0M341.0 105.6h0M346.5 109.6h0M344.3 104.9h0M349.4 104.5h0M341.4 102.3h0M347.6 104.2h0M340.6 107.1h0M342.0 102.7h0M339.1 95.9h0M344.4 104.7h0M342.4 103.2h0M344.7 106.1h0M347.7 104.1h0M342.4 111.3h0M343.9 98.2h0M345.7 99.3h0M342.4 107.0h0M340.8 99.0h0M343.8 105.4h0M344.3 103.8h0M345.3 94.6h0M345.5 107.0h0M340.3 110.4h0M344.1 104.9h0M346.8 97.3h0M341.0 107.6h0M343.9 98.9h0M340.5 103.3h0M343.2 105.8h0M348.5 100.2h0M343.2 95.9h0M339.3 103.2h0M343.8 103.7h0M343.4 99.8h0M346.4 100.2h0M337.9 107.4h0M339.5 103.4h0M342.4 101.6h0M337.3 101.0h0M346.5 104.6h0M335.7 104.3h0M339.8 103.0h0M337.6 97.3h0M340.4 102.1h0M345.4 100.9h0M344.7 104.2h0M345.8 109.3h0M344.7 108.3h0M335.7 106.9h0M343.7 104.4h0M336.3 102.3h0M340.9 105.4h0M341.3 101.6h0M340.8 102.2h0M344.3 99.9h0M339.9 103.6h0M348.5 103.5h0M344.7 112.5h0M346.7 106.4h0M345.2 102.1h0M345.7 107.5h0M342.5 101.6h0M349.3 108.6h0M339.0 107.5h0M342.6 98.8h0M341.9 103.5h0M343.7 103.3h0M340.1 105.2h0M345.6 107.2h0M345.3 99.3h0M343.0 100.5h0M345.1 105.2h0M339.1 108.3h0M336.5 98.6h0M340.7 96.6h0M341.8 109.2h0M351.1 107.8h0M341.9 108.9h0M346.1 99.3h0M345.5 102.9h0M349.8 104.9h0M343.0 105.9h0M344.9 103.3h0M342.0 103.6h0M339.7 108.5h0M339.2 101.8h0M340.0 101.3h0M347.5 101.8h0M343.6 101.5h0M342.1 104.4h0M342.7 102.9h0M340.7 101.8h0M342.5 110.4h0M342.5 105.2h0M344.9 102.3h0M345.7 109.7h0M337.1 101.3h0M343.4 103.8h0M347.3 103.4h0M339.2 101.2h0M341.8 102.1h0M343.2 104.2h0M346.4 97.2h0M344.7 102.0h0M341.9 105.0h0M344.3 105.1h0M346.2 105.2h0M344.0 114.6h0M349.0 106.9h0M344.1 103.2h0M339.1 103.3h0M340.0 103.8h0M342.2 105.8h0M341.9 102.5h0M344.8 110.8h0M343.8 98.8h0M348.5 106.7h0M345.4 106.1h0M347.7 98.6h0M340.0 106.7h0M341.2 106.4h0M345.0 100.9h0M343.0 114.4h0M344.8 107.1h0M343.5 102.3h0M340.5 101.6h0M348.4 100.4h0M346.5 105.0h0M337.4 104.1h0M340.5 97.4h0M342.7 99.1h0M345.0 100.6h0M342.4 102.0h0M338.0 102.2h0M345.5 100.8h0M341.9 106.8h0M346.7 108.2h0M343.7 104.2h0M346.1 93.8h0M345.5 103.1h0M345.7 106.4h0M340.9 103.5h0M346.2 105.1h0M343.4 104.3h0M338.4 97.0h0M341.3 92.3h0M341.5 106.7h0M344.3 101.4h0M345.0 105.7h0M338.9 102.4h0M345.1 103.0h0M342.4 110.1h0M339.1 98.4h0M345.5 103.8h0M340.1 98.8h0M338.6 104.1h0M345.2 106.0h0M345.7 106.8h0M340.4 104.5h0M346.3 97.5h0M346.1 104.9h0M340.9 107.9h0M349.5 108.3h0M342.5 113.6h0M343.4 106.4h0M334.6 99.2h0M344.8 101.4h0M340.6 104.2h0M344.2 108.6h0M336.9 98.6h0M346.6 108.0h0M347.6 106.8h0M349.1 99.9h0M332.7 106.6h0M344.7 100.3h0M343.9 103.8h0M332.4 102.4h0M340.2 104.9h0M342.4 98.4h0M347.5 106.2h0M339.9 93.9h0M343.4 102.0h0M342.5 101.2h0M344.0 111.0h0M341.4 106.3h0M345.7 101.6h0" stroke="#000" stroke-opacity="0.6" stroke-width="0.9" stroke-linecap="square" fill="none"/>
<path d="M329.4 74.8h0M339.9 86.6h0M332.4 92.8h0M365.0 95.5h0M307.9 91.7h0M340.3 99.2h0M311.6 75.1h0M351.4 109.3h0M330.4 78.5h0M357.8 92.3h0M333.3 97.5h0M351.9 104.9h0M341.9 101.9h0M353.0 101.5h0M339.8 106.2h0M331.3 100.2h0M321.8 109.2h0M350.3 83.0h0M345.7 75.7h0M339.6 80.2h0M344.7 107.8h0M341.8 105.8h0M333.0 87.6h0M361.8 94.5h0M342.3 97.1h0M337.3 103.7h0M322.8 70.2h0M332.5 85.3h0M339.7 88.7h0M337.5 95.3h0M334.1 92.6h0M339.0 88.1h0M326.7 95.0h0M339.6 62.3h0M329.7 101.1h0M331.1 101.9h0M349.5 84.2h0M345.1 96.5h0M340.4 115.3h0M326.4 112.6h0M335.0 92.6h0M348.7 77.6h0M353.8 93.6h0" stroke="#000" stroke-opacity="0.35" stroke-width="0.8" stroke-linecap="square" fill="none"/>
<path d="M305.5 71.5H335V116.6M305.5 92.3H353V116.6" fill="none" stroke="#ff3b3b" stroke-width="1.1" stroke-dasharray="2.6 1.6"/>
<text x="306.2" y="64.8" font-size="6.1" text-anchor="start" font-weight="normal" font-style="normal" fill="#ff3b3b" stroke="#ff3b3b" stroke-width="0.15">R3</text>
<text x="306.2" y="70.6" font-size="6.1" text-anchor="start" font-weight="normal" font-style="normal" fill="#ff3b3b" stroke="#ff3b3b" stroke-width="0.15">84.6%</text>
<text x="333.6" y="86.2" font-size="6.1" text-anchor="start" font-weight="normal" font-style="normal" fill="#ff3b3b" stroke="#ff3b3b" stroke-width="0.15">R2</text>
<text x="333.6" y="91.4" font-size="6.1" text-anchor="start" font-weight="normal" font-style="normal" fill="#ff3b3b" stroke="#ff3b3b" stroke-width="0.15">10.1%</text>
<line x1="337" y1="73.4" x2="397.5" y2="44.4" stroke="#ff3b3b" stroke-width="1.1" stroke-dasharray="2.6 1.6"/>
<polygon points="398.6,42 404.2,42 401.3,45.8" fill="#ff0000"/>
<line x1="353.8" y1="100.8" x2="404" y2="119.9" stroke="#ff3b3b" stroke-width="1.1" stroke-dasharray="2.6 1.6"/>
<polygon points="406,118.6 409.7,123 403.6,123.2" fill="#ff0000"/>
<text x="299.8" y="39.8" font-size="7.4" text-anchor="end" fill="#000">10<tspan dy="-3.3" font-size="5.62">7.2</tspan></text>
<text x="299.8" y="55.6" font-size="7.4" text-anchor="end" fill="#000">10<tspan dy="-3.3" font-size="5.62">6</tspan></text>
<text x="299.8" y="69.2" font-size="7.4" text-anchor="end" fill="#000">10<tspan dy="-3.3" font-size="5.62">5</tspan></text>
<text x="299.8" y="82.5" font-size="7.4" text-anchor="end" fill="#000">10<tspan dy="-3.3" font-size="5.62">4</tspan></text>
<text x="299.8" y="94.8" font-size="7.4" text-anchor="end" fill="#000">10<tspan dy="-3.3" font-size="5.62">3</tspan></text>
<text x="299.8" y="107.5" font-size="7.4" text-anchor="end" fill="#000">10<tspan dy="-3.3" font-size="5.62">2</tspan></text>
<text x="299.8" y="119.8" font-size="7.4" text-anchor="end" fill="#000">10<tspan dy="-3.3" font-size="5.62">1</tspan></text>
<text x="304.2" y="128.6" font-size="7.4" text-anchor="middle" fill="#000">10<tspan dy="-3.3" font-size="5.62">1</tspan></text>
<text x="317.6" y="128.6" font-size="7.4" text-anchor="middle" fill="#000">10<tspan dy="-3.3" font-size="5.62">2</tspan></text>
<text x="329.6" y="128.6" font-size="7.4" text-anchor="middle" fill="#000">10<tspan dy="-3.3" font-size="5.62">3</tspan></text>
<text x="343.2" y="128.6" font-size="7.4" text-anchor="middle" fill="#000">10<tspan dy="-3.3" font-size="5.62">4</tspan></text>
<text x="356.6" y="128.6" font-size="7.4" text-anchor="middle" fill="#000">10<tspan dy="-3.3" font-size="5.62">5</tspan></text>
<text x="369.6" y="128.6" font-size="7.4" text-anchor="middle" fill="#000">10<tspan dy="-3.3" font-size="5.62">6</tspan></text>
<text x="388.5" y="128.6" font-size="7.4" text-anchor="middle" fill="#000">10<tspan dy="-3.3" font-size="5.62">7.2</tspan></text>
<text x="342.5" y="142.1" font-size="9.4" text-anchor="middle" stroke="#000" stroke-width="0.3" textLength="20.8" lengthAdjust="spacingAndGlyphs">CD41.H</text>
<text transform="translate(277.9,85.8) rotate(-90)" x="0" y="0" font-size="9.5" text-anchor="middle" font-weight="normal" fill="#000" textLength="23" lengthAdjust="spacingAndGlyphs" stroke="#000" stroke-width="0.25">Ter119.H</text>
<rect x="446.3" y="16.9" width="65.9" height="62.5" fill="none" stroke="#5c5cff" stroke-width="1"/>
<path d="M446.3 79.4V77.2M451.02 79.4V78M453.79 79.4V78M455.75 79.4V78M457.27 79.4V78M458.51 79.4V78M459.56 79.4V78M460.47 79.4V78M461.27 79.4V78M461.99 79.4V77.2M466.71 79.4V78M469.48 79.4V78M471.44 79.4V78M472.96 79.4V78M474.2 79.4V78M475.25 79.4V78M476.16 79.4V78M476.96 79.4V78M477.68 79.4V77.2M482.4 79.4V78M485.17 79.4V78M487.13 79.4V78M488.65 79.4V78M489.89 79.4V78M490.94 79.4V78M491.85 79.4V78M492.65 79.4V78M493.37 79.4V77.2M498.09 79.4V78M500.86 79.4V78M502.82 79.4V78M504.34 79.4V78M505.58 79.4V78M506.63 79.4V78M507.54 79.4V78M508.34 79.4V78M509.06 79.4V77.2M443.8 16.9H446.3M443.8 37.7H446.3M443.8 58.6H446.3M443.8 79.3H446.3" stroke="#5c5cff" stroke-width="0.8" fill="none"/>
<text x="441.7" y="19.7" font-size="8" text-anchor="end" font-weight="normal" font-style="normal" fill="#000" >1,500</text>
<text x="441.7" y="40.5" font-size="8" text-anchor="end" font-weight="normal" font-style="normal" fill="#000" >1,000</text>
<text x="441.7" y="61.4" font-size="8" text-anchor="end" font-weight="normal" font-style="normal" fill="#000" >500</text>
<text x="441.7" y="82.1" font-size="8" text-anchor="end" font-weight="normal" font-style="normal" fill="#000" >0</text>
<text transform="translate(452.9,88.4) rotate(-45)" font-size="8" text-anchor="end">10<tspan dy="-3.3" font-size="5.9">3</tspan></text>
<text transform="translate(468.6,88.4) rotate(-45)" font-size="8" text-anchor="end">10<tspan dy="-3.3" font-size="5.9">4</tspan></text>
<text transform="translate(484.3,88.4) rotate(-45)" font-size="8" text-anchor="end">10<tspan dy="-3.3" font-size="5.9">5</tspan></text>
<text transform="translate(500,88.4) rotate(-45)" font-size="8" text-anchor="end">10<tspan dy="-3.3" font-size="5.9">6</tspan></text>
<text transform="translate(518.8,88.4) rotate(-45)" font-size="8" text-anchor="end">10<tspan dy="-3.3" font-size="5.9">7.2</tspan></text>
<path d="M486.3 79.2 L487.9 70.5 L488.9 55.3 L490.1 40.2 L490.7 33 L491.2 30.8 L491.8 32.5 L492.6 40.2 L493.6 55.3 L494.1 70.5 L495.3 79.2Z" fill="#000"/>
<rect x="446.8" y="128.8" width="65.4" height="62.5" fill="none" stroke="#5c5cff" stroke-width="1"/>
<path d="M446.8 191.3V189.1M449.98 191.3V189.9M451.83 191.3V189.9M453.15 191.3V189.9M454.17 191.3V189.9M455.01 191.3V189.9M455.71 191.3V189.9M456.33 191.3V189.9M456.87 191.3V189.9M457.35 191.3V189.1M460.52 191.3V189.9M462.38 191.3V189.9M463.7 191.3V189.9M464.72 191.3V189.9M465.56 191.3V189.9M466.26 191.3V189.9M466.87 191.3V189.9M467.41 191.3V189.9M467.9 191.3V189.1M471.07 191.3V189.9M472.93 191.3V189.9M474.25 191.3V189.9M475.27 191.3V189.9M476.11 191.3V189.9M476.81 191.3V189.9M477.42 191.3V189.9M477.96 191.3V189.9M478.45 191.3V189.1M481.62 191.3V189.9M483.48 191.3V189.9M484.8 191.3V189.9M485.82 191.3V189.9M486.65 191.3V189.9M487.36 191.3V189.9M487.97 191.3V189.9M488.51 191.3V189.9M488.99 191.3V189.1M492.17 191.3V189.9M494.03 191.3V189.9M495.34 191.3V189.9M496.37 191.3V189.9M497.2 191.3V189.9M497.91 191.3V189.9M498.52 191.3V189.9M499.06 191.3V189.9M499.54 191.3V189.1M502.72 191.3V189.9M504.57 191.3V189.9M505.89 191.3V189.9M506.91 191.3V189.9M507.75 191.3V189.9M508.46 191.3V189.9M509.07 191.3V189.9M509.61 191.3V189.9M510.09 191.3V189.1M444.3 128.8H446.8M444.3 144.5H446.8M444.3 160.1H446.8M444.3 175.7H446.8M444.3 191.3H446.8" stroke="#5c5cff" stroke-width="0.8" fill="none"/>
<text x="442.2" y="131.6" font-size="8" text-anchor="end" font-weight="normal" font-style="normal" fill="#000" >200</text>
<text x="442.2" y="147.3" font-size="8" text-anchor="end" font-weight="normal" font-style="normal" fill="#000" >150</text>
<text x="442.2" y="162.9" font-size="8" text-anchor="end" font-weight="normal" font-style="normal" fill="#000" >100</text>
<text x="442.2" y="178.5" font-size="8" text-anchor="end" font-weight="normal" font-style="normal" fill="#000" >50</text>
<text x="442.2" y="194.1" font-size="8" text-anchor="end" font-weight="normal" font-style="normal" fill="#000" >0</text>
<text transform="translate(453.4,200.3) rotate(-45)" font-size="8" text-anchor="end">10<tspan dy="-3.3" font-size="5.9">1</tspan></text>
<text transform="translate(464.3,200.3) rotate(-45)" font-size="8" text-anchor="end">10<tspan dy="-3.3" font-size="5.9">2</tspan></text>
<text transform="translate(475.1,200.3) rotate(-45)" font-size="8" text-anchor="end">10<tspan dy="-3.3" font-size="5.9">3</tspan></text>
<text transform="translate(486,200.3) rotate(-45)" font-size="8" text-anchor="end">10<tspan dy="-3.3" font-size="5.9">4</tspan></text>
<text transform="translate(496.8,200.3) rotate(-45)" font-size="8" text-anchor="end">10<tspan dy="-3.3" font-size="5.9">5</tspan></text>
<text transform="translate(507.7,200.3) rotate(-45)" font-size="8" text-anchor="end">10<tspan dy="-3.3" font-size="5.9">6</tspan></text>
<text transform="translate(518.8,200.3) rotate(-45)" font-size="8" text-anchor="end">10<tspan dy="-3.3" font-size="5.9">7.2</tspan></text>
<path d="M479.8 191.2 L481.4 182.7 L482.7 173.4 L484.1 164.5 L484.9 162 L486.4 162 L486.9 164.5 L488.8 173.4 L490.4 182.7 L492.7 191.2Z" fill="#000"/>
<path d="M484.7 163 L485.2 157 L485.6 155.2 L486.1 156.5 L486.6 163Z" fill="#555"/>
<text x="478.7" y="111.8" font-size="9.4" text-anchor="middle" stroke="#000" stroke-width="0.3" textLength="18" lengthAdjust="spacingAndGlyphs">FSC-A</text>
<text x="480.6" y="223.6" font-size="9.4" text-anchor="middle" stroke="#000" stroke-width="0.3" textLength="18.4" lengthAdjust="spacingAndGlyphs">FSC-A</text>
<text transform="translate(416.3,52.5) rotate(-90)" x="0" y="0" font-size="9.4" text-anchor="middle" font-weight="normal" fill="#000" textLength="16.2" lengthAdjust="spacingAndGlyphs" stroke="#000" stroke-width="0.25">Count</text>
<text transform="translate(423.4,165.2) rotate(-90)" x="0" y="0" font-size="9.4" text-anchor="middle" font-weight="normal" fill="#000" textLength="17.5" lengthAdjust="spacingAndGlyphs" stroke="#000" stroke-width="0.25">Count</text>
<line x1="53.2" y1="176" x2="53.2" y2="261.8" stroke="#1a1a1a" stroke-width="1.1" />
<line x1="52.7" y1="261.3" x2="152.6" y2="261.3" stroke="#1a1a1a" stroke-width="1.1" />
<line x1="50.4" y1="178" x2="53.2" y2="178" stroke="#1a1a1a" stroke-width="1" />
<text x="47.4" y="180.9" font-size="8.1" text-anchor="end" font-weight="normal" font-style="normal" fill="#111" >2000</text>
<line x1="50.4" y1="198.8" x2="53.2" y2="198.8" stroke="#1a1a1a" stroke-width="1" />
<text x="47.4" y="201.7" font-size="8.1" text-anchor="end" font-weight="normal" font-style="normal" fill="#111" >1500</text>
<line x1="50.4" y1="219.6" x2="53.2" y2="219.6" stroke="#1a1a1a" stroke-width="1" />
<text x="47.4" y="222.5" font-size="8.1" text-anchor="end" font-weight="normal" font-style="normal" fill="#111" >1000</text>
<line x1="50.4" y1="240.4" x2="53.2" y2="240.4" stroke="#1a1a1a" stroke-width="1" />
<text x="47.4" y="243.3" font-size="8.1" text-anchor="end" font-weight="normal" font-style="normal" fill="#111" >500</text>
<line x1="50.4" y1="261.2" x2="53.2" y2="261.2" stroke="#1a1a1a" stroke-width="1" />
<text x="47.4" y="264.1" font-size="8.1" text-anchor="end" font-weight="normal" font-style="normal" fill="#111" >0</text>
<line x1="75.4" y1="261.3" x2="75.4" y2="263.9" stroke="#1a1a1a" stroke-width="1" />
<line x1="125.7" y1="261.3" x2="125.7" y2="263.9" stroke="#1a1a1a" stroke-width="1" />
<rect x="62" y="225.2" width="26.8" height="35.6" fill="#c6c8dc" />
<rect x="112" y="227.2" width="27.4" height="33.6" fill="#e5c8be" />
<text transform="translate(23.4,218.3) rotate(-90)" x="0" y="0" font-size="8.8" text-anchor="middle" font-weight="normal" fill="#111" textLength="48.7" lengthAdjust="spacingAndGlyphs" stroke="#111" stroke-width="0.3">PLT count 10<tspan dy="-2.5" font-size="5.5">3</tspan><tspan dy="2.5">/µl</tspan></text>
<text x="56.8" y="274.1" font-size="8.2" font-style="italic" textLength="28.5" lengthAdjust="spacingAndGlyphs" fill="#111">SLFN14</text>
<text x="85.6" y="270.9" font-size="5.9" font-style="italic" textLength="8.4" lengthAdjust="spacingAndGlyphs" fill="#111">+/+</text>
<text x="99.8" y="274.1" font-size="8.2" font-style="italic" textLength="28.5" lengthAdjust="spacingAndGlyphs" fill="#111">SLFN14</text>
<text x="128.6" y="270.9" font-size="5.9" font-style="italic" textLength="23.1" lengthAdjust="spacingAndGlyphs" fill="#111">K208N/+</text>
<path d="M75.4 222.3V226.4M68.4 222.3H82.4M68.4 226.4H82.4" stroke="#12306e" stroke-width="1" fill="none"/>
<g fill="#12306e"><circle cx="75.2" cy="201.7" r="1.15"/><circle cx="75.2" cy="213.6" r="1.15"/><circle cx="68.3" cy="218.3" r="1.15"/><circle cx="72.9" cy="218.8" r="1.15"/><circle cx="77.7" cy="218.3" r="1.15"/><circle cx="82.4" cy="217.1" r="1.15"/><circle cx="82.4" cy="220" r="1.15"/><circle cx="77.7" cy="221.2" r="1.15"/><circle cx="77.7" cy="223.1" r="1.15"/><circle cx="68.3" cy="223.1" r="1.15"/><circle cx="63.7" cy="224.6" r="1.15"/><circle cx="86.7" cy="224.8" r="1.15"/><circle cx="68.3" cy="225.6" r="1.15"/><circle cx="72.9" cy="224.8" r="1.15"/><circle cx="77.7" cy="226.5" r="1.15"/><circle cx="82.4" cy="226.5" r="1.15"/><circle cx="72.9" cy="228.2" r="1.15"/><circle cx="72.9" cy="231.3" r="1.15"/><circle cx="77.7" cy="230.1" r="1.15"/><circle cx="82.4" cy="230.1" r="1.15"/><circle cx="68.3" cy="233.5" r="1.15"/><circle cx="68.3" cy="237.1" r="1.15"/><circle cx="77.7" cy="236.3" r="1.15"/><circle cx="82.4" cy="234.9" r="1.15"/></g>
<path d="M125.7 223.8V228.7M118.7 223.8H132.7M118.7 228.7H132.7" stroke="#a3102a" stroke-width="1" fill="none"/>
<g fill="#a3102a"><rect x="124.85" y="204.85" width="2.3" height="2.3"/><rect x="120.45" y="217.85" width="2.3" height="2.3"/><rect x="124.85" y="216.95" width="2.3" height="2.3"/><rect x="124.85" y="219.65" width="2.3" height="2.3"/><rect x="129.15" y="219.05" width="2.3" height="2.3"/><rect x="111.85" y="221.75" width="2.3" height="2.3"/><rect x="133.45" y="221.25" width="2.3" height="2.3"/><rect x="137.85" y="221.75" width="2.3" height="2.3"/><rect x="120.45" y="222.65" width="2.3" height="2.3"/><rect x="124.85" y="223.15" width="2.3" height="2.3"/><rect x="129.15" y="222.65" width="2.3" height="2.3"/><rect x="111.85" y="227.55" width="2.3" height="2.3"/><rect x="116.15" y="226.35" width="2.3" height="2.3"/><rect x="120.45" y="227.05" width="2.3" height="2.3"/><rect x="124.85" y="226.55" width="2.3" height="2.3"/><rect x="129.15" y="227.05" width="2.3" height="2.3"/><rect x="133.45" y="227.05" width="2.3" height="2.3"/><rect x="124.85" y="228.45" width="2.3" height="2.3"/><rect x="120.45" y="233.05" width="2.3" height="2.3"/><rect x="124.85" y="233.05" width="2.3" height="2.3"/><rect x="129.15" y="231.85" width="2.3" height="2.3"/><rect x="129.15" y="235.05" width="2.3" height="2.3"/><rect x="124.85" y="236.65" width="2.3" height="2.3"/><rect x="124.85" y="239.85" width="2.3" height="2.3"/></g>
<line x1="217.7" y1="175.4" x2="217.7" y2="261.9" stroke="#1a1a1a" stroke-width="1.1" />
<line x1="217.2" y1="261.4" x2="316.6" y2="261.4" stroke="#1a1a1a" stroke-width="1.1" />
<line x1="214.9" y1="178.2" x2="217.7" y2="178.2" stroke="#1a1a1a" stroke-width="1" />
<text x="212.9" y="181.1" font-size="8.1" text-anchor="end" font-weight="normal" font-style="normal" fill="#111" >20</text>
<line x1="214.9" y1="198.9" x2="217.7" y2="198.9" stroke="#1a1a1a" stroke-width="1" />
<text x="212.9" y="201.8" font-size="8.1" text-anchor="end" font-weight="normal" font-style="normal" fill="#111" >15</text>
<line x1="214.9" y1="219.6" x2="217.7" y2="219.6" stroke="#1a1a1a" stroke-width="1" />
<text x="212.9" y="222.5" font-size="8.1" text-anchor="end" font-weight="normal" font-style="normal" fill="#111" >10</text>
<line x1="214.9" y1="240.3" x2="217.7" y2="240.3" stroke="#1a1a1a" stroke-width="1" />
<text x="212.9" y="243.2" font-size="8.1" text-anchor="end" font-weight="normal" font-style="normal" fill="#111" >5</text>
<line x1="214.9" y1="261" x2="217.7" y2="261" stroke="#1a1a1a" stroke-width="1" />
<text x="212.9" y="263.9" font-size="8.1" text-anchor="end" font-weight="normal" font-style="normal" fill="#111" >0</text>
<line x1="241" y1="261.4" x2="241" y2="264" stroke="#1a1a1a" stroke-width="1" />
<line x1="291.5" y1="261.4" x2="291.5" y2="264" stroke="#1a1a1a" stroke-width="1" />
<rect x="227" y="227.6" width="27.4" height="33.3" fill="#c6c8dc" />
<rect x="278.1" y="215.3" width="26.9" height="45.6" fill="#e5c8be" />
<text transform="translate(198.1,218.6) rotate(-90)" x="0" y="0" font-size="8.8" text-anchor="middle" font-weight="normal" fill="#111" textLength="51.3" lengthAdjust="spacingAndGlyphs" stroke="#111" stroke-width="0.3">RBC count 10<tspan dy="-2.5" font-size="5.5">6</tspan><tspan dy="2.5">/µl</tspan></text>
<text x="222.4" y="274.6" font-size="8.2" font-style="italic" textLength="28.5" lengthAdjust="spacingAndGlyphs" fill="#111">SLFN14</text>
<text x="251.2" y="271.4" font-size="5.9" font-style="italic" textLength="8.4" lengthAdjust="spacingAndGlyphs" fill="#111">+/+</text>
<text x="265.6" y="274.6" font-size="8.2" font-style="italic" textLength="28.5" lengthAdjust="spacingAndGlyphs" fill="#111">SLFN14</text>
<text x="294.4" y="271.4" font-size="5.9" font-style="italic" textLength="23.1" lengthAdjust="spacingAndGlyphs" fill="#111">K208N/+</text>
<text x="290.6" y="181.6" font-size="7.4" text-anchor="middle" font-weight="normal" font-style="normal" fill="#000" >****</text>
<g fill="#12306e"><circle cx="240.8" cy="217.1" r="1.15"/><circle cx="234.1" cy="220.4" r="1.15"/><circle cx="234.1" cy="221.8" r="1.15"/><circle cx="234.1" cy="223.2" r="1.15"/><circle cx="237.6" cy="221.1" r="1.15"/><circle cx="240.8" cy="221.2" r="1.15"/><circle cx="244" cy="222.8" r="1.15"/><circle cx="247.3" cy="220.4" r="1.15"/><circle cx="247.3" cy="221.8" r="1.15"/><circle cx="247.3" cy="223.2" r="1.15"/><circle cx="227.9" cy="226.8" r="1.15"/><circle cx="231" cy="226.1" r="1.15"/><circle cx="234.1" cy="227.9" r="1.15"/><circle cx="237.6" cy="224.5" r="1.15"/><circle cx="237.6" cy="226.1" r="1.15"/><circle cx="237.6" cy="227.5" r="1.15"/><circle cx="240.8" cy="226.1" r="1.15"/><circle cx="244" cy="226.1" r="1.15"/><circle cx="247.3" cy="226.1" r="1.15"/><circle cx="250.4" cy="227.7" r="1.15"/><circle cx="253.9" cy="224.7" r="1.15"/><circle cx="253.9" cy="226.1" r="1.15"/><circle cx="253.9" cy="227.5" r="1.15"/><circle cx="237.6" cy="230.8" r="1.15"/><circle cx="240.8" cy="232.3" r="1.15"/><circle cx="244" cy="230.4" r="1.15"/><circle cx="244" cy="231.8" r="1.15"/><circle cx="244" cy="233.2" r="1.15"/><circle cx="237.6" cy="235.3" r="1.15"/></g>
<path d="M241 224.9V226.6M234.5 224.9H247.5M234.5 226.6H247.5" stroke="#12306e" stroke-width="1" fill="none"/>
<g fill="#a3102a"><rect x="290.35" y="192.95" width="2.3" height="2.3"/><rect x="278.85" y="207.55" width="2.3" height="2.3"/><rect x="278.85" y="210.75" width="2.3" height="2.3"/><rect x="278.85" y="212.75" width="2.3" height="2.3"/><rect x="283.25" y="208.75" width="2.3" height="2.3"/><rect x="283.25" y="212.75" width="2.3" height="2.3"/><rect x="287.95" y="206.55" width="2.3" height="2.3"/><rect x="287.95" y="208.75" width="2.3" height="2.3"/><rect x="287.95" y="210.75" width="2.3" height="2.3"/><rect x="287.95" y="212.75" width="2.3" height="2.3"/><rect x="287.95" y="215.15" width="2.3" height="2.3"/><rect x="287.95" y="217.15" width="2.3" height="2.3"/><rect x="292.75" y="209.95" width="2.3" height="2.3"/><rect x="292.75" y="214.35" width="2.3" height="2.3"/><rect x="297.55" y="207.55" width="2.3" height="2.3"/><rect x="297.55" y="209.95" width="2.3" height="2.3"/><rect x="297.55" y="213.15" width="2.3" height="2.3"/><rect x="302.15" y="207.95" width="2.3" height="2.3"/><rect x="302.15" y="212.75" width="2.3" height="2.3"/><rect x="283.25" y="218.75" width="2.3" height="2.3"/><rect x="287.95" y="219.85" width="2.3" height="2.3"/><rect x="292.75" y="219.55" width="2.3" height="2.3"/><rect x="297.55" y="220.65" width="2.3" height="2.3"/><rect x="302.15" y="218.75" width="2.3" height="2.3"/><rect x="290.35" y="223.45" width="2.3" height="2.3"/></g>
<path d="M291.5 212.6V214.2M285 212.6H298M285 214.2H298" stroke="#a3102a" stroke-width="1" fill="none"/>
<line x1="53.1" y1="305.8" x2="53.1" y2="396.8" stroke="#1a1a1a" stroke-width="1.1" />
<line x1="52.6" y1="396.3" x2="152.4" y2="396.3" stroke="#1a1a1a" stroke-width="1.1" />
<line x1="50.3" y1="308.2" x2="53.1" y2="308.2" stroke="#1a1a1a" stroke-width="1" />
<text x="47.4" y="311.1" font-size="8.1" text-anchor="end" font-weight="normal" font-style="normal" fill="#111" >100000</text>
<line x1="50.3" y1="325.8" x2="53.1" y2="325.8" stroke="#1a1a1a" stroke-width="1" />
<text x="47.4" y="328.7" font-size="8.1" text-anchor="end" font-weight="normal" font-style="normal" fill="#111" >90000</text>
<line x1="50.3" y1="343.4" x2="53.1" y2="343.4" stroke="#1a1a1a" stroke-width="1" />
<text x="47.4" y="346.3" font-size="8.1" text-anchor="end" font-weight="normal" font-style="normal" fill="#111" >80000</text>
<line x1="50.3" y1="361" x2="53.1" y2="361" stroke="#1a1a1a" stroke-width="1" />
<text x="47.4" y="363.9" font-size="8.1" text-anchor="end" font-weight="normal" font-style="normal" fill="#111" >70000</text>
<line x1="50.3" y1="378.6" x2="53.1" y2="378.6" stroke="#1a1a1a" stroke-width="1" />
<text x="47.4" y="381.5" font-size="8.1" text-anchor="end" font-weight="normal" font-style="normal" fill="#111" >60000</text>
<line x1="50.3" y1="396.2" x2="53.1" y2="396.2" stroke="#1a1a1a" stroke-width="1" />
<text x="47.4" y="399.1" font-size="8.1" text-anchor="end" font-weight="normal" font-style="normal" fill="#111" >50000</text>
<line x1="75.4" y1="396.3" x2="75.4" y2="398.9" stroke="#1a1a1a" stroke-width="1" />
<line x1="125.7" y1="396.3" x2="125.7" y2="398.9" stroke="#1a1a1a" stroke-width="1" />
<rect x="60.1" y="365.8" width="30" height="30" fill="#c6c8dc" />
<rect x="111" y="357.6" width="30.2" height="38.2" fill="#e5c8be" />
<text transform="translate(14.8,350.4) rotate(-90)" x="0" y="0" font-size="8.8" text-anchor="middle" font-weight="normal" fill="#111" textLength="47.8" lengthAdjust="spacingAndGlyphs" stroke="#111" stroke-width="0.3">PLT size (FSC-A)</text>
<text x="56.8" y="409.6" font-size="8.2" font-style="italic" textLength="28.5" lengthAdjust="spacingAndGlyphs" fill="#111">SLFN14</text>
<text x="85.6" y="406.4" font-size="5.9" font-style="italic" textLength="8.4" lengthAdjust="spacingAndGlyphs" fill="#111">+/+</text>
<text x="99.8" y="409.6" font-size="8.2" font-style="italic" textLength="28.5" lengthAdjust="spacingAndGlyphs" fill="#111">SLFN14</text>
<text x="128.6" y="406.4" font-size="5.9" font-style="italic" textLength="23.1" lengthAdjust="spacingAndGlyphs" fill="#111">K208N/+</text>
<text x="125.8" y="309.5" font-size="7.4" text-anchor="middle" font-weight="normal" font-style="normal" fill="#000" >*</text>
<path d="M75.2 362.3V368.1M67.6 362.3H82.8M67.6 368.1H82.8" stroke="#12306e" stroke-width="1" fill="none"/>
<g fill="#12306e"><circle cx="75.2" cy="345.1" r="1.3"/><circle cx="72.5" cy="349.3" r="1.3"/><circle cx="77.8" cy="349.9" r="1.3"/><circle cx="77.8" cy="353.3" r="1.3"/><circle cx="62.2" cy="354.3" r="1.3"/><circle cx="67.5" cy="354.3" r="1.3"/><circle cx="72.5" cy="355.7" r="1.3"/><circle cx="83.1" cy="354.6" r="1.3"/><circle cx="88.2" cy="354.3" r="1.3"/><circle cx="77.8" cy="357.8" r="1.3"/><circle cx="75.2" cy="360.2" r="1.3"/><circle cx="67.5" cy="364.6" r="1.3"/><circle cx="72.5" cy="365.2" r="1.3"/><circle cx="77.8" cy="365.2" r="1.3"/><circle cx="83.1" cy="363.6" r="1.3"/><circle cx="67.5" cy="372.7" r="1.3"/><circle cx="72.5" cy="374" r="1.3"/><circle cx="77.8" cy="373.1" r="1.3"/><circle cx="72.5" cy="378.7" r="1.3"/><circle cx="77.8" cy="380.1" r="1.3"/><circle cx="83.1" cy="379.1" r="1.3"/><circle cx="70" cy="387.6" r="1.3"/><circle cx="75.2" cy="386.2" r="1.3"/><circle cx="80.5" cy="386.5" r="1.3"/></g>
<path d="M125.7 354.4V360.2M118.1 354.4H133.3M118.1 360.2H133.3" stroke="#a3102a" stroke-width="1" fill="none"/>
<g fill="#a3102a"><rect x="124.45" y="336.85" width="2.5" height="2.5"/><rect x="124.45" y="340.85" width="2.5" height="2.5"/><rect x="124.45" y="344.85" width="2.5" height="2.5"/><rect x="114.15" y="346.05" width="2.5" height="2.5"/><rect x="114.15" y="348.85" width="2.5" height="2.5"/><rect x="119.25" y="345.45" width="2.5" height="2.5"/><rect x="119.25" y="347.75" width="2.5" height="2.5"/><rect x="130.25" y="345.45" width="2.5" height="2.5"/><rect x="130.25" y="347.75" width="2.5" height="2.5"/><rect x="135.05" y="345.45" width="2.5" height="2.5"/><rect x="135.05" y="347.75" width="2.5" height="2.5"/><rect x="119.25" y="351.15" width="2.5" height="2.5"/><rect x="124.45" y="350.35" width="2.5" height="2.5"/><rect x="129.95" y="351.15" width="2.5" height="2.5"/><rect x="121.95" y="356.95" width="2.5" height="2.5"/><rect x="127.35" y="357.55" width="2.5" height="2.5"/><rect x="124.45" y="369.05" width="2.5" height="2.5"/><rect x="119.25" y="371.05" width="2.5" height="2.5"/><rect x="129.95" y="371.05" width="2.5" height="2.5"/><rect x="124.45" y="373.65" width="2.5" height="2.5"/><rect x="124.45" y="377.05" width="2.5" height="2.5"/><rect x="121.95" y="383.95" width="2.5" height="2.5"/><rect x="127.35" y="381.95" width="2.5" height="2.5"/></g>
<line x1="217.8" y1="308.9" x2="217.8" y2="396.8" stroke="#1a1a1a" stroke-width="1.1" />
<line x1="217.3" y1="396.3" x2="316" y2="396.3" stroke="#1a1a1a" stroke-width="1.1" />
<line x1="215" y1="310.8" x2="217.8" y2="310.8" stroke="#1a1a1a" stroke-width="1" />
<text x="213.2" y="313.7" font-size="8.1" text-anchor="end" font-weight="normal" font-style="normal" fill="#111" >1500000</text>
<line x1="215" y1="339.2" x2="217.8" y2="339.2" stroke="#1a1a1a" stroke-width="1" />
<text x="213.2" y="342.1" font-size="8.1" text-anchor="end" font-weight="normal" font-style="normal" fill="#111" >1000000</text>
<line x1="215" y1="367.6" x2="217.8" y2="367.6" stroke="#1a1a1a" stroke-width="1" />
<text x="213.2" y="370.5" font-size="8.1" text-anchor="end" font-weight="normal" font-style="normal" fill="#111" >500000</text>
<line x1="215" y1="396" x2="217.8" y2="396" stroke="#1a1a1a" stroke-width="1" />
<text x="213.2" y="398.9" font-size="8.1" text-anchor="end" font-weight="normal" font-style="normal" fill="#111" >0</text>
<line x1="241" y1="396.3" x2="241" y2="398.9" stroke="#1a1a1a" stroke-width="1" />
<line x1="291.5" y1="396.3" x2="291.5" y2="398.9" stroke="#1a1a1a" stroke-width="1" />
<rect x="227.5" y="346.9" width="26.9" height="48.9" fill="#c6c8dc" />
<rect x="278.5" y="366.9" width="26.9" height="28.9" fill="#e5c8be" />
<text transform="translate(176.1,352.6) rotate(-90)" x="0" y="0" font-size="8.8" text-anchor="middle" font-weight="normal" fill="#111" textLength="50.5" lengthAdjust="spacingAndGlyphs" stroke="#111" stroke-width="0.3">RBC size (FSC-A)</text>
<text x="222.4" y="409.6" font-size="8.2" font-style="italic" textLength="28.5" lengthAdjust="spacingAndGlyphs" fill="#111">SLFN14</text>
<text x="251.2" y="406.4" font-size="5.9" font-style="italic" textLength="8.4" lengthAdjust="spacingAndGlyphs" fill="#111">+/+</text>
<text x="265.6" y="409.6" font-size="8.2" font-style="italic" textLength="28.5" lengthAdjust="spacingAndGlyphs" fill="#111">SLFN14</text>
<text x="294.4" y="406.4" font-size="5.9" font-style="italic" textLength="23.1" lengthAdjust="spacingAndGlyphs" fill="#111">K208N/+</text>
<text x="292.1" y="320.6" font-size="7.4" text-anchor="middle" font-weight="normal" font-style="normal" fill="#000" >****</text>
<g fill="#12306e"><circle cx="237.4" cy="335.6" r="1.2"/><circle cx="239.3" cy="335.6" r="1.2"/><circle cx="241.2" cy="335.6" r="1.2"/><circle cx="243.2" cy="335.6" r="1.2"/><circle cx="244.5" cy="335.6" r="1.2"/><circle cx="238.5" cy="342.1" r="1.2"/><circle cx="240.5" cy="343.5" r="1.2"/><circle cx="245.1" cy="344.6" r="1.2"/><circle cx="234.3" cy="345.8" r="1.2"/><circle cx="235.8" cy="345.4" r="1.2"/><circle cx="230.1" cy="349.2" r="1.2"/><circle cx="232" cy="349.8" r="1.2"/><circle cx="233.9" cy="349.5" r="1.2"/><circle cx="238.5" cy="349.6" r="1.2"/><circle cx="227.8" cy="351.3" r="1.2"/><circle cx="229.7" cy="351" r="1.2"/><circle cx="236.2" cy="351.8" r="1.2"/><circle cx="240.5" cy="351.5" r="1.2"/><circle cx="242.4" cy="351.3" r="1.2"/><circle cx="244.3" cy="351.2" r="1.2"/><circle cx="245.8" cy="351.3" r="1.2"/><circle cx="247.8" cy="351.2" r="1.2"/><circle cx="249.7" cy="351.3" r="1.2"/><circle cx="251.6" cy="351.3" r="1.2"/><circle cx="253.5" cy="351.3" r="1.2"/><circle cx="245.1" cy="348.1" r="1.2"/></g>
<path d="M240.8 345.2V347.4M234.3 345.2H247.3M234.3 347.4H247.3" stroke="#12306e" stroke-width="1" fill="none"/>
<g fill="#a3102a"><rect x="290.05" y="353.05" width="2.3" height="2.3"/><rect x="286.35" y="358.45" width="2.3" height="2.3"/><rect x="290.05" y="358.55" width="2.3" height="2.3"/><rect x="293.75" y="358.85" width="2.3" height="2.3"/><rect x="281.05" y="362.15" width="2.3" height="2.3"/><rect x="284.65" y="363.05" width="2.3" height="2.3"/><rect x="284.65" y="365.15" width="2.3" height="2.3"/><rect x="288.25" y="362.05" width="2.3" height="2.3"/><rect x="291.85" y="361.85" width="2.3" height="2.3"/><rect x="295.75" y="363.05" width="2.3" height="2.3"/><rect x="299.15" y="362.75" width="2.3" height="2.3"/><rect x="281.05" y="365.85" width="2.3" height="2.3"/><rect x="277.35" y="366.95" width="2.3" height="2.3"/><rect x="277.35" y="370.35" width="2.3" height="2.3"/><rect x="281.05" y="369.05" width="2.3" height="2.3"/><rect x="284.65" y="369.65" width="2.3" height="2.3"/><rect x="288.25" y="369.25" width="2.3" height="2.3"/><rect x="291.85" y="365.45" width="2.3" height="2.3"/><rect x="291.85" y="367.55" width="2.3" height="2.3"/><rect x="291.85" y="371.05" width="2.3" height="2.3"/><rect x="295.75" y="369.65" width="2.3" height="2.3"/><rect x="299.15" y="366.15" width="2.3" height="2.3"/><rect x="299.15" y="370.85" width="2.3" height="2.3"/><rect x="302.75" y="369.65" width="2.3" height="2.3"/></g>
<path d="M292.3 364.9V366.6M287.1 364.9H297.5M287.1 366.6H297.5" stroke="#a3102a" stroke-width="1" fill="none"/>
<line x1="363.1" y1="295.4" x2="363.1" y2="396.8" stroke="#1a1a1a" stroke-width="1.1" />
<line x1="362.6" y1="396.3" x2="463.2" y2="396.3" stroke="#1a1a1a" stroke-width="1.1" />
<line x1="360.3" y1="297.7" x2="363.1" y2="297.7" stroke="#1a1a1a" stroke-width="1" />
<text x="357.2" y="300.6" font-size="8.1" text-anchor="end" font-weight="normal" font-style="normal" fill="#111" >60</text>
<line x1="360.3" y1="330.5" x2="363.1" y2="330.5" stroke="#1a1a1a" stroke-width="1" />
<text x="357.2" y="333.4" font-size="8.1" text-anchor="end" font-weight="normal" font-style="normal" fill="#111" >40</text>
<line x1="360.3" y1="363.3" x2="363.1" y2="363.3" stroke="#1a1a1a" stroke-width="1" />
<text x="357.2" y="366.2" font-size="8.1" text-anchor="end" font-weight="normal" font-style="normal" fill="#111" >20</text>
<line x1="360.3" y1="396.1" x2="363.1" y2="396.1" stroke="#1a1a1a" stroke-width="1" />
<text x="357.2" y="399" font-size="8.1" text-anchor="end" font-weight="normal" font-style="normal" fill="#111" >0</text>
<line x1="385.4" y1="396.3" x2="385.4" y2="398.9" stroke="#1a1a1a" stroke-width="1" />
<line x1="435.7" y1="396.3" x2="435.7" y2="398.9" stroke="#1a1a1a" stroke-width="1" />
<rect x="370.1" y="360.8" width="29.9" height="35" fill="#c6c8dc" />
<rect x="421.3" y="340.6" width="29.7" height="55.2" fill="#e5c8be" />
<text transform="translate(343,346.4) rotate(-90)" x="0" y="0" font-size="8.8" text-anchor="middle" font-weight="normal" fill="#111" textLength="81.7" lengthAdjust="spacingAndGlyphs" stroke="#111" stroke-width="0.3">% CD41<tspan dy="-2.5" font-size="5.5">+</tspan><tspan dy="2.5"> SYTO13</tspan><tspan dy="-2.5" font-size="5.5">+</tspan><tspan dy="2.5"> platelets</tspan></text>
<text x="366.8" y="409.6" font-size="8.2" font-style="italic" textLength="28.5" lengthAdjust="spacingAndGlyphs" fill="#111">SLFN14</text>
<text x="395.6" y="406.4" font-size="5.9" font-style="italic" textLength="8.4" lengthAdjust="spacingAndGlyphs" fill="#111">+/+</text>
<text x="409.8" y="409.6" font-size="8.2" font-style="italic" textLength="28.5" lengthAdjust="spacingAndGlyphs" fill="#111">SLFN14</text>
<text x="438.6" y="406.4" font-size="5.9" font-style="italic" textLength="23.1" lengthAdjust="spacingAndGlyphs" fill="#111">K208N/+</text>
<text x="436" y="299" font-size="7.4" text-anchor="middle" font-weight="normal" font-style="normal" fill="#000" >***</text>
<path d="M385.2 356.8V362.2M378.2 356.8H392.2M378.2 362.2H392.2" stroke="#12306e" stroke-width="1" fill="none"/>
<g fill="#12306e"><circle cx="381.7" cy="334.3" r="1.72"/><circle cx="388.6" cy="333.3" r="1.72"/><circle cx="385.2" cy="345.7" r="1.72"/><circle cx="381.7" cy="351.3" r="1.72"/><circle cx="374.8" cy="355" r="1.72"/><circle cx="374.8" cy="359" r="1.72"/><circle cx="374.8" cy="363" r="1.72"/><circle cx="374.8" cy="366.9" r="1.72"/><circle cx="374.8" cy="371.2" r="1.72"/><circle cx="381.7" cy="357.4" r="1.72"/><circle cx="381.7" cy="364.8" r="1.72"/><circle cx="381.7" cy="372.2" r="1.72"/><circle cx="381.7" cy="378.9" r="1.72"/><circle cx="388.6" cy="357.4" r="1.72"/><circle cx="388.6" cy="362.2" r="1.72"/><circle cx="388.6" cy="369.8" r="1.72"/><circle cx="388.6" cy="376.3" r="1.72"/><circle cx="395.5" cy="354.7" r="1.72"/><circle cx="395.5" cy="358.8" r="1.72"/><circle cx="395.5" cy="364.8" r="1.72"/></g>
<path d="M435.7 335.5V344.4M428.7 335.5H442.7M428.7 344.4H442.7" stroke="#a3102a" stroke-width="1" fill="none"/>
<g fill="#a3102a"><rect x="433.93" y="310.53" width="3.55" height="3.55"/><rect x="433.93" y="319.43" width="3.55" height="3.55"/><rect x="430.53" y="324.62" width="3.55" height="3.55"/><rect x="437.53" y="325.33" width="3.55" height="3.55"/><rect x="427.03" y="332.03" width="3.55" height="3.55"/><rect x="433.93" y="333.73" width="3.55" height="3.55"/><rect x="441.12" y="332.03" width="3.55" height="3.55"/><rect x="437.53" y="343.73" width="3.55" height="3.55"/><rect x="430.53" y="345.23" width="3.55" height="3.55"/><rect x="433.93" y="349.43" width="3.55" height="3.55"/><rect x="427.03" y="360.03" width="3.55" height="3.55"/><rect x="433.93" y="358.53" width="3.55" height="3.55"/><rect x="441.12" y="360.03" width="3.55" height="3.55"/></g>
<line x1="363.1" y1="443.8" x2="363.1" y2="543.6" stroke="#1a1a1a" stroke-width="1.1" />
<line x1="362.6" y1="543.1" x2="463.2" y2="543.1" stroke="#1a1a1a" stroke-width="1.1" />
<line x1="360.3" y1="446.2" x2="363.1" y2="446.2" stroke="#1a1a1a" stroke-width="1" />
<text x="356.7" y="449.1" font-size="8.1" text-anchor="end" font-weight="normal" font-style="normal" fill="#111" >16</text>
<line x1="360.3" y1="470.4" x2="363.1" y2="470.4" stroke="#1a1a1a" stroke-width="1" />
<text x="356.7" y="473.3" font-size="8.1" text-anchor="end" font-weight="normal" font-style="normal" fill="#111" >12</text>
<line x1="360.3" y1="494.6" x2="363.1" y2="494.6" stroke="#1a1a1a" stroke-width="1" />
<text x="356.7" y="497.5" font-size="8.1" text-anchor="end" font-weight="normal" font-style="normal" fill="#111" >8</text>
<line x1="360.3" y1="518.8" x2="363.1" y2="518.8" stroke="#1a1a1a" stroke-width="1" />
<text x="356.7" y="521.7" font-size="8.1" text-anchor="end" font-weight="normal" font-style="normal" fill="#111" >4</text>
<line x1="360.3" y1="543" x2="363.1" y2="543" stroke="#1a1a1a" stroke-width="1" />
<text x="356.7" y="545.9" font-size="8.1" text-anchor="end" font-weight="normal" font-style="normal" fill="#111" >0</text>
<line x1="385.4" y1="543.1" x2="385.4" y2="545.7" stroke="#1a1a1a" stroke-width="1" />
<line x1="435.7" y1="543.1" x2="435.7" y2="545.7" stroke="#1a1a1a" stroke-width="1" />
<rect x="369.1" y="466.4" width="32" height="76.2" fill="#c6c8dc" />
<rect x="420.3" y="491" width="31.7" height="51.6" fill="#e5c8be" />
<text transform="translate(342.8,493.5) rotate(-90)" x="0" y="0" font-size="8.8" text-anchor="middle" font-weight="normal" fill="#111" textLength="31.1" lengthAdjust="spacingAndGlyphs" stroke="#111" stroke-width="0.3">HGB (g/dl)</text>
<text x="366.8" y="556.7" font-size="8.2" font-style="italic" textLength="28.5" lengthAdjust="spacingAndGlyphs" fill="#111">SLFN14</text>
<text x="395.6" y="553.5" font-size="5.9" font-style="italic" textLength="8.4" lengthAdjust="spacingAndGlyphs" fill="#111">+/+</text>
<text x="409.8" y="556.7" font-size="8.2" font-style="italic" textLength="28.5" lengthAdjust="spacingAndGlyphs" fill="#111">SLFN14</text>
<text x="438.6" y="553.5" font-size="5.9" font-style="italic" textLength="23.1" lengthAdjust="spacingAndGlyphs" fill="#111">K208N/+</text>
<text x="435.8" y="458.8" font-size="7.4" text-anchor="middle" font-weight="normal" font-style="normal" fill="#000" >****</text>
<g fill="#12306e"><circle cx="370.2" cy="458.5" r="1.15"/><circle cx="370.2" cy="463.6" r="1.15"/><circle cx="374.3" cy="463.1" r="1.15"/><circle cx="374.3" cy="469.2" r="1.15"/><circle cx="378.5" cy="460.8" r="1.15"/><circle cx="378.5" cy="462.7" r="1.15"/><circle cx="378.5" cy="464.2" r="1.15"/><circle cx="378.5" cy="467.7" r="1.15"/><circle cx="382.9" cy="462.7" r="1.15"/><circle cx="382.9" cy="466.5" r="1.15"/><circle cx="382.9" cy="469.6" r="1.15"/><circle cx="385.1" cy="473.8" r="1.15"/><circle cx="385.1" cy="485.6" r="1.15"/><circle cx="387.2" cy="461" r="1.15"/><circle cx="387.2" cy="465" r="1.15"/><circle cx="387.2" cy="469.6" r="1.15"/><circle cx="391.5" cy="460.2" r="1.15"/><circle cx="391.5" cy="463.5" r="1.15"/><circle cx="391.5" cy="467.7" r="1.15"/><circle cx="391.5" cy="468.7" r="1.15"/><circle cx="396" cy="458.5" r="1.15"/><circle cx="396" cy="462" r="1.15"/><circle cx="396" cy="467.7" r="1.15"/><circle cx="400.2" cy="460" r="1.15"/><circle cx="400.2" cy="463.1" r="1.15"/></g>
<path d="M385.2 464.6V466.5M378.2 464.6H392.2M378.2 466.5H392.2" stroke="#12306e" stroke-width="1" fill="none"/>
<g fill="#a3102a"><rect x="433.45" y="479.35" width="2.1" height="2.1"/><rect x="435.75" y="481.65" width="2.1" height="2.1"/><rect x="433.45" y="483.55" width="2.1" height="2.1"/><rect x="440.35" y="483.05" width="2.1" height="2.1"/><rect x="442.65" y="483.75" width="2.1" height="2.1"/><rect x="444.95" y="483.75" width="2.1" height="2.1"/><rect x="447.25" y="483.95" width="2.1" height="2.1"/><rect x="419.15" y="487.55" width="2.1" height="2.1"/><rect x="421.15" y="487.25" width="2.1" height="2.1"/><rect x="423.45" y="486.95" width="2.1" height="2.1"/><rect x="425.75" y="486.65" width="2.1" height="2.1"/><rect x="427.65" y="486.45" width="2.1" height="2.1"/><rect x="430.35" y="486.25" width="2.1" height="2.1"/><rect x="432.65" y="485.85" width="2.1" height="2.1"/><rect x="434.15" y="486.65" width="2.1" height="2.1"/><rect x="437.25" y="487.45" width="2.1" height="2.1"/><rect x="439.55" y="487.75" width="2.1" height="2.1"/><rect x="441.85" y="487.05" width="2.1" height="2.1"/><rect x="444.15" y="486.65" width="2.1" height="2.1"/><rect x="446.45" y="486.25" width="2.1" height="2.1"/><rect x="448.75" y="487.75" width="2.1" height="2.1"/><rect x="450.35" y="488.95" width="2.1" height="2.1"/><rect x="426.45" y="490.45" width="2.1" height="2.1"/><rect x="435.75" y="492.05" width="2.1" height="2.1"/><rect x="439.55" y="491.45" width="2.1" height="2.1"/><rect x="442.65" y="490.45" width="2.1" height="2.1"/><rect x="447.25" y="489.75" width="2.1" height="2.1"/><rect x="430.35" y="489.35" width="2.1" height="2.1"/><rect x="433.45" y="488.95" width="2.1" height="2.1"/><rect x="435.75" y="489.75" width="2.1" height="2.1"/><rect x="438.05" y="489.35" width="2.1" height="2.1"/><rect x="422.95" y="489.55" width="2.1" height="2.1"/></g>
<svg x="14.4" y="450.6" width="143.9" height="91.1" viewBox="0 0 143.9 91.1" overflow="hidden">
<rect width="143.9" height="91.1" fill="#bbb5b9"/>
<g fill="#bc9fb8" stroke="#7e5f84" stroke-width="0.6" filter="url(#bls)"><ellipse cx="10.7" cy="20.5" rx="2.89" ry="2.90"/><ellipse cx="84.1" cy="7.0" rx="2.71" ry="2.73"/><ellipse cx="68.9" cy="13.2" rx="2.88" ry="2.86"/><ellipse cx="14.8" cy="35.2" rx="2.52" ry="2.93"/><ellipse cx="61.7" cy="53.8" rx="2.61" ry="2.88"/><ellipse cx="139.4" cy="25.0" rx="2.64" ry="2.83"/><ellipse cx="101.0" cy="25.8" rx="2.47" ry="2.82"/><ellipse cx="129.9" cy="53.6" rx="2.62" ry="2.95"/><ellipse cx="112.4" cy="0.9" rx="2.62" ry="3.01"/><ellipse cx="53.4" cy="6.6" rx="2.74" ry="3.18"/><ellipse cx="135.8" cy="17.7" rx="2.69" ry="3.19"/><ellipse cx="42.1" cy="68.5" rx="2.68" ry="3.08"/><ellipse cx="30.3" cy="76.9" rx="2.77" ry="2.85"/><ellipse cx="99.0" cy="76.0" rx="2.72" ry="3.04"/><ellipse cx="110.2" cy="81.5" rx="2.36" ry="2.83"/><ellipse cx="123.7" cy="35.5" rx="2.60" ry="2.81"/><ellipse cx="19.6" cy="64.4" rx="2.46" ry="2.72"/><ellipse cx="126.8" cy="24.2" rx="2.80" ry="3.09"/><ellipse cx="57.1" cy="56.3" rx="2.59" ry="2.69"/><ellipse cx="24.7" cy="69.0" rx="2.81" ry="2.95"/><ellipse cx="81.9" cy="85.6" rx="2.52" ry="2.64"/><ellipse cx="123.8" cy="14.1" rx="2.95" ry="3.07"/><ellipse cx="90.2" cy="55.7" rx="2.88" ry="2.98"/><ellipse cx="114.4" cy="73.1" rx="2.37" ry="2.85"/><ellipse cx="41.9" cy="44.9" rx="2.83" ry="3.13"/><ellipse cx="140.8" cy="65.3" rx="2.49" ry="2.87"/><ellipse cx="78.6" cy="65.1" rx="2.59" ry="2.87"/><ellipse cx="98.6" cy="33.0" rx="2.76" ry="2.96"/><ellipse cx="97.0" cy="61.6" rx="2.62" ry="3.11"/><ellipse cx="80.0" cy="16.8" rx="2.55" ry="2.95"/><ellipse cx="16.5" cy="43.7" rx="2.55" ry="2.93"/><ellipse cx="112.5" cy="35.4" rx="2.37" ry="2.88"/><ellipse cx="76.1" cy="17.5" rx="2.86" ry="2.99"/><ellipse cx="55.5" cy="34.2" rx="2.89" ry="3.24"/><ellipse cx="69.1" cy="6.9" rx="2.78" ry="3.05"/><ellipse cx="134.3" cy="51.5" rx="2.63" ry="3.10"/><ellipse cx="138.1" cy="78.1" rx="2.64" ry="3.03"/><ellipse cx="118.3" cy="76.0" rx="2.40" ry="2.65"/><ellipse cx="69.3" cy="30.6" rx="2.68" ry="2.83"/><ellipse cx="82.5" cy="28.2" rx="2.67" ry="3.04"/><ellipse cx="55.7" cy="65.2" rx="2.33" ry="2.82"/><ellipse cx="23.0" cy="46.7" rx="2.67" ry="2.73"/><ellipse cx="96.4" cy="29.7" rx="2.62" ry="2.82"/><ellipse cx="39.4" cy="30.3" rx="2.53" ry="2.75"/><ellipse cx="77.3" cy="87.1" rx="2.35" ry="2.67"/><ellipse cx="59.4" cy="61.5" rx="2.67" ry="3.22"/><ellipse cx="145.9" cy="11.7" rx="2.69" ry="3.13"/><ellipse cx="128.3" cy="3.0" rx="2.56" ry="3.09"/><ellipse cx="77.6" cy="-1.1" rx="2.52" ry="2.74"/><ellipse cx="59.5" cy="78.6" rx="2.60" ry="2.71"/><ellipse cx="111.2" cy="45.1" rx="2.82" ry="2.96"/><ellipse cx="74.4" cy="13.2" rx="2.62" ry="2.98"/><ellipse cx="-1.8" cy="30.4" rx="2.64" ry="3.24"/><ellipse cx="99.5" cy="51.3" rx="2.56" ry="3.17"/><ellipse cx="127.6" cy="63.0" rx="2.81" ry="3.08"/><ellipse cx="81.2" cy="61.4" rx="2.55" ry="2.98"/><ellipse cx="97.0" cy="56.5" rx="2.79" ry="3.26"/><ellipse cx="69.0" cy="0.6" rx="2.71" ry="2.81"/><ellipse cx="124.9" cy="58.9" rx="2.70" ry="2.83"/><ellipse cx="9.5" cy="80.4" rx="2.78" ry="2.94"/><ellipse cx="140.3" cy="10.9" rx="2.48" ry="2.89"/><ellipse cx="130.2" cy="36.1" rx="2.39" ry="2.79"/><ellipse cx="54.5" cy="60.7" rx="2.37" ry="2.73"/><ellipse cx="70.1" cy="60.8" rx="2.67" ry="2.84"/><ellipse cx="-0.2" cy="75.1" rx="2.55" ry="2.98"/><ellipse cx="129.1" cy="18.2" rx="2.64" ry="2.81"/><ellipse cx="22.9" cy="56.6" rx="2.75" ry="2.91"/><ellipse cx="128.5" cy="10.8" rx="2.56" ry="2.96"/><ellipse cx="103.5" cy="68.2" rx="2.50" ry="2.94"/><ellipse cx="92.5" cy="61.6" rx="2.45" ry="2.98"/><ellipse cx="94.4" cy="52.9" rx="2.82" ry="3.16"/><ellipse cx="73.7" cy="30.0" rx="2.69" ry="2.95"/><ellipse cx="33.0" cy="23.3" rx="2.64" ry="2.67"/><ellipse cx="86.8" cy="44.1" rx="2.59" ry="3.01"/><ellipse cx="29.0" cy="81.5" rx="2.78" ry="2.91"/><ellipse cx="71.8" cy="56.0" rx="2.67" ry="2.87"/><ellipse cx="132.4" cy="0.0" rx="2.71" ry="3.11"/><ellipse cx="46.3" cy="10.9" rx="2.52" ry="2.62"/><ellipse cx="115.6" cy="89.2" rx="2.59" ry="2.91"/><ellipse cx="54.7" cy="46.5" rx="2.62" ry="2.89"/><ellipse cx="108.4" cy="4.1" rx="2.59" ry="2.64"/><ellipse cx="126.3" cy="44.9" rx="2.62" ry="3.05"/><ellipse cx="113.0" cy="58.5" rx="2.82" ry="2.94"/><ellipse cx="144.9" cy="-1.0" rx="2.56" ry="3.19"/><ellipse cx="57.0" cy="29.4" rx="2.67" ry="3.03"/><ellipse cx="61.2" cy="87.6" rx="2.54" ry="2.85"/><ellipse cx="137.6" cy="2.4" rx="2.64" ry="2.97"/><ellipse cx="47.3" cy="67.1" rx="2.57" ry="2.66"/><ellipse cx="64.2" cy="62.5" rx="2.72" ry="3.08"/><ellipse cx="117.3" cy="12.6" rx="2.60" ry="2.73"/><ellipse cx="88.8" cy="0.7" rx="2.78" ry="3.07"/><ellipse cx="59.6" cy="21.4" rx="2.46" ry="2.80"/><ellipse cx="94.3" cy="2.5" rx="2.56" ry="2.66"/><ellipse cx="42.9" cy="22.6" rx="2.68" ry="2.92"/><ellipse cx="85.6" cy="84.0" rx="2.71" ry="2.89"/><ellipse cx="33.9" cy="55.5" rx="2.69" ry="3.02"/><ellipse cx="139.8" cy="6.1" rx="2.36" ry="2.67"/><ellipse cx="91.7" cy="70.3" rx="2.49" ry="2.80"/><ellipse cx="140.3" cy="89.1" rx="2.74" ry="2.95"/><ellipse cx="67.4" cy="23.9" rx="2.69" ry="3.17"/><ellipse cx="28.3" cy="48.8" rx="2.95" ry="3.12"/><ellipse cx="72.9" cy="76.7" rx="2.51" ry="2.97"/><ellipse cx="10.8" cy="73.4" rx="2.41" ry="2.86"/><ellipse cx="6.3" cy="87.9" rx="2.63" ry="2.93"/><ellipse cx="52.8" cy="16.3" rx="2.70" ry="3.10"/><ellipse cx="75.7" cy="91.0" rx="2.60" ry="2.84"/><ellipse cx="10.4" cy="5.1" rx="2.53" ry="2.81"/><ellipse cx="106.4" cy="57.7" rx="2.86" ry="3.16"/><ellipse cx="53.1" cy="23.4" rx="2.86" ry="3.14"/><ellipse cx="19.9" cy="17.8" rx="2.74" ry="3.01"/><ellipse cx="85.5" cy="62.5" rx="2.82" ry="3.04"/><ellipse cx="64.7" cy="17.7" rx="2.58" ry="2.65"/><ellipse cx="24.9" cy="79.6" rx="2.56" ry="2.98"/><ellipse cx="5.6" cy="34.1" rx="2.48" ry="2.84"/><ellipse cx="53.4" cy="74.4" rx="2.78" ry="2.97"/><ellipse cx="88.6" cy="26.8" rx="2.71" ry="2.88"/><ellipse cx="3.8" cy="15.8" rx="2.70" ry="3.24"/><ellipse cx="4.8" cy="10.6" rx="2.49" ry="3.11"/><ellipse cx="103.0" cy="54.0" rx="2.57" ry="2.85"/><ellipse cx="38.6" cy="65.2" rx="2.46" ry="3.01"/><ellipse cx="26.7" cy="-1.8" rx="2.70" ry="2.77"/><ellipse cx="132.5" cy="64.6" rx="2.43" ry="2.72"/><ellipse cx="93.9" cy="9.4" rx="2.55" ry="2.84"/><ellipse cx="36.9" cy="81.3" rx="2.62" ry="2.98"/><ellipse cx="142.9" cy="33.1" rx="2.60" ry="3.05"/><ellipse cx="22.0" cy="8.3" rx="2.89" ry="2.83"/><ellipse cx="6.9" cy="55.2" rx="2.62" ry="2.92"/><ellipse cx="96.9" cy="69.7" rx="2.97" ry="3.13"/><ellipse cx="102.4" cy="72.9" rx="2.45" ry="2.68"/><ellipse cx="46.0" cy="3.3" rx="2.47" ry="2.74"/><ellipse cx="106.5" cy="87.1" rx="2.73" ry="3.11"/><ellipse cx="35.4" cy="74.6" rx="2.44" ry="2.74"/><ellipse cx="7.8" cy="93.0" rx="2.49" ry="2.63"/><ellipse cx="114.7" cy="5.1" rx="2.57" ry="2.83"/><ellipse cx="140.9" cy="47.1" rx="2.70" ry="3.23"/><ellipse cx="122.9" cy="27.2" rx="2.89" ry="3.16"/><ellipse cx="76.4" cy="72.6" rx="2.61" ry="3.04"/><ellipse cx="119.5" cy="53.8" rx="2.71" ry="3.08"/><ellipse cx="30.1" cy="8.1" rx="2.71" ry="2.97"/><ellipse cx="127.5" cy="77.3" rx="2.68" ry="2.84"/><ellipse cx="108.3" cy="12.0" rx="2.93" ry="3.20"/><ellipse cx="103.1" cy="48.5" rx="2.70" ry="3.03"/><ellipse cx="32.0" cy="45.5" rx="2.62" ry="2.59"/><ellipse cx="39.3" cy="25.1" rx="2.64" ry="2.72"/><ellipse cx="59.5" cy="4.0" rx="2.45" ry="2.72"/><ellipse cx="47.2" cy="92.3" rx="2.66" ry="2.99"/><ellipse cx="66.4" cy="79.0" rx="2.77" ry="2.99"/><ellipse cx="61.3" cy="49.5" rx="2.40" ry="2.60"/><ellipse cx="71.7" cy="26.5" rx="2.42" ry="2.77"/><ellipse cx="70.0" cy="52.0" rx="2.33" ry="2.60"/><ellipse cx="40.5" cy="13.3" rx="2.86" ry="2.84"/><ellipse cx="18.1" cy="-0.3" rx="2.45" ry="2.83"/><ellipse cx="96.9" cy="88.0" rx="2.69" ry="3.01"/><ellipse cx="18.2" cy="54.8" rx="2.47" ry="2.71"/><ellipse cx="119.0" cy="28.7" rx="2.45" ry="2.60"/><ellipse cx="20.1" cy="76.8" rx="2.86" ry="3.26"/><ellipse cx="25.3" cy="92.9" rx="2.94" ry="3.00"/><ellipse cx="134.4" cy="40.7" rx="2.70" ry="2.94"/><ellipse cx="35.8" cy="46.3" rx="2.71" ry="3.03"/><ellipse cx="47.0" cy="27.0" rx="2.38" ry="2.66"/><ellipse cx="59.3" cy="91.2" rx="2.96" ry="3.18"/><ellipse cx="137.1" cy="59.7" rx="2.69" ry="3.08"/><ellipse cx="68.6" cy="47.8" rx="2.45" ry="2.84"/><ellipse cx="52.7" cy="85.9" rx="2.59" ry="2.89"/><ellipse cx="87.3" cy="48.6" rx="2.64" ry="2.93"/><ellipse cx="72.8" cy="5.1" rx="2.53" ry="2.84"/><ellipse cx="93.3" cy="18.2" rx="2.46" ry="2.91"/><ellipse cx="104.4" cy="10.5" rx="2.65" ry="2.94"/><ellipse cx="92.1" cy="87.6" rx="2.84" ry="3.05"/><ellipse cx="51.3" cy="71.0" rx="2.58" ry="2.94"/><ellipse cx="45.3" cy="81.4" rx="2.81" ry="2.95"/><ellipse cx="43.8" cy="61.6" rx="2.83" ry="3.01"/><ellipse cx="91.2" cy="80.9" rx="2.63" ry="2.67"/><ellipse cx="103.1" cy="-1.4" rx="2.87" ry="3.24"/><ellipse cx="59.3" cy="68.4" rx="2.84" ry="3.13"/><ellipse cx="1.9" cy="81.9" rx="2.60" ry="2.61"/><ellipse cx="20.9" cy="41.4" rx="2.49" ry="3.01"/><ellipse cx="110.6" cy="89.6" rx="2.60" ry="2.84"/><ellipse cx="40.3" cy="52.9" rx="2.60" ry="2.92"/><ellipse cx="8.6" cy="26.5" rx="2.35" ry="2.88"/><ellipse cx="71.3" cy="34.2" rx="2.35" ry="2.89"/><ellipse cx="76.4" cy="60.7" rx="2.42" ry="2.74"/><ellipse cx="121.4" cy="7.7" rx="2.45" ry="2.60"/><ellipse cx="136.2" cy="46.6" rx="2.59" ry="3.27"/><ellipse cx="93.8" cy="46.9" rx="2.78" ry="3.00"/><ellipse cx="107.2" cy="37.7" rx="2.83" ry="2.93"/><ellipse cx="78.4" cy="52.1" rx="2.54" ry="2.91"/><ellipse cx="41.2" cy="38.1" rx="2.56" ry="2.96"/><ellipse cx="67.6" cy="37.3" rx="2.46" ry="2.72"/><ellipse cx="127.3" cy="90.2" rx="2.51" ry="2.83"/><ellipse cx="12.0" cy="84.4" rx="2.55" ry="2.79"/><ellipse cx="60.5" cy="34.2" rx="2.67" ry="3.06"/><ellipse cx="123.6" cy="18.8" rx="2.73" ry="3.33"/><ellipse cx="64.2" cy="70.0" rx="2.67" ry="3.15"/><ellipse cx="6.7" cy="70.6" rx="2.59" ry="2.93"/><ellipse cx="30.6" cy="31.1" rx="2.64" ry="2.73"/><ellipse cx="51.4" cy="-0.5" rx="2.90" ry="3.27"/><ellipse cx="18.2" cy="30.2" rx="2.47" ry="2.81"/><ellipse cx="81.4" cy="80.6" rx="2.72" ry="2.93"/><ellipse cx="20.9" cy="86.6" rx="2.70" ry="3.01"/><ellipse cx="107.1" cy="52.8" rx="2.89" ry="3.31"/><ellipse cx="70.5" cy="40.7" rx="2.34" ry="2.84"/><ellipse cx="70.1" cy="69.7" rx="2.51" ry="2.67"/><ellipse cx="102.7" cy="37.0" rx="2.84" ry="3.01"/><ellipse cx="90.2" cy="34.8" rx="2.48" ry="2.76"/><ellipse cx="120.7" cy="62.0" rx="2.78" ry="3.22"/><ellipse cx="76.5" cy="82.1" rx="2.67" ry="3.14"/><ellipse cx="16.3" cy="70.9" rx="2.56" ry="2.85"/><ellipse cx="24.5" cy="30.1" rx="2.84" ry="2.97"/><ellipse cx="17.9" cy="26.0" rx="2.78" ry="3.08"/><ellipse cx="87.0" cy="37.6" rx="2.57" ry="2.99"/><ellipse cx="34.5" cy="7.1" rx="2.66" ry="3.10"/><ellipse cx="136.9" cy="71.9" rx="2.88" ry="3.15"/><ellipse cx="0.9" cy="4.5" rx="2.51" ry="2.91"/><ellipse cx="86.1" cy="78.5" rx="2.57" ry="3.14"/><ellipse cx="24.6" cy="5.1" rx="2.51" ry="2.63"/><ellipse cx="85.8" cy="57.1" rx="2.88" ry="3.20"/><ellipse cx="133.0" cy="88.2" rx="2.76" ry="3.11"/><ellipse cx="35.1" cy="33.6" rx="2.63" ry="2.80"/><ellipse cx="10.6" cy="41.6" rx="2.65" ry="2.91"/><ellipse cx="47.0" cy="54.0" rx="2.50" ry="3.02"/><ellipse cx="142.1" cy="54.9" rx="2.58" ry="3.06"/><ellipse cx="127.8" cy="40.8" rx="2.81" ry="2.95"/><ellipse cx="65.3" cy="87.6" rx="2.55" ry="2.87"/><ellipse cx="78.1" cy="41.0" rx="2.75" ry="2.86"/><ellipse cx="12.7" cy="52.5" rx="2.84" ry="2.96"/><ellipse cx="80.3" cy="89.5" rx="2.41" ry="3.00"/><ellipse cx="144.7" cy="18.2" rx="2.86" ry="3.23"/><ellipse cx="47.6" cy="77.4" rx="2.33" ry="2.68"/><ellipse cx="44.2" cy="85.9" rx="2.63" ry="2.99"/><ellipse cx="26.9" cy="16.2" rx="2.35" ry="2.77"/><ellipse cx="110.9" cy="70.9" rx="2.62" ry="2.99"/><ellipse cx="142.8" cy="27.2" rx="2.61" ry="2.80"/><ellipse cx="145.2" cy="79.9" rx="2.45" ry="2.72"/><ellipse cx="118.0" cy="16.9" rx="2.64" ry="2.98"/><ellipse cx="1.5" cy="22.4" rx="2.75" ry="3.18"/><ellipse cx="27.6" cy="58.6" rx="2.53" ry="2.78"/><ellipse cx="89.0" cy="21.6" rx="2.76" ry="2.85"/><ellipse cx="111.2" cy="22.1" rx="2.81" ry="3.18"/><ellipse cx="41.3" cy="58.1" rx="2.56" ry="2.88"/><ellipse cx="96.9" cy="12.1" rx="2.47" ry="2.66"/><ellipse cx="33.3" cy="41.1" rx="2.53" ry="3.01"/><ellipse cx="134.7" cy="25.0" rx="2.49" ry="2.94"/><ellipse cx="133.0" cy="81.7" rx="2.39" ry="2.83"/><ellipse cx="122.3" cy="87.3" rx="2.86" ry="2.92"/><ellipse cx="9.8" cy="10.5" rx="2.60" ry="2.82"/><ellipse cx="103.9" cy="5.9" rx="2.58" ry="2.89"/><ellipse cx="24.3" cy="83.7" rx="2.50" ry="2.71"/><ellipse cx="27.4" cy="22.1" rx="2.79" ry="3.00"/><ellipse cx="-0.9" cy="38.7" rx="2.68" ry="2.75"/><ellipse cx="76.7" cy="35.5" rx="2.56" ry="2.85"/><ellipse cx="13.1" cy="26.2" rx="2.68" ry="2.96"/><ellipse cx="54.9" cy="80.6" rx="2.38" ry="2.90"/><ellipse cx="74.0" cy="9.3" rx="2.39" ry="2.66"/><ellipse cx="65.4" cy="-1.9" rx="2.93" ry="3.31"/><ellipse cx="34.5" cy="88.1" rx="2.54" ry="2.68"/><ellipse cx="17.2" cy="3.9" rx="2.53" ry="2.94"/><ellipse cx="15.5" cy="64.4" rx="2.70" ry="2.76"/><ellipse cx="25.4" cy="34.1" rx="2.88" ry="3.19"/><ellipse cx="140.5" cy="39.7" rx="2.79" ry="3.11"/><ellipse cx="101.3" cy="30.3" rx="2.51" ry="2.73"/><ellipse cx="50.3" cy="50.6" rx="2.55" ry="2.95"/><ellipse cx="117.9" cy="0.3" rx="2.53" ry="2.95"/><ellipse cx="71.2" cy="21.4" rx="2.42" ry="2.77"/><ellipse cx="124.4" cy="51.0" rx="2.57" ry="2.88"/><ellipse cx="-1.3" cy="54.5" rx="2.64" ry="2.93"/><ellipse cx="100.5" cy="44.8" rx="2.40" ry="2.66"/><ellipse cx="1.9" cy="-1.9" rx="2.88" ry="3.09"/><ellipse cx="85.7" cy="69.4" rx="2.42" ry="2.74"/><ellipse cx="81.3" cy="12.2" rx="2.59" ry="2.83"/><ellipse cx="65.5" cy="40.8" rx="2.40" ry="2.58"/><ellipse cx="116.5" cy="33.7" rx="2.63" ry="2.92"/><ellipse cx="144.9" cy="88.2" rx="2.59" ry="3.15"/><ellipse cx="23.4" cy="25.4" rx="2.76" ry="3.07"/><ellipse cx="116.5" cy="82.7" rx="2.81" ry="3.24"/><ellipse cx="113.2" cy="41.3" rx="2.79" ry="3.00"/><ellipse cx="36.0" cy="51.0" rx="2.56" ry="2.80"/><ellipse cx="95.1" cy="38.7" rx="2.54" ry="2.71"/><ellipse cx="122.8" cy="-2.0" rx="2.66" ry="3.23"/><ellipse cx="104.1" cy="18.9" rx="2.57" ry="2.94"/><ellipse cx="16.9" cy="80.7" rx="2.62" ry="2.86"/><ellipse cx="65.6" cy="10.5" rx="2.54" ry="2.65"/><ellipse cx="24.9" cy="51.3" rx="2.39" ry="2.66"/><ellipse cx="44.5" cy="6.8" rx="2.38" ry="2.65"/><ellipse cx="50.6" cy="57.0" rx="2.49" ry="2.77"/><ellipse cx="33.0" cy="12.6" rx="2.70" ry="3.03"/><ellipse cx="22.0" cy="72.8" rx="2.58" ry="2.91"/><ellipse cx="120.9" cy="42.0" rx="2.45" ry="2.78"/><ellipse cx="142.2" cy="2.1" rx="2.50" ry="2.91"/><ellipse cx="144.8" cy="7.5" rx="2.67" ry="3.00"/><ellipse cx="34.7" cy="1.0" rx="2.59" ry="3.10"/><ellipse cx="111.5" cy="31.7" rx="2.81" ry="3.03"/><ellipse cx="30.2" cy="53.9" rx="2.40" ry="2.71"/><ellipse cx="36.8" cy="69.0" rx="2.61" ry="2.90"/><ellipse cx="56.3" cy="52.2" rx="2.52" ry="2.66"/><ellipse cx="130.3" cy="59.2" rx="2.55" ry="2.89"/><ellipse cx="77.8" cy="77.0" rx="2.55" ry="2.91"/><ellipse cx="55.6" cy="20.3" rx="2.57" ry="2.88"/><ellipse cx="140.6" cy="20.7" rx="2.71" ry="3.28"/><ellipse cx="105.6" cy="75.4" rx="2.36" ry="2.66"/></g>
</svg>
<svg x="163.2" y="450.3" width="153.5" height="91.7" viewBox="0 0 153.5 91.7" overflow="hidden">
<rect width="153.5" height="91.7" fill="#c7c1c4"/>
<g fill="#c3a3ba" stroke="#8a6a8c" stroke-width="0.6" filter="url(#bls)"><ellipse cx="124.8" cy="75.3" rx="2.68" ry="3.00"/><ellipse cx="43.0" cy="3.2" rx="2.73" ry="2.73"/><ellipse cx="62.3" cy="2.3" rx="2.47" ry="2.58"/><ellipse cx="155.4" cy="60.4" rx="2.49" ry="2.88"/><ellipse cx="66.5" cy="91.2" rx="2.89" ry="3.01"/><ellipse cx="131.0" cy="35.6" rx="2.76" ry="3.10"/><ellipse cx="104.6" cy="3.8" rx="2.80" ry="2.94"/><ellipse cx="40.8" cy="82.2" rx="2.51" ry="2.75"/><ellipse cx="105.0" cy="81.3" rx="2.39" ry="2.74"/><ellipse cx="139.0" cy="81.5" rx="2.56" ry="2.62"/><ellipse cx="109.4" cy="-1.9" rx="2.61" ry="3.01"/><ellipse cx="66.8" cy="17.5" rx="2.54" ry="2.90"/><ellipse cx="125.0" cy="28.3" rx="2.52" ry="2.65"/><ellipse cx="108.0" cy="40.9" rx="2.58" ry="3.08"/><ellipse cx="35.1" cy="28.6" rx="2.79" ry="3.09"/><ellipse cx="77.9" cy="46.5" rx="2.69" ry="2.70"/><ellipse cx="0.3" cy="87.3" rx="2.35" ry="2.89"/><ellipse cx="60.9" cy="87.6" rx="2.79" ry="3.15"/><ellipse cx="35.8" cy="69.0" rx="2.83" ry="2.97"/><ellipse cx="98.9" cy="8.2" rx="2.73" ry="3.08"/><ellipse cx="98.1" cy="34.0" rx="2.77" ry="3.03"/><ellipse cx="28.6" cy="35.4" rx="2.86" ry="3.18"/><ellipse cx="57.9" cy="66.3" rx="2.51" ry="3.15"/><ellipse cx="146.2" cy="92.9" rx="2.69" ry="3.13"/><ellipse cx="125.4" cy="12.6" rx="2.87" ry="3.09"/><ellipse cx="73.5" cy="89.7" rx="2.49" ry="2.90"/><ellipse cx="61.3" cy="-1.9" rx="2.58" ry="2.78"/><ellipse cx="97.5" cy="87.5" rx="2.67" ry="3.23"/><ellipse cx="49.6" cy="92.6" rx="2.49" ry="2.79"/><ellipse cx="9.6" cy="80.1" rx="2.71" ry="3.12"/><ellipse cx="20.0" cy="48.4" rx="2.58" ry="2.95"/><ellipse cx="75.5" cy="50.9" rx="2.42" ry="2.81"/><ellipse cx="134.1" cy="24.7" rx="2.61" ry="2.76"/><ellipse cx="7.0" cy="-1.7" rx="2.63" ry="2.85"/><ellipse cx="51.8" cy="86.8" rx="2.77" ry="3.11"/><ellipse cx="73.7" cy="41.5" rx="2.70" ry="2.97"/><ellipse cx="133.3" cy="30.3" rx="2.75" ry="3.20"/><ellipse cx="60.8" cy="54.9" rx="2.68" ry="3.14"/><ellipse cx="77.0" cy="64.1" rx="2.54" ry="2.95"/><ellipse cx="-1.1" cy="1.7" rx="2.58" ry="2.85"/><ellipse cx="31.6" cy="17.4" rx="2.34" ry="2.70"/><ellipse cx="32.2" cy="55.5" rx="2.76" ry="3.23"/><ellipse cx="53.0" cy="33.1" rx="2.47" ry="2.77"/><ellipse cx="105.2" cy="73.2" rx="2.73" ry="3.09"/><ellipse cx="127.8" cy="20.1" rx="2.84" ry="3.05"/><ellipse cx="47.8" cy="45.3" rx="2.53" ry="2.65"/><ellipse cx="4.8" cy="48.7" rx="2.58" ry="3.04"/><ellipse cx="129.2" cy="-0.1" rx="2.63" ry="2.97"/><ellipse cx="80.6" cy="51.9" rx="2.60" ry="2.78"/><ellipse cx="94.9" cy="21.7" rx="2.65" ry="2.78"/><ellipse cx="103.9" cy="16.3" rx="2.69" ry="3.24"/><ellipse cx="115.6" cy="89.4" rx="2.63" ry="3.03"/><ellipse cx="67.9" cy="23.0" rx="2.54" ry="2.71"/><ellipse cx="0.6" cy="21.6" rx="2.66" ry="2.97"/><ellipse cx="23.8" cy="64.0" rx="2.46" ry="2.99"/><ellipse cx="8.3" cy="16.4" rx="2.67" ry="3.03"/><ellipse cx="41.2" cy="44.7" rx="2.80" ry="2.96"/><ellipse cx="29.7" cy="68.1" rx="2.57" ry="2.65"/><ellipse cx="28.5" cy="29.0" rx="2.52" ry="2.67"/><ellipse cx="145.3" cy="32.9" rx="2.66" ry="2.85"/><ellipse cx="138.3" cy="21.2" rx="2.67" ry="2.83"/><ellipse cx="143.1" cy="7.7" rx="2.69" ry="3.00"/><ellipse cx="60.4" cy="72.8" rx="2.71" ry="2.87"/><ellipse cx="96.6" cy="46.5" rx="2.49" ry="2.76"/><ellipse cx="117.7" cy="76.8" rx="2.58" ry="3.00"/><ellipse cx="136.5" cy="38.1" rx="2.57" ry="2.91"/><ellipse cx="54.9" cy="3.7" rx="2.62" ry="2.90"/><ellipse cx="34.1" cy="4.0" rx="2.54" ry="3.12"/><ellipse cx="67.6" cy="0.4" rx="2.40" ry="2.82"/><ellipse cx="147.7" cy="8.8" rx="2.74" ry="3.09"/><ellipse cx="124.2" cy="-0.2" rx="2.42" ry="2.78"/><ellipse cx="144.5" cy="63.5" rx="2.59" ry="2.74"/><ellipse cx="73.6" cy="21.8" rx="2.75" ry="3.15"/><ellipse cx="110.3" cy="16.2" rx="2.47" ry="2.97"/><ellipse cx="65.0" cy="35.0" rx="2.87" ry="2.82"/><ellipse cx="8.6" cy="33.1" rx="2.98" ry="3.12"/><ellipse cx="87.3" cy="75.0" rx="2.64" ry="2.84"/><ellipse cx="47.9" cy="82.9" rx="2.62" ry="2.77"/><ellipse cx="52.0" cy="76.2" rx="2.52" ry="2.72"/><ellipse cx="3.5" cy="4.7" rx="2.52" ry="2.86"/><ellipse cx="26.6" cy="78.2" rx="2.50" ry="2.98"/><ellipse cx="7.6" cy="87.2" rx="2.91" ry="2.97"/><ellipse cx="39.7" cy="53.9" rx="2.47" ry="2.70"/><ellipse cx="151.6" cy="33.1" rx="2.56" ry="3.04"/><ellipse cx="88.2" cy="25.0" rx="2.81" ry="3.23"/><ellipse cx="154.3" cy="55.0" rx="2.48" ry="2.73"/><ellipse cx="125.3" cy="61.8" rx="2.78" ry="2.76"/><ellipse cx="101.1" cy="23.0" rx="2.57" ry="2.78"/><ellipse cx="79.2" cy="4.5" rx="2.74" ry="2.91"/><ellipse cx="26.7" cy="22.3" rx="2.65" ry="3.30"/><ellipse cx="155.0" cy="83.9" rx="2.91" ry="3.24"/><ellipse cx="50.4" cy="53.8" rx="2.55" ry="2.91"/><ellipse cx="11.9" cy="64.3" rx="2.60" ry="2.91"/><ellipse cx="80.2" cy="68.6" rx="2.48" ry="2.88"/><ellipse cx="31.5" cy="92.5" rx="2.72" ry="2.95"/><ellipse cx="86.3" cy="1.7" rx="2.64" ry="2.84"/><ellipse cx="38.4" cy="12.7" rx="2.67" ry="3.26"/><ellipse cx="149.6" cy="85.6" rx="2.57" ry="3.10"/><ellipse cx="139.2" cy="42.9" rx="2.61" ry="2.77"/><ellipse cx="31.3" cy="61.2" rx="2.65" ry="3.16"/><ellipse cx="149.2" cy="0.0" rx="2.57" ry="2.84"/><ellipse cx="64.6" cy="50.7" rx="2.75" ry="2.97"/><ellipse cx="85.7" cy="47.6" rx="2.67" ry="2.83"/><ellipse cx="100.4" cy="53.7" rx="2.95" ry="3.25"/><ellipse cx="27.9" cy="9.9" rx="2.66" ry="2.75"/><ellipse cx="49.3" cy="41.4" rx="2.39" ry="2.75"/><ellipse cx="109.3" cy="76.7" rx="2.59" ry="2.60"/><ellipse cx="146.0" cy="79.5" rx="2.60" ry="2.96"/><ellipse cx="70.1" cy="8.2" rx="2.38" ry="2.78"/><ellipse cx="87.0" cy="53.2" rx="2.65" ry="3.21"/><ellipse cx="44.9" cy="-1.0" rx="2.55" ry="2.86"/><ellipse cx="70.1" cy="12.5" rx="2.66" ry="2.79"/><ellipse cx="114.2" cy="34.1" rx="2.72" ry="2.86"/><ellipse cx="34.8" cy="48.9" rx="2.88" ry="3.27"/><ellipse cx="92.7" cy="50.0" rx="2.60" ry="3.08"/><ellipse cx="14.2" cy="52.4" rx="2.65" ry="3.16"/><ellipse cx="112.8" cy="42.7" rx="2.62" ry="2.76"/><ellipse cx="135.0" cy="-1.4" rx="2.54" ry="2.99"/><ellipse cx="148.8" cy="60.5" rx="2.82" ry="3.00"/><ellipse cx="146.5" cy="4.0" rx="2.49" ry="2.85"/><ellipse cx="73.2" cy="80.9" rx="2.66" ry="2.97"/><ellipse cx="123.6" cy="41.5" rx="2.91" ry="3.09"/><ellipse cx="51.4" cy="11.9" rx="2.68" ry="2.90"/><ellipse cx="61.8" cy="21.0" rx="2.55" ry="2.88"/><ellipse cx="105.4" cy="53.3" rx="2.69" ry="2.92"/><ellipse cx="110.0" cy="65.8" rx="2.60" ry="3.10"/><ellipse cx="54.2" cy="26.0" rx="2.85" ry="3.15"/><ellipse cx="46.1" cy="16.9" rx="2.64" ry="2.86"/><ellipse cx="79.2" cy="56.8" rx="2.44" ry="2.87"/><ellipse cx="41.4" cy="76.0" rx="2.53" ry="3.09"/><ellipse cx="13.1" cy="31.5" rx="2.70" ry="2.78"/><ellipse cx="21.8" cy="67.8" rx="2.50" ry="2.73"/><ellipse cx="69.8" cy="30.0" rx="2.58" ry="2.87"/><ellipse cx="55.3" cy="62.4" rx="2.69" ry="2.94"/><ellipse cx="118.4" cy="-1.8" rx="2.49" ry="2.91"/><ellipse cx="75.0" cy="75.9" rx="2.53" ry="2.78"/><ellipse cx="52.0" cy="44.8" rx="2.40" ry="2.94"/><ellipse cx="118.2" cy="59.6" rx="2.41" ry="2.89"/><ellipse cx="128.7" cy="50.4" rx="2.95" ry="3.28"/><ellipse cx="127.2" cy="7.6" rx="2.58" ry="2.82"/><ellipse cx="142.8" cy="75.6" rx="2.62" ry="2.98"/><ellipse cx="-0.2" cy="54.2" rx="2.63" ry="3.01"/><ellipse cx="20.7" cy="77.8" rx="2.64" ry="2.74"/><ellipse cx="92.4" cy="61.4" rx="2.64" ry="2.95"/><ellipse cx="17.9" cy="22.4" rx="2.74" ry="2.79"/><ellipse cx="86.4" cy="88.3" rx="2.38" ry="2.74"/><ellipse cx="70.9" cy="60.6" rx="2.56" ry="2.80"/><ellipse cx="14.3" cy="47.2" rx="2.32" ry="2.64"/><ellipse cx="130.6" cy="12.1" rx="2.66" ry="3.11"/><ellipse cx="16.9" cy="68.3" rx="2.58" ry="2.59"/><ellipse cx="45.3" cy="10.6" rx="2.52" ry="3.18"/><ellipse cx="22.6" cy="36.8" rx="2.55" ry="2.92"/><ellipse cx="118.7" cy="8.3" rx="2.58" ry="2.83"/><ellipse cx="82.9" cy="25.9" rx="2.62" ry="3.14"/><ellipse cx="93.3" cy="30.2" rx="2.54" ry="3.02"/><ellipse cx="113.3" cy="54.0" rx="2.86" ry="3.23"/><ellipse cx="138.9" cy="11.9" rx="2.61" ry="3.10"/><ellipse cx="4.6" cy="77.9" rx="2.62" ry="2.97"/><ellipse cx="144.6" cy="24.0" rx="2.42" ry="2.69"/><ellipse cx="119.5" cy="53.2" rx="2.80" ry="2.89"/><ellipse cx="87.9" cy="8.6" rx="2.48" ry="2.84"/><ellipse cx="152.2" cy="65.3" rx="2.81" ry="3.12"/><ellipse cx="86.3" cy="20.5" rx="2.54" ry="2.96"/><ellipse cx="90.0" cy="-1.0" rx="2.38" ry="2.86"/><ellipse cx="123.1" cy="34.3" rx="2.56" ry="3.11"/><ellipse cx="68.3" cy="45.4" rx="2.86" ry="3.18"/><ellipse cx="60.1" cy="7.7" rx="2.75" ry="3.20"/><ellipse cx="65.2" cy="67.7" rx="2.65" ry="3.08"/><ellipse cx="149.6" cy="72.6" rx="2.68" ry="3.06"/><ellipse cx="2.4" cy="41.4" rx="2.55" ry="2.86"/><ellipse cx="118.5" cy="42.4" rx="2.69" ry="2.86"/><ellipse cx="1.6" cy="67.0" rx="2.62" ry="3.10"/><ellipse cx="-0.0" cy="31.6" rx="2.74" ry="3.11"/><ellipse cx="7.1" cy="25.5" rx="2.62" ry="3.01"/><ellipse cx="33.2" cy="38.3" rx="2.51" ry="2.97"/><ellipse cx="103.0" cy="47.6" rx="2.62" ry="3.04"/><ellipse cx="95.8" cy="67.0" rx="2.57" ry="2.80"/><ellipse cx="152.4" cy="13.4" rx="2.79" ry="3.10"/><ellipse cx="151.8" cy="42.9" rx="2.37" ry="2.61"/><ellipse cx="70.5" cy="50.0" rx="2.87" ry="2.95"/><ellipse cx="155.4" cy="21.4" rx="2.49" ry="2.64"/><ellipse cx="141.8" cy="54.4" rx="2.95" ry="3.15"/><ellipse cx="27.1" cy="4.8" rx="2.59" ry="3.03"/><ellipse cx="131.2" cy="76.5" rx="2.74" ry="3.00"/><ellipse cx="15.5" cy="3.4" rx="2.60" ry="2.97"/><ellipse cx="113.6" cy="22.9" rx="2.86" ry="3.00"/><ellipse cx="33.6" cy="82.7" rx="2.57" ry="2.88"/><ellipse cx="82.1" cy="36.7" rx="2.64" ry="3.27"/><ellipse cx="10.9" cy="38.4" rx="2.63" ry="2.83"/><ellipse cx="35.8" cy="89.9" rx="2.76" ry="3.27"/><ellipse cx="107.1" cy="9.7" rx="2.72" ry="2.93"/><ellipse cx="-1.8" cy="25.4" rx="2.49" ry="3.10"/><ellipse cx="70.6" cy="73.5" rx="2.67" ry="3.04"/><ellipse cx="100.0" cy="41.0" rx="2.69" ry="2.98"/><ellipse cx="27.5" cy="83.9" rx="2.66" ry="3.08"/><ellipse cx="141.7" cy="89.0" rx="2.86" ry="2.87"/><ellipse cx="43.7" cy="85.5" rx="2.77" ry="3.10"/><ellipse cx="91.7" cy="75.4" rx="2.62" ry="2.87"/><ellipse cx="39.7" cy="32.7" rx="2.84" ry="3.12"/><ellipse cx="9.1" cy="92.2" rx="2.71" ry="2.97"/><ellipse cx="86.0" cy="65.7" rx="2.77" ry="3.19"/><ellipse cx="84.6" cy="42.9" rx="2.49" ry="2.66"/><ellipse cx="66.5" cy="80.6" rx="2.38" ry="2.89"/><ellipse cx="80.7" cy="89.0" rx="2.82" ry="3.04"/><ellipse cx="24.3" cy="73.5" rx="2.68" ry="2.81"/><ellipse cx="80.1" cy="-0.8" rx="2.40" ry="2.69"/><ellipse cx="9.4" cy="60.1" rx="2.59" ry="3.07"/><ellipse cx="105.9" cy="91.5" rx="2.48" ry="3.01"/><ellipse cx="101.0" cy="69.8" rx="2.41" ry="2.80"/><ellipse cx="19.1" cy="43.2" rx="2.86" ry="3.31"/><ellipse cx="31.3" cy="22.9" rx="2.70" ry="2.84"/><ellipse cx="132.9" cy="61.6" rx="2.59" ry="2.77"/><ellipse cx="143.0" cy="15.9" rx="2.59" ry="2.87"/><ellipse cx="106.4" cy="25.9" rx="2.84" ry="2.92"/><ellipse cx="124.1" cy="23.9" rx="2.52" ry="3.09"/><ellipse cx="96.6" cy="81.4" rx="2.41" ry="2.89"/><ellipse cx="16.9" cy="17.8" rx="2.34" ry="2.75"/><ellipse cx="131.6" cy="39.8" rx="2.61" ry="2.67"/><ellipse cx="121.4" cy="48.7" rx="2.62" ry="2.79"/><ellipse cx="57.1" cy="90.1" rx="2.80" ry="2.93"/><ellipse cx="24.5" cy="16.0" rx="2.61" ry="2.84"/><ellipse cx="146.1" cy="47.4" rx="2.43" ry="3.00"/><ellipse cx="11.3" cy="71.7" rx="3.00" ry="3.10"/><ellipse cx="18.3" cy="93.1" rx="2.64" ry="3.12"/><ellipse cx="59.9" cy="45.3" rx="2.52" ry="2.83"/><ellipse cx="23.1" cy="89.0" rx="2.50" ry="3.01"/><ellipse cx="141.1" cy="68.5" rx="2.92" ry="3.11"/><ellipse cx="112.8" cy="82.7" rx="2.64" ry="3.14"/><ellipse cx="62.1" cy="77.1" rx="2.69" ry="2.76"/><ellipse cx="101.3" cy="12.5" rx="2.48" ry="2.80"/><ellipse cx="51.6" cy="6.7" rx="2.66" ry="3.21"/><ellipse cx="47.7" cy="73.9" rx="2.80" ry="3.09"/><ellipse cx="15.6" cy="77.3" rx="2.45" ry="2.80"/><ellipse cx="56.0" cy="40.6" rx="2.55" ry="2.90"/><ellipse cx="82.7" cy="14.5" rx="2.70" ry="3.00"/></g>
</svg>
<rect x="146.2" y="536.2" width="5.1" height="1.5" fill="#111" />
<rect x="305.4" y="536.2" width="5" height="1.5" fill="#111" />
<polygon points="205,469.6 200,467.3 200,471.9" fill="#000" transform="rotate(65 202 469.6)"/>
<polygon points="244,494.2 239,491.9 239,496.5" fill="#000" transform="rotate(160 241 494.2)"/>
<polygon points="267.2,517.4 262.2,515.1 262.2,519.7" fill="#000" transform="rotate(160 264.2 517.4)"/>
<ellipse cx="230.7" cy="464.8" rx="1.9" ry="1.5" fill="#000"/>
<ellipse cx="278.6" cy="457.4" rx="1.9" ry="1.5" fill="#000"/>
<ellipse cx="180.2" cy="503.6" rx="1.9" ry="1.5" fill="#000"/>
<text x="65.3" y="444.9" font-size="8.3" font-style="italic" fill="#111" textLength="27.9" lengthAdjust="spacingAndGlyphs">SLFN14</text>
<text x="96" y="441.6" font-size="5.8" font-style="italic" fill="#111" textLength="8.7" lengthAdjust="spacingAndGlyphs">+/+</text>
<text x="211" y="445" font-size="8.3" font-style="italic" fill="#111" textLength="28" lengthAdjust="spacingAndGlyphs">SLFN14</text>
<text x="240.2" y="441.9" font-size="5.8" font-style="italic" fill="#111" textLength="23.3" lengthAdjust="spacingAndGlyphs">K208N/+</text>
</svg></body></html>
